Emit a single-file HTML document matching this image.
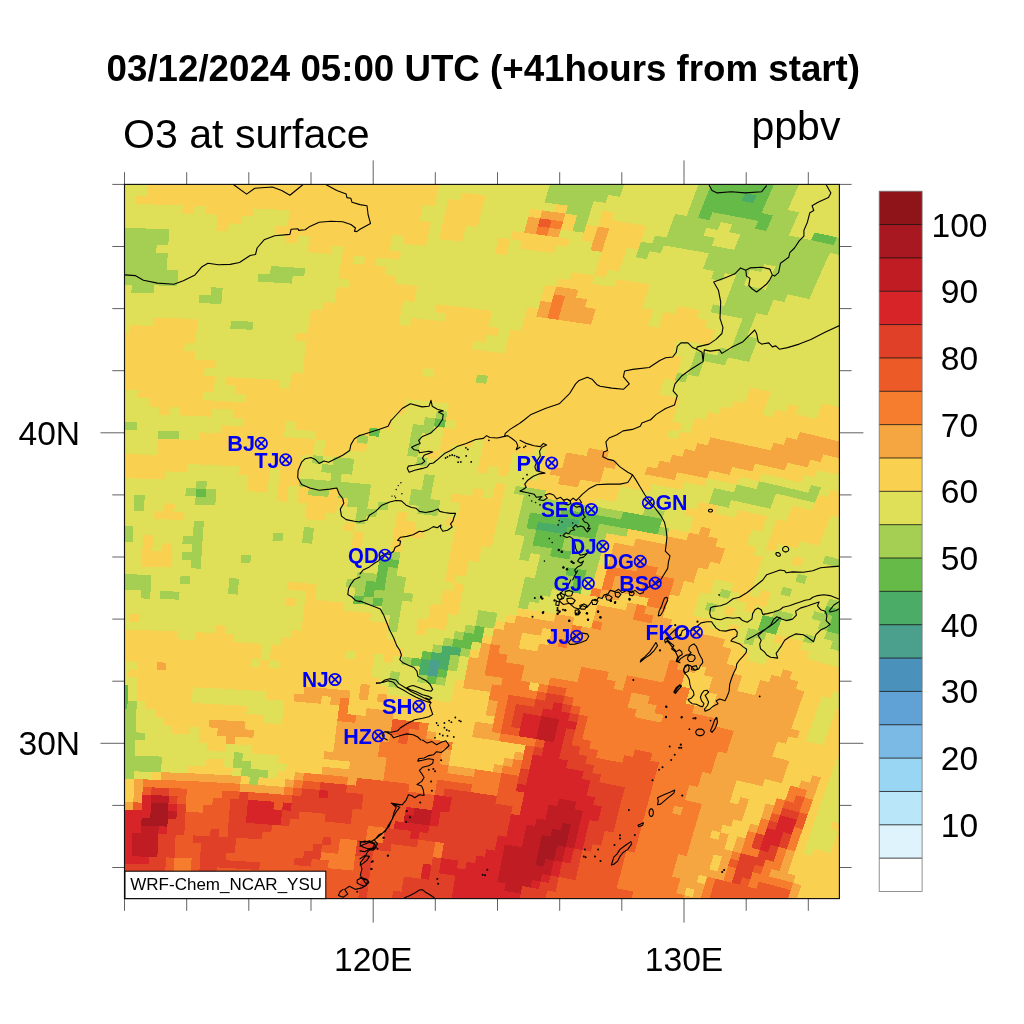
<!DOCTYPE html>
<html lang="en"><head><meta charset="utf-8"><title>O3 at surface</title>
<style>
html,body{margin:0;padding:0;background:#fff;}
svg{display:block;font-family:"Liberation Sans",Arial,Helvetica,sans-serif;}
.t{fill:#000;}
text{filter:url(#n);}
.city{fill:#0000f5;font-weight:bold;font-size:21.9px;}
</style></head><body>
<svg width="1024" height="1024" viewBox="0 0 1024 1024">
<rect width="1024" height="1024" fill="#fff"/>
<text class="t" x="483.3" y="80.5" text-anchor="middle" font-weight="bold" font-size="36.7px">03/12/2024 05:00 UTC (+41hours from start)</text>
<text class="t" x="123" y="148" font-size="41.1px">O3 at surface</text>
<text class="t" x="840.5" y="139.7" text-anchor="end" font-size="41.1px">ppbv</text>
<defs><filter id="n" x="-5%" y="-20%" width="110%" height="140%"><feOffset dx="0" dy="0"/></filter><clipPath id="fc"><rect x="124.5" y="184.4" width="714.9" height="714.2"/></clipPath></defs>
<g shape-rendering="crispEdges" clip-path="url(#fc)">
<rect x="124.5" y="184.4" width="714.9" height="714.2" fill="#FAD050"/>
<path fill="#4AA08C" d="M429.1 667.8L438.4 668.9L437 676.7L427.8 675.6ZM430.5 660L439.8 661.1L438.4 668.9L429.1 667.8Z"/>
<path fill="#4AAC66" d="M419.9 666.6L429.1 667.8L427.8 675.6L418.5 674.4ZM421.2 658.8L430.5 660L429.1 667.8L419.9 666.6ZM439.8 661.1L449.1 662.3L447.6 670.1L438.4 668.9ZM431.9 652.2L441.2 653.3L450.5 654.5L449.1 662.3L439.8 661.1L430.5 660ZM442.6 645.5L452 646.7L461.3 648L459.8 655.8L450.5 654.5L441.2 653.3ZM538.1 521.8L548 523.4L557.8 524.9L567.6 526.5L565.6 534.3L555.8 532.8L546 531.2L536.2 529.7ZM559.8 517.1L569.7 518.7L579.5 520.3L577.4 528.1L567.6 526.5L557.8 524.9ZM745.1 193.2L756.6 195.4L753.3 203.1L741.8 201Z"/>
<path fill="#66BA48" d="M118.4 700.7L127.6 700.9L127.4 708.7L118.2 708.5ZM118.6 692.8L127.8 693L127.6 700.9L118.4 700.7ZM118.8 685L128.1 685.2L127.8 693L118.6 692.8ZM427.8 675.6L437 676.7L435.6 684.5L426.4 683.3ZM438.4 668.9L447.6 670.1L446.2 677.9L437 676.7ZM411.9 657.7L421.2 658.8L419.9 666.6L410.6 665.5ZM422.6 651L431.9 652.2L430.5 660L421.2 658.8ZM453.5 638.9L462.8 640.2L472.2 641.5L470.6 649.3L461.3 648L452 646.7ZM464.3 632.4L473.7 633.7L483.1 635L481.5 642.8L472.2 641.5L462.8 640.2ZM475.3 625.9L484.7 627.2L483.1 635L473.7 633.7ZM354.3 595.6L363.9 596.5L362.8 604.4L353.2 603.5ZM373.5 597.5L383.1 598.5L381.9 606.4L372.3 605.4ZM365.1 588.6L374.7 589.6L373.5 597.5L363.9 596.5ZM366.3 580.7L376 581.7L385.6 582.7L384.4 590.6L374.7 589.6L365.1 588.6ZM377.2 573.8L386.9 574.9L385.6 582.7L376 581.7ZM378.4 565.9L388.2 567L386.9 574.9L377.2 573.8ZM379.7 558L389.4 559.1L399.2 560.1L397.9 568L388.2 567L378.4 565.9ZM573 584.4L582.5 586.1L580.5 593.8L571 592.2ZM760.2 622.6L769.4 624.8L778.6 627.1L775.9 634.7L766.7 632.4L757.6 630.2ZM575 576.6L584.5 578.3L582.5 586.1L573 584.4ZM762.9 615L772.1 617.2L781.3 619.5L778.6 627.1L769.4 624.8L760.2 622.6ZM567.4 567.2L577 568.8L586.6 570.5L584.5 578.3L575 576.6L565.4 575ZM829.8 623.5L838.9 626L847.9 628.4L845 635.9L835.9 633.5L826.9 631.1ZM832.7 616L841.8 618.4L850.9 620.9L847.9 628.4L838.9 626L829.8 623.5ZM551.9 548.4L561.7 550L571.3 551.6L569.3 559.4L559.7 557.8L550 556.2ZM826.4 606L835.6 608.4L844.8 610.9L841.8 618.4L832.7 616L823.5 613.6ZM534.3 537.5L544.1 539L553.9 540.6L563.6 542.2L561.7 550L551.9 548.4L542.2 546.9L532.5 545.4ZM536.2 529.7L546 531.2L555.8 532.8L565.6 534.3L563.6 542.2L553.9 540.6L544.1 539L534.3 537.5ZM196.1 488.5L206.3 488.9L205.7 496.9L195.6 496.5ZM528.3 520.3L538.1 521.8L536.2 529.7L526.4 528.2ZM567.6 526.5L577.4 528.1L587.2 529.8L597 531.5L594.9 539.3L585.2 537.6L575.4 536L565.6 534.3ZM530.1 512.5L540 514L549.9 515.5L559.8 517.1L557.8 524.9L548 523.4L538.1 521.8L528.3 520.3ZM579.5 520.3L589.3 522L599.1 523.7L597 531.5L587.2 529.8L577.4 528.1ZM561.8 509.2L571.7 510.8L581.6 512.5L591.5 514.2L601.3 515.9L611.1 517.6L620.9 519.4L630.7 521.2L640.5 523L650.3 524.8L660 526.7L657.6 534.5L647.9 532.6L638.2 530.8L628.5 529L618.7 527.2L608.9 525.4L599.1 523.7L589.3 522L579.5 520.3L569.7 518.7L559.8 517.1ZM623.2 511.6L633 513.4L642.8 515.2L652.6 517.1L662.4 519L660 526.7L650.3 524.8L640.5 523L630.7 521.2L620.9 519.4ZM369.7 427.8L380.2 428.8L378.9 436.8L368.5 435.8ZM435.4 418.4L445.9 419.7L444.3 427.6L433.9 426.4ZM701 210.2L712.5 212.3L709.5 220.1L698 218ZM758.2 220.9L769.6 223.2L766.3 230.9L755 228.7ZM814.7 232.5L825.9 234.9L837 237.4L833.5 245.1L822.4 242.6L811.2 240.2ZM704.1 202.4L715.6 204.5L727.1 206.6L738.6 208.7L750.1 210.9L761.5 213.1L772.9 215.4L769.6 223.2L758.2 220.9L746.9 218.7L735.4 216.5L724 214.4L712.5 212.3L701 210.2ZM707.1 194.6L718.7 196.7L730.3 198.8L741.8 201L753.3 203.1L764.8 205.4L761.5 213.1L750.1 210.9L738.6 208.7L727.1 206.6L715.6 204.5L704.1 202.4ZM710.2 186.8L721.9 188.9L733.5 191L745.1 193.2L741.8 201L730.3 198.8L718.7 196.7L707.1 194.6ZM756.6 195.4L768.2 197.6L764.8 205.4L753.3 203.1ZM713.4 179L725 181.1L736.7 183.2L748.4 185.4L760 187.6L771.5 189.9L768.2 197.6L756.6 195.4L745.1 193.2L733.5 191L721.9 188.9L710.2 186.8ZM728.3 173.3L740 175.4L751.7 177.6L763.3 179.9L774.9 182.1L771.5 189.9L760 187.6L748.4 185.4L736.7 183.2L725 181.1Z"/>
<path fill="#A4CF52" d="M116.6 771L125.5 771.2L134.4 771.4L134.1 779.1L125.3 778.9L116.4 778.8ZM249.9 776.6L258.8 777.2L258.1 785L249.2 784.4ZM116.8 763.2L125.7 763.4L134.7 763.6L143.6 763.8L152.5 764.1L161.5 764.4L161.1 772.2L152.2 771.9L143.3 771.6L134.4 771.4L125.5 771.2L116.6 771ZM241.7 768.3L250.6 768.9L259.5 769.5L268.3 770.1L267.6 777.9L258.8 777.2L249.9 776.6L241 776.1ZM117 755.4L125.9 755.6L134.9 755.8L143.9 756.1L152.8 756.3L161.8 756.6L161.5 764.4L152.5 764.1L143.6 763.8L134.7 763.6L125.7 763.4L116.8 763.2ZM233.4 760L242.3 760.6L251.2 761.1L250.6 768.9L241.7 768.3L232.8 767.8ZM117.2 747.6L126.2 747.8L135.2 748L134.9 755.8L125.9 755.6L117 755.4ZM234 752.2L243 752.8L242.3 760.6L233.4 760ZM117.4 739.8L126.4 740L135.4 740.2L135.2 748L126.2 747.8L117.2 747.6ZM117.6 732L126.6 732.2L135.7 732.4L144.8 732.7L144.5 740.5L135.4 740.2L126.4 740L117.4 739.8ZM117.8 724.2L126.9 724.4L136 724.6L135.7 732.4L126.6 732.2L117.6 732ZM118 716.4L127.1 716.5L136.2 716.8L136 724.6L126.9 724.4L117.8 724.2ZM118.2 708.5L127.4 708.7L136.5 708.9L136.2 716.8L127.1 716.5L118 716.4ZM127.6 700.9L136.8 701.1L136.5 708.9L127.4 708.7ZM389.6 679L398.8 680L397.6 687.8L388.4 686.8ZM390.8 671.2L400.1 672.2L398.8 680L389.6 679ZM418.5 674.4L427.8 675.6L426.4 683.3L417.2 682.2ZM437 676.7L446.2 677.9L444.8 685.7L435.6 684.5ZM402.6 656.6L411.9 657.7L410.6 665.5L401.3 664.4ZM449.1 662.3L458.3 663.6L456.8 671.4L447.6 670.1ZM450.5 654.5L459.8 655.8L458.3 663.6L449.1 662.3ZM433.3 644.3L442.6 645.5L441.2 653.3L431.9 652.2ZM461.3 648L470.6 649.3L469.1 657.1L459.8 655.8ZM444.1 637.7L453.5 638.9L452 646.7L442.6 645.5ZM388.9 623.1L398.4 624.2L397.1 632L387.7 631ZM454.9 631.1L464.3 632.4L462.8 640.2L453.5 638.9ZM390.2 615.3L399.7 616.3L398.4 624.2L388.9 623.1ZM465.9 624.6L475.3 625.9L473.7 633.7L464.3 632.4ZM140.9 590.5L150.6 590.8L150.2 598.7L140.6 598.4ZM160.3 591.1L169.9 591.4L179.6 591.8L179.2 599.7L169.5 599.3L159.9 599ZM381.9 606.4L391.4 607.4L401 608.5L399.7 616.3L390.2 615.3L380.6 614.3ZM476.9 618L486.3 619.4L495.7 620.7L494.1 628.5L484.7 627.2L475.3 625.9ZM111.9 581.9L121.7 582.1L131.4 582.3L141.2 582.6L150.9 582.8L150.6 590.8L140.9 590.5L131.2 590.3L121.5 590.1L111.7 589.9ZM228.7 586.1L238.4 586.6L237.7 594.6L228 594ZM363.9 596.5L373.5 597.5L372.3 605.4L362.8 604.4ZM383.1 598.5L392.7 599.5L402.3 600.6L401 608.5L391.4 607.4L381.9 606.4ZM478.5 610.2L487.9 611.6L497.4 612.9L495.7 620.7L486.3 619.4L476.9 618ZM112.1 574L121.9 574.2L131.7 574.4L141.5 574.6L151.3 574.9L150.9 582.8L141.2 582.6L131.4 582.3L121.7 582.1L111.9 581.9ZM180.6 575.9L190.3 576.3L189.8 584.2L180.1 583.8ZM229.3 578.1L239.1 578.7L238.4 586.6L228.7 586.1ZM355.4 587.7L365.1 588.6L363.9 596.5L354.3 595.6ZM374.7 589.6L384.4 590.6L394 591.7L403.6 592.7L413.2 593.8L411.8 601.7L402.3 600.6L392.7 599.5L383.1 598.5L373.5 597.5ZM346.9 578.9L356.6 579.8L366.3 580.7L365.1 588.6L355.4 587.7L345.8 586.8ZM385.6 582.7L395.3 583.8L404.9 584.9L403.6 592.7L394 591.7L384.4 590.6ZM519.8 600.1L529.3 601.6L527.5 609.4L518 607.9ZM191.3 560.3L201.2 560.8L200.6 568.7L190.8 568.3ZM357.7 571.9L367.5 572.8L377.2 573.8L376 581.7L366.3 580.7L356.6 579.8ZM386.9 574.9L396.6 575.9L406.3 577L404.9 584.9L395.3 583.8L385.6 582.7ZM521.6 592.3L531.1 593.8L540.6 595.3L538.7 603.1L529.3 601.6L519.8 600.1ZM745.9 635.7L755 637.8L752.4 645.4L743.3 643.3ZM182 552L191.8 552.4L201.7 552.8L201.2 560.8L191.3 560.3L181.5 559.9ZM241.2 554.8L251 555.4L250.3 563.4L240.5 562.8ZM388.2 567L397.9 568L396.6 575.9L386.9 574.9ZM523.3 584.5L532.9 586L542.4 587.5L552 589L550.1 596.8L540.6 595.3L531.1 593.8L521.6 592.3ZM748.4 628.1L757.6 630.2L766.7 632.4L764.1 640L755 637.8L745.9 635.7ZM192.4 544.4L202.3 544.8L201.7 552.8L191.8 552.4ZM525.1 576.7L534.7 578.2L544.3 579.7L553.9 581.2L563.4 582.8L573 584.4L571 592.2L561.5 590.6L552 589L542.4 587.5L532.9 586L523.3 584.5ZM805.9 633.9L815 636.3L812.1 643.8L803.1 641.5ZM833 641L842.1 643.5L851 645.9L848.1 653.4L839.2 651L830.2 648.6ZM113.1 534.1L123.1 534.3L133.1 534.5L132.8 542.5L122.9 542.3L112.9 542.1ZM182.9 536L192.9 536.4L202.8 536.9L202.3 544.8L192.4 544.4L182.4 544ZM390.7 551.1L400.5 552.2L399.2 560.1L389.4 559.1ZM536.6 570.4L546.2 571.9L555.8 573.4L565.4 575L575 576.6L573 584.4L563.4 582.8L553.9 581.2L544.3 579.7L534.7 578.2ZM707.3 602.3L716.6 604.3L714.1 612L704.8 610ZM826.9 631.1L835.9 633.5L845 635.9L842.1 643.5L833 641L824 638.6ZM113.3 526.1L123.4 526.3L133.4 526.5L133.1 534.5L123.1 534.3L113.1 534.1ZM193.4 528.5L203.4 528.9L202.8 536.9L192.9 536.4ZM273.2 532.8L283.2 533.5L282.3 541.5L272.4 540.8ZM303 535L313 535.8L312 543.7L302.1 543ZM538.4 562.5L548.1 564.1L557.7 565.6L567.4 567.2L565.4 575L555.8 573.4L546.2 571.9L536.6 570.4ZM586.6 570.5L596.1 572.2L594.1 579.9L584.5 578.3ZM774.8 609.6L784 611.9L793.2 614.1L790.4 621.7L781.3 619.5L772.1 617.2ZM820.7 621.2L829.8 623.5L826.9 631.1L817.8 628.7ZM193.9 520.5L204 520.9L203.4 528.9L193.4 528.5ZM304 527.1L314 527.8L313 535.8L303 535ZM520.9 551.7L530.6 553.2L528.8 561L519.1 559.6ZM540.3 554.7L550 556.2L559.7 557.8L569.3 559.4L579 561L588.6 562.7L598.2 564.4L596.1 572.2L586.6 570.5L577 568.8L567.4 567.2L557.7 565.6L548.1 564.1L538.4 562.5ZM721.6 589L731 591.1L728.4 598.8L719.1 596.7ZM814.4 611.2L823.5 613.6L832.7 616L829.8 623.5L820.7 621.2L811.5 618.8ZM522.7 543.9L532.5 545.4L542.2 546.9L551.9 548.4L550 556.2L540.3 554.7L530.6 553.2L520.9 551.7ZM571.3 551.6L581 553.2L590.7 554.9L600.3 556.6L598.2 564.4L588.6 562.7L579 561L569.3 559.4ZM134.2 502.5L144.4 502.8L144 510.8L134 510.5ZM356.1 515.4L366.1 516.4L364.9 524.3L354.9 523.4ZM524.6 536L534.3 537.5L532.5 545.4L522.7 543.9ZM563.6 542.2L573.4 543.8L583.1 545.4L592.8 547.1L602.5 548.8L600.3 556.6L590.7 554.9L581 553.2L571.3 551.6L561.7 550ZM783 586.8L792.3 589L789.5 596.7L780.3 594.4ZM829.4 598.5L838.6 600.9L847.7 603.3L844.8 610.9L835.6 608.4L826.4 606ZM134.5 494.5L144.7 494.7L144.4 502.8L134.2 502.5ZM195.6 496.5L205.7 496.9L215.9 497.4L215.2 505.4L205.1 504.9L195 504.5ZM357.3 507.5L367.3 508.5L377.4 509.5L376.1 517.4L366.1 516.4L356.1 515.4ZM516.6 526.7L526.4 528.2L536.2 529.7L534.3 537.5L524.6 536L514.7 534.6ZM565.6 534.3L575.4 536L585.2 537.6L594.9 539.3L604.6 541L602.5 548.8L592.8 547.1L583.1 545.4L573.4 543.8L563.6 542.2ZM841.5 593.3L850.7 595.8L847.7 603.3L838.6 600.9ZM185.9 488.1L196.1 488.5L195.6 496.5L185.4 496.1ZM206.3 488.9L216.5 489.4L215.9 497.4L205.7 496.9ZM348.4 498.6L358.5 499.5L368.6 500.5L367.3 508.5L357.3 507.5L347.2 506.6ZM378.6 501.5L388.7 502.5L387.4 510.5L377.4 509.5ZM418.8 505.8L428.8 507L438.8 508.2L437.3 516.1L427.3 514.9L417.4 513.8ZM518.4 518.8L528.3 520.3L526.4 528.2L516.6 526.7ZM597 531.5L606.8 533.2L604.6 541L594.9 539.3ZM798 573.8L807.3 576.1L804.5 583.8L795.2 581.4ZM196.6 480.5L206.9 480.9L206.3 488.9L196.1 488.5ZM309 487.2L319.1 488L329.3 488.9L328.2 496.8L318.1 496L307.9 495.2ZM339.4 489.7L349.6 490.6L359.7 491.6L369.8 492.6L368.6 500.5L358.5 499.5L348.4 498.6L338.3 497.7ZM410.2 496.8L420.3 497.9L430.3 499.1L440.4 500.3L438.8 508.2L428.8 507L418.8 505.8L408.8 504.7ZM520.2 511L530.1 512.5L528.3 520.3L518.4 518.8ZM599.1 523.7L608.9 525.4L618.7 527.2L628.5 529L626.2 536.7L616.5 535L606.8 533.2L597 531.5ZM299.8 478.5L310 479.2L320.2 480L330.4 480.9L340.6 481.8L350.7 482.7L360.9 483.6L371.1 484.6L369.8 492.6L359.7 491.6L349.6 490.6L339.4 489.7L329.3 488.9L319.1 488L309 487.2L298.8 486.4ZM411.6 488.8L421.7 490L431.8 491.1L430.3 499.1L420.3 497.9L410.2 496.8ZM522.1 503.1L532 504.6L542 506.1L551.9 507.7L561.8 509.2L559.8 517.1L549.9 515.5L540 514L530.1 512.5L520.2 511ZM660 526.7L669.7 528.6L667.3 536.4L657.6 534.5ZM331.5 472.9L341.7 473.8L340.6 481.8L330.4 480.9ZM423.2 482L433.3 483.2L431.8 491.1L421.7 490ZM523.9 495.2L533.9 496.7L543.9 498.2L553.9 499.8L563.8 501.4L573.8 503L583.7 504.7L593.6 506.3L603.5 508L613.3 509.8L623.2 511.6L620.9 519.4L611.1 517.6L601.3 515.9L591.5 514.2L581.6 512.5L571.7 510.8L561.8 509.2L551.9 507.7L542 506.1L532 504.6L522.1 503.1ZM825.5 555.7L834.9 558.1L844.3 560.6L841.3 568.2L831.9 565.7L822.5 563.3ZM322.3 464.1L332.6 464.9L342.9 465.8L353.1 466.7L351.9 474.7L341.7 473.8L331.5 472.9L321.2 472.1ZM424.7 474.1L434.9 475.3L433.3 483.2L423.2 482ZM515.8 485.9L525.8 487.3L535.9 488.8L545.9 490.4L543.9 498.2L533.9 496.7L523.9 495.2L513.9 493.8ZM645.2 507.4L655 509.3L664.8 511.2L662.4 519L652.6 517.1L642.8 515.2ZM313.1 455.3L323.4 456.1L322.3 464.1L312 463.3ZM333.7 456.9L344 457.8L354.3 458.8L353.1 466.7L342.9 465.8L332.6 464.9ZM417.4 457L427.7 458.2L426.2 466.2L416 465ZM158 430.8L168.5 431.1L179 431.5L178.6 439.5L168.1 439.2L157.6 438.9ZM408.6 448L418.9 449.1L417.4 457L407.1 455.9ZM711.7 495.9L721.5 498L731.3 500.1L728.6 507.8L718.8 505.7L709 503.6ZM116.2 421.8L126.7 422L137.3 422.2L137 430.3L126.5 430L115.9 429.9ZM358 434.8L368.5 435.8L367.2 443.8L356.8 442.8ZM410 440L420.4 441.1L418.9 449.1L408.6 448ZM714.3 488.1L724.1 490.2L734 492.4L743.8 494.5L753.6 496.7L763.4 498.9L773.1 501.1L770.3 508.8L760.5 506.6L750.8 504.4L741.1 502.2L731.3 500.1L721.5 498L711.7 495.9ZM411.5 432L421.9 433.2L420.4 441.1L410 440ZM736.7 484.6L746.6 486.8L756.4 489L766.2 491.2L776 493.5L773.1 501.1L763.4 498.9L753.6 496.7L743.8 494.5L734 492.4ZM413 424.1L423.4 425.2L433.9 426.4L432.3 434.3L421.9 433.2L411.5 432ZM759.2 481.3L769.1 483.5L778.9 485.8L788.7 488.1L798.4 490.4L808.2 492.7L817.9 495.1L814.9 502.8L805.2 500.4L795.5 498.1L785.7 495.7L776 493.5L766.2 491.2L756.4 489ZM425 417.2L435.4 418.4L433.9 426.4L423.4 425.2ZM811.2 485.1L821 487.5L817.9 495.1L808.2 492.7ZM437 410.5L447.5 411.7L445.9 419.7L435.4 418.4ZM477.3 374.5L488 375.8L486.2 383.8L475.5 382.4ZM231 320.6L242.1 321.2L253.3 321.8L252.4 329.8L241.3 329.3L230.3 328.7ZM677.4 372.7L688 374.7L685.3 382.5L674.8 380.6ZM690.7 366.9L701.2 369L698.4 376.8L688 374.7ZM693.4 359.1L704 361.1L701.2 369L690.7 366.9ZM199.4 294.9L210.7 295.4L222 295.9L221.3 304L210 303.5L198.8 303ZM696.1 351.3L706.8 353.3L717.4 355.4L727.9 357.5L725 365.3L714.5 363.2L704 361.1L693.4 359.1ZM131.7 284.9L143.1 285.1L154.5 285.4L154.1 293.5L142.8 293.2L131.4 292.9ZM211.4 287.3L222.7 287.8L222 295.9L210.7 295.4ZM720.2 347.6L730.8 349.8L741.4 351.9L752 354.1L749 361.9L738.5 359.7L727.9 357.5L717.4 355.4ZM120.6 276.6L132.1 276.8L143.5 277L154.9 277.3L166.4 277.6L177.8 278L177.3 286.1L165.9 285.7L154.5 285.4L143.1 285.1L131.7 284.9L120.3 284.6ZM733.8 342L744.4 344.1L755 346.3L752 354.1L741.4 351.9L730.8 349.8ZM120.9 268.5L132.4 268.7L143.9 268.9L155.4 269.2L166.9 269.5L178.3 269.9L177.8 278L166.4 277.6L154.9 277.3L143.5 277L132.1 276.8L120.6 276.6ZM258.6 273.5L270 274.1L281.4 274.8L292.8 275.5L291.8 283.6L280.4 282.9L269 282.2L257.7 281.5ZM736.7 334.2L747.4 336.4L758 338.6L755 346.3L744.4 344.1L733.8 342ZM121.2 260.4L132.7 260.6L144.3 260.9L155.8 261.1L167.3 261.5L166.9 269.5L155.4 269.2L143.9 268.9L132.4 268.7L120.9 268.5ZM270.9 266.1L282.4 266.7L293.9 267.5L305.3 268.2L304.2 276.3L292.8 275.5L281.4 274.8L270 274.1ZM739.7 326.4L750.4 328.6L747.4 336.4L736.7 334.2ZM121.4 252.3L133 252.5L144.6 252.8L156.2 253.1L167.8 253.4L167.3 261.5L155.8 261.1L144.3 260.9L132.7 260.6L121.2 260.4ZM742.7 318.6L753.5 320.8L750.4 328.6L739.7 326.4ZM121.7 244.2L133.4 244.5L145 244.7L156.7 245L156.2 253.1L144.6 252.8L133 252.5L121.4 252.3ZM713.2 304.4L724.1 306.5L734.9 308.7L745.7 310.9L756.5 313.1L753.5 320.8L742.7 318.6L731.9 316.5L721.1 314.3L710.3 312.2ZM122 236.2L133.7 236.4L145.4 236.6L157.1 236.9L168.8 237.2L168.3 245.3L156.7 245L145 244.7L133.4 244.5L121.7 244.2ZM727 298.7L737.9 300.9L748.8 303.1L759.6 305.3L770.4 307.5L767.3 315.3L756.5 313.1L745.7 310.9L734.9 308.7L724.1 306.5ZM122.3 228.1L134 228.3L145.8 228.5L157.6 228.8L169.3 229.2L168.8 237.2L157.1 236.9L145.4 236.6L133.7 236.4L122 236.2ZM730 291L741 293.1L751.9 295.3L762.8 297.5L773.6 299.8L770.4 307.5L759.6 305.3L748.8 303.1L737.9 300.9L727 298.7ZM733 283.2L744 285.3L755 287.5L765.9 289.8L776.8 292L787.7 294.3L784.4 302.1L773.6 299.8L762.8 297.5L751.9 295.3L741 293.1L730 291ZM714 271.1L725 273.2L722 281L711 278.9ZM736.1 275.4L747.1 277.5L744 285.3L733 283.2ZM769.1 282L780 284.3L791 286.6L801.8 289L812.7 291.3L809.3 299.1L798.5 296.7L787.7 294.3L776.8 292L765.9 289.8ZM638.3 249.5L649.6 251.3L646.9 259.2L635.7 257.3ZM705.8 261.2L717 263.3L728.1 265.4L739.2 267.6L750.2 269.8L747.1 277.5L736.1 275.4L725 273.2L714 271.1L702.9 269ZM772.3 274.3L783.3 276.5L794.3 278.9L805.2 281.2L816.1 283.6L812.7 291.3L801.8 289L791 286.6L780 284.3L769.1 282ZM641 241.6L652.4 243.5L663.7 245.4L660.9 253.2L649.6 251.3L638.3 249.5ZM708.8 253.4L720 255.5L731.1 257.6L742.3 259.8L753.4 262L764.5 264.2L761.3 272L750.2 269.8L739.2 267.6L728.1 265.4L717 263.3L705.8 261.2ZM775.6 266.5L786.6 268.8L797.6 271.1L808.6 273.5L819.5 275.9L816.1 283.6L805.2 281.2L794.3 278.9L783.3 276.5L772.3 274.3ZM574.8 223.2L586.3 224.8L583.9 232.7L572.4 231.1ZM655.1 235.6L666.5 237.5L677.9 239.5L689.2 241.5L700.5 243.5L711.8 245.6L723 247.7L734.2 249.8L745.4 252L756.6 254.2L767.7 256.5L778.8 258.7L789.9 261.1L800.9 263.4L812 265.8L822.9 268.2L819.5 275.9L808.6 273.5L797.6 271.1L786.6 268.8L775.6 266.5L764.5 264.2L753.4 262L742.3 259.8L731.1 257.6L720 255.5L708.8 253.4L697.5 251.3L686.3 249.3L675 247.3L663.7 245.4L652.4 243.5ZM577.2 215.2L588.8 216.9L586.3 224.8L574.8 223.2ZM669.3 229.7L680.7 231.7L692.1 233.7L703.5 235.7L714.8 237.8L711.8 245.6L700.5 243.5L689.2 241.5L677.9 239.5L666.5 237.5ZM737.3 242L748.6 244.2L759.8 246.4L771 248.7L782.1 251L793.2 253.3L804.3 255.7L815.4 258.1L826.4 260.5L822.9 268.2L812 265.8L800.9 263.4L789.9 261.1L778.8 258.7L767.7 256.5L756.6 254.2L745.4 252L734.2 249.8ZM568 205.7L579.7 207.3L591.3 209L588.8 216.9L577.2 215.2L565.6 213.6ZM672.2 221.9L683.6 223.8L695.1 225.8L706.5 227.9L703.5 235.7L692.1 233.7L680.7 231.7L669.3 229.7ZM740.5 234.3L751.8 236.5L763 238.7L774.3 240.9L785.4 243.2L796.6 245.6L807.8 247.9L818.9 250.3L829.9 252.8L826.4 260.5L815.4 258.1L804.3 255.7L793.2 253.3L782.1 251L771 248.7L759.8 246.4L748.6 244.2L737.3 242ZM546.9 194.6L558.6 196.2L570.4 197.8L582.1 199.4L593.8 201.1L591.3 209L579.7 207.3L568 205.7L556.3 204.1L544.6 202.5ZM675.1 214L686.6 216L698 218L709.5 220.1L720.9 222.2L717.8 230L706.5 227.9L695.1 225.8L683.6 223.8L672.2 221.9ZM732.3 224.3L743.7 226.5L755 228.7L766.3 230.9L777.6 233.2L788.8 235.5L800 237.8L811.2 240.2L822.4 242.6L833.5 245.1L844.6 247.6L841 255.3L829.9 252.8L818.9 250.3L807.8 247.9L796.6 245.6L785.4 243.2L774.3 240.9L763 238.7L751.8 236.5L740.5 234.3L729.2 232.1ZM549.2 186.6L561 188.2L572.8 189.9L584.6 191.5L596.4 193.2L608.1 195L605.5 202.9L593.8 201.1L582.1 199.4L570.4 197.8L558.6 196.2L546.9 194.6ZM689.5 208.2L701 210.2L698 218L686.6 216ZM712.5 212.3L724 214.4L735.4 216.5L746.9 218.7L758.2 220.9L755 228.7L743.7 226.5L732.3 224.3L720.9 222.2L709.5 220.1ZM769.6 223.2L780.9 225.4L792.2 227.8L788.8 235.5L777.6 233.2L766.3 230.9ZM837 237.4L848.2 239.9L844.6 247.6L833.5 245.1ZM551.6 178.7L563.4 180.3L575.3 182L587.1 183.6L598.9 185.3L610.7 187.1L622.5 188.9L619.8 196.7L608.1 195L596.4 193.2L584.6 191.5L572.8 189.9L561 188.2L549.2 186.6ZM692.5 200.3L704.1 202.4L701 210.2L689.5 208.2ZM772.9 215.4L784.3 217.7L795.6 220L792.2 227.8L780.9 225.4L769.6 223.2ZM565.9 172.4L577.8 174L589.7 175.7L601.5 177.4L613.4 179.2L625.2 181L622.5 188.9L610.7 187.1L598.9 185.3L587.1 183.6L575.3 182L563.4 180.3ZM695.5 192.5L707.1 194.6L704.1 202.4L692.5 200.3ZM764.8 205.4L776.3 207.6L787.7 210L799.1 212.3L795.6 220L784.3 217.7L772.9 215.4L761.5 213.1ZM698.6 184.7L710.2 186.8L707.1 194.6L695.5 192.5ZM768.2 197.6L779.7 199.9L791.1 202.2L787.7 210L776.3 207.6L764.8 205.4ZM701.6 176.9L713.4 179L710.2 186.8L698.6 184.7ZM771.5 189.9L783.1 192.2L794.6 194.5L791.1 202.2L779.7 199.9L768.2 197.6ZM774.9 182.1L786.5 184.4L798.1 186.8L794.6 194.5L783.1 192.2L771.5 189.9ZM766.7 172.1L778.4 174.4L790 176.7L801.6 179L798.1 186.8L786.5 184.4L774.9 182.1L763.3 179.9Z"/>
<path fill="#DFDF58" d="M134.4 771.4L143.3 771.6L152.2 771.9L151.9 779.6L143 779.4L134.1 779.1ZM161.5 764.4L170.4 764.7L179.3 765.1L188.2 765.5L187.8 773.2L178.9 772.8L170 772.5L161.1 772.2ZM232.8 767.8L241.7 768.3L241 776.1L232.2 775.5ZM268.3 770.1L277.2 770.8L276.5 778.5L267.6 777.9ZM161.8 756.6L170.8 756.9L179.7 757.3L188.7 757.7L197.6 758.1L206.6 758.5L206.1 766.3L197.1 765.9L188.2 765.5L179.3 765.1L170.4 764.7L161.5 764.4ZM224.5 759.5L233.4 760L232.8 767.8L223.9 767.3ZM251.2 761.1L260.2 761.7L269.1 762.4L278 763L286.9 763.7L286.1 771.5L277.2 770.8L268.3 770.1L259.5 769.5L250.6 768.9ZM135.2 748L144.2 748.3L153.2 748.5L162.2 748.8L171.2 749.2L180.1 749.5L189.1 749.9L198.1 750.3L207.1 750.7L216.1 751.2L225 751.7L234 752.2L233.4 760L224.5 759.5L215.5 759L206.6 758.5L197.6 758.1L188.7 757.7L179.7 757.3L170.8 756.9L161.8 756.6L152.8 756.3L143.9 756.1L134.9 755.8ZM243 752.8L251.9 753.4L260.9 754L269.8 754.6L278.8 755.3L278 763L269.1 762.4L260.2 761.7L251.2 761.1L242.3 760.6ZM805.8 846.3L814.1 848.5L811.5 855.9L803.3 853.6ZM135.4 740.2L144.5 740.5L153.5 740.7L162.5 741L171.6 741.4L180.6 741.7L189.6 742.1L198.6 742.5L207.6 743L207.1 750.7L198.1 750.3L189.1 749.9L180.1 749.5L171.2 749.2L162.2 748.8L153.2 748.5L144.2 748.3L135.2 748ZM225.6 743.9L234.6 744.5L243.6 745L252.6 745.6L251.9 753.4L243 752.8L234 752.2L225 751.7ZM808.4 838.9L816.6 841.2L824.8 843.5L833.1 845.8L830.4 853.2L822.3 850.8L814.1 848.5L805.8 846.3ZM144.8 732.7L153.8 732.9L162.9 733.2L172 733.6L181 733.9L190.1 734.3L199.1 734.7L198.6 742.5L189.6 742.1L180.6 741.7L171.6 741.4L162.5 741L153.5 740.7L144.5 740.5ZM810.9 831.6L819.2 833.9L827.5 836.2L835.7 838.5L833.1 845.8L824.8 843.5L816.6 841.2L808.4 838.9ZM136 724.6L145.1 724.8L154.2 725.1L163.3 725.4L172.4 725.7L172 733.6L162.9 733.2L153.8 732.9L144.8 732.7L135.7 732.4ZM190.5 726.5L199.6 726.9L199.1 734.7L190.1 734.3ZM813.5 824.2L821.8 826.5L830.1 828.8L838.3 831.2L835.7 838.5L827.5 836.2L819.2 833.9L810.9 831.6ZM136.2 716.8L145.4 717L154.5 717.3L163.6 717.6L163.3 725.4L154.2 725.1L145.1 724.8L136 724.6ZM816.1 816.8L824.4 819.2L832.7 821.5L830.1 828.8L821.8 826.5L813.5 824.2ZM136.5 708.9L145.7 709.2L154.8 709.5L154.5 717.3L145.4 717L136.2 716.8ZM264.5 715L273.6 715.7L282.7 716.3L281.9 724.1L272.9 723.5L263.8 722.8ZM818.7 809.5L827.1 811.8L835.4 814.1L843.7 816.5L852 818.9L849.3 826.2L841 823.9L832.7 821.5L824.4 819.2L816.1 816.8ZM136.8 701.1L146 701.3L145.7 709.2L136.5 708.9ZM247 706L256.1 706.6L265.3 707.2L274.4 707.9L283.5 708.5L282.7 716.3L273.6 715.7L264.5 715L255.4 714.4L246.3 713.8ZM821.3 802.1L829.7 804.4L838.1 806.8L846.4 809.2L843.7 816.5L835.4 814.1L827.1 811.8L818.7 809.5ZM127.8 693L137.1 693.2L136.8 701.1L127.6 700.9ZM192.4 695.2L201.6 695.6L210.8 696.1L220.1 696.5L229.3 697L238.5 697.6L247.6 698.2L256.8 698.8L266 699.4L275.2 700L284.4 700.7L283.5 708.5L274.4 707.9L265.3 707.2L256.1 706.6L247 706L237.8 705.4L228.6 704.9L219.5 704.4L210.3 703.9L201.1 703.4L191.9 703ZM824 794.7L832.4 797L840.8 799.4L849.1 801.8L846.4 809.2L838.1 806.8L829.7 804.4L821.3 802.1ZM128.1 685.2L137.3 685.4L137.1 693.2L127.8 693ZM192.9 687.3L202.2 687.7L211.4 688.2L220.6 688.7L229.9 689.2L239.1 689.7L248.3 690.3L257.6 690.9L266.8 691.6L266 699.4L256.8 698.8L247.6 698.2L238.5 697.6L229.3 697L220.1 696.5L210.8 696.1L201.6 695.6L192.4 695.2ZM826.7 787.3L835.1 789.7L843.5 792L851.9 794.5L849.1 801.8L840.8 799.4L832.4 797L824 794.7ZM119 677.1L128.3 677.3L137.6 677.5L137.3 685.4L128.1 685.2L118.8 685ZM829.3 779.9L837.8 782.3L846.2 784.7L843.5 792L835.1 789.7L826.7 787.3ZM119.2 669.2L128.6 669.4L128.3 677.3L119 677.1ZM388.4 686.8L397.6 687.8L406.7 688.9L415.9 690L425.1 691.1L434.2 692.3L443.3 693.5L452.5 694.7L451 702.4L441.9 701.2L432.8 700.1L423.7 698.9L414.6 697.8L405.5 696.7L396.3 695.6L387.2 694.6ZM832 772.5L840.5 774.9L849 777.3L846.2 784.7L837.8 782.3L829.3 779.9ZM119.4 661.3L128.8 661.5L138.2 661.8L137.9 669.6L128.6 669.4L119.2 669.2ZM380.4 678L389.6 679L388.4 686.8L379.2 685.8ZM398.8 680L408 681.1L417.2 682.2L426.4 683.3L435.6 684.5L444.8 685.7L453.9 686.9L452.5 694.7L443.3 693.5L434.2 692.3L425.1 691.1L415.9 690L406.7 688.9L397.6 687.8ZM834.8 765.1L843.2 767.5L851.7 769.9L849 777.3L840.5 774.9L832 772.5ZM251.1 658.9L260.5 659.5L259.8 667.4L250.4 666.8ZM269.9 660.2L279.2 660.8L278.4 668.7L269.1 668ZM372.3 669.2L381.6 670.2L390.8 671.2L389.6 679L380.4 678L371.1 677ZM400.1 672.2L409.3 673.3L418.5 674.4L417.2 682.2L408 681.1L398.8 680ZM446.2 677.9L455.4 679.1L453.9 686.9L444.8 685.7ZM837.5 757.7L846 760.1L843.2 767.5L834.8 765.1ZM261.2 651.6L270.6 652.3L269.9 660.2L260.5 659.5ZM373.5 661.3L382.8 662.3L392.1 663.4L401.3 664.4L410.6 665.5L419.9 666.6L418.5 674.4L409.3 673.3L400.1 672.2L390.8 671.2L381.6 670.2L372.3 669.2ZM447.6 670.1L456.8 671.4L466 672.6L464.5 680.4L455.4 679.1L446.2 677.9ZM262 643.8L271.4 644.4L270.6 652.3L261.2 651.6ZM346.6 650.7L355.9 651.6L354.8 659.4L345.5 658.5ZM374.6 653.5L384 654.5L382.8 662.3L373.5 661.3ZM393.3 655.5L402.6 656.6L401.3 664.4L392.1 663.4ZM458.3 663.6L467.6 664.8L466 672.6L456.8 671.4ZM808.5 733.4L817.2 735.7L825.8 738.1L823.1 745.5L814.5 743.2L805.9 740.9ZM177.4 631.4L186.9 631.8L196.4 632.2L195.9 640.1L186.4 639.7L177 639.3ZM234.4 634.1L243.8 634.7L253.3 635.3L262.8 635.9L272.2 636.5L281.7 637.2L280.8 645.1L271.4 644.4L262 643.8L252.6 643.2L243.1 642.6L233.7 642ZM403.9 648.8L413.2 649.9L422.6 651L421.2 658.8L411.9 657.7L402.6 656.6ZM459.8 655.8L469.1 657.1L467.6 664.8L458.3 663.6ZM811.2 725.9L819.9 728.3L828.6 730.6L825.8 738.1L817.2 735.7L808.5 733.4ZM120.5 621.8L130.1 622L139.7 622.2L149.2 622.5L158.8 622.8L168.3 623.1L177.8 623.5L187.4 623.8L196.9 624.3L206.4 624.7L216 625.2L215.4 633.1L205.9 632.6L196.4 632.2L186.9 631.8L177.4 631.4L167.9 631L158.4 630.7L148.9 630.4L139.4 630.2L129.8 629.9L120.3 629.7ZM225.5 625.7L235 626.2L244.5 626.8L254 627.4L263.5 628L273 628.7L282.5 629.3L292 630L291.1 637.9L281.7 637.2L272.2 636.5L262.8 635.9L253.3 635.3L243.8 634.7L234.4 634.1L224.9 633.6ZM395.8 639.9L405.2 640.9L414.6 642.1L423.9 643.2L433.3 644.3L431.9 652.2L422.6 651L413.2 649.9L403.9 648.8L394.6 647.7ZM813.9 718.5L822.6 720.8L831.3 723.2L828.6 730.6L819.9 728.3L811.2 725.9ZM120.8 613.9L130.4 614.1L130.1 622L120.5 621.8ZM140 614.3L149.5 614.6L159.1 614.9L168.7 615.2L178.3 615.5L187.9 615.9L197.4 616.3L207 616.8L216.6 617.3L226.1 617.8L235.7 618.3L245.2 618.9L254.8 619.5L264.3 620.1L273.8 620.8L283.4 621.4L292.9 622.2L302.4 622.9L301.5 630.8L292 630L282.5 629.3L273 628.7L263.5 628L254 627.4L244.5 626.8L235 626.2L225.5 625.7L216 625.2L206.4 624.7L196.9 624.3L187.4 623.8L177.8 623.5L168.3 623.1L158.8 622.8L149.2 622.5L139.7 622.2ZM387.7 631L397.1 632L406.5 633.1L415.9 634.2L425.3 635.4L434.7 636.5L444.1 637.7L442.6 645.5L433.3 644.3L423.9 643.2L414.6 642.1L405.2 640.9L395.8 639.9L386.4 638.8ZM472.2 641.5L481.5 642.8L479.9 650.6L470.6 649.3ZM816.6 711L825.4 713.3L834.1 715.7L831.3 723.2L822.6 720.8L813.9 718.5ZM121 605.9L130.6 606.1L140.3 606.4L149.9 606.6L159.5 606.9L169.1 607.3L178.7 607.6L188.3 608L198 608.4L207.6 608.9L217.2 609.3L226.8 609.9L236.3 610.4L245.9 611L255.5 611.6L265.1 612.2L274.7 612.9L284.2 613.5L293.8 614.3L303.3 615L302.4 622.9L292.9 622.2L283.4 621.4L273.8 620.8L264.3 620.1L254.8 619.5L245.2 618.9L235.7 618.3L226.1 617.8L216.6 617.3L207 616.8L197.4 616.3L187.9 615.9L178.3 615.5L168.7 615.2L159.1 614.9L149.5 614.6L140 614.3L130.4 614.1L120.8 613.9ZM398.4 624.2L407.8 625.3L417.3 626.4L415.9 634.2L406.5 633.1L397.1 632ZM426.7 627.5L436.1 628.7L445.5 629.9L454.9 631.1L453.5 638.9L444.1 637.7L434.7 636.5L425.3 635.4ZM819.4 703.5L828.2 705.9L836.9 708.3L834.1 715.7L825.4 713.3L816.6 711ZM121.2 598L130.9 598.2L140.6 598.4L150.2 598.7L159.9 599L169.5 599.3L179.2 599.7L188.8 600.1L198.5 600.5L208.1 600.9L217.8 601.4L227.4 601.9L237 602.5L246.6 603.1L256.3 603.7L265.9 604.3L275.5 605L285.1 605.6L294.7 606.4L304.2 607.1L303.3 615L293.8 614.3L284.2 613.5L274.7 612.9L265.1 612.2L255.5 611.6L245.9 611L236.3 610.4L226.8 609.9L217.2 609.3L207.6 608.9L198 608.4L188.3 608L178.7 607.6L169.1 607.3L159.5 606.9L149.9 606.6L140.3 606.4L130.6 606.1L121 605.9ZM371.1 613.3L380.6 614.3L390.2 615.3L388.9 623.1L379.4 622.1L369.9 621.1ZM399.7 616.3L409.1 617.4L418.6 618.5L417.3 626.4L407.8 625.3L398.4 624.2ZM447 622.1L456.4 623.3L465.9 624.6L464.3 632.4L454.9 631.1L445.5 629.9ZM484.7 627.2L494.1 628.5L492.4 636.3L483.1 635ZM822.2 696L830.9 698.4L839.7 700.8L848.5 703.2L845.6 710.7L836.9 708.3L828.2 705.9L819.4 703.5ZM121.5 590.1L131.2 590.3L140.9 590.5L140.6 598.4L130.9 598.2L121.2 598ZM150.6 590.8L160.3 591.1L159.9 599L150.2 598.7ZM179.6 591.8L189.3 592.1L199 592.6L208.7 593L218.4 593.5L228 594L237.7 594.6L247.4 595.1L257 595.7L266.7 596.4L276.3 597L285.9 597.7L285.1 605.6L275.5 605L265.9 604.3L256.3 603.7L246.6 603.1L237 602.5L227.4 601.9L217.8 601.4L208.1 600.9L198.5 600.5L188.8 600.1L179.2 599.7ZM295.6 598.5L305.2 599.2L304.2 607.1L294.7 606.4ZM343.6 602.6L353.2 603.5L362.8 604.4L372.3 605.4L381.9 606.4L380.6 614.3L371.1 613.3L361.6 612.3L352.1 611.4L342.5 610.4ZM401 608.5L410.5 609.6L420 610.7L429.5 611.8L428.1 619.7L418.6 618.5L409.1 617.4L399.7 616.3ZM448.5 614.2L458 615.5L467.4 616.7L476.9 618L475.3 625.9L465.9 624.6L456.4 623.3L447 622.1ZM833.8 690.9L842.5 693.3L851.3 695.7L848.5 703.2L839.7 700.8L830.9 698.4ZM150.9 582.8L160.6 583.1L170.4 583.4L180.1 583.8L189.8 584.2L199.5 584.6L209.3 585.1L219 585.6L228.7 586.1L228 594L218.4 593.5L208.7 593L199 592.6L189.3 592.1L179.6 591.8L169.9 591.4L160.3 591.1L150.6 590.8ZM238.4 586.6L248.1 587.2L257.8 587.8L267.5 588.5L277.1 589.1L286.8 589.8L296.5 590.6L306.1 591.3L305.2 599.2L295.6 598.5L285.9 597.7L276.3 597L266.7 596.4L257 595.7L247.4 595.1L237.7 594.6ZM315.8 592.1L325.4 592.9L335.1 593.8L344.7 594.7L354.3 595.6L353.2 603.5L343.6 602.6L334 601.7L324.4 600.8L314.8 600ZM402.3 600.6L411.8 601.7L421.4 602.8L430.9 604L429.5 611.8L420 610.7L410.5 609.6L401 608.5ZM459.5 607.6L469 608.9L478.5 610.2L476.9 618L467.4 616.7L458 615.5ZM497.4 612.9L506.8 614.3L505.1 622.1L495.7 620.7ZM151.3 574.9L161 575.2L170.8 575.5L180.6 575.9L180.1 583.8L170.4 583.4L160.6 583.1L150.9 582.8ZM190.3 576.3L200.1 576.7L209.8 577.1L219.6 577.6L229.3 578.1L228.7 586.1L219 585.6L209.3 585.1L199.5 584.6L189.8 584.2ZM239.1 578.7L248.8 579.3L258.5 579.9L268.3 580.5L278 581.2L287.7 581.9L286.8 589.8L277.1 589.1L267.5 588.5L257.8 587.8L248.1 587.2L238.4 586.6ZM316.8 584.2L326.5 585L336.1 585.9L345.8 586.8L355.4 587.7L354.3 595.6L344.7 594.7L335.1 593.8L325.4 592.9L315.8 592.1ZM413.2 593.8L422.8 595L432.4 596.1L441.9 597.3L440.5 605.2L430.9 604L421.4 602.8L411.8 601.7ZM461 599.8L470.5 601.1L480.1 602.4L489.6 603.7L499.1 605.1L508.6 606.5L518 607.9L516.3 615.7L506.8 614.3L497.4 612.9L487.9 611.6L478.5 610.2L469 608.9L459.5 607.6ZM749.8 653L758.9 655.2L767.9 657.4L765.3 665L756.3 662.8L747.3 660.6ZM112.3 566L122.2 566.2L132 566.4L141.8 566.6L151.6 566.9L161.4 567.2L171.2 567.5L181 567.9L190.8 568.3L200.6 568.7L210.4 569.2L220.2 569.7L230 570.2L239.8 570.7L249.5 571.3L259.3 571.9L269.1 572.6L278.8 573.3L288.6 574L298.3 574.7L308 575.5L317.8 576.3L327.5 577.1L337.2 578L346.9 578.9L345.8 586.8L336.1 585.9L326.5 585L316.8 584.2L307.1 583.4L297.4 582.6L287.7 581.9L278 581.2L268.3 580.5L258.5 579.9L248.8 579.3L239.1 578.7L229.3 578.1L219.6 577.6L209.8 577.1L200.1 576.7L190.3 576.3L180.6 575.9L170.8 575.5L161 575.2L151.3 574.9L141.5 574.6L131.7 574.4L121.9 574.2L112.1 574ZM404.9 584.9L414.6 586L424.2 587.1L433.8 588.3L443.4 589.5L441.9 597.3L432.4 596.1L422.8 595L413.2 593.8L403.6 592.7ZM462.6 592L472.1 593.2L481.7 594.6L491.2 595.9L500.8 597.3L510.3 598.7L519.8 600.1L518 607.9L508.6 606.5L499.1 605.1L489.6 603.7L480.1 602.4L470.5 601.1L461 599.8ZM529.3 601.6L538.7 603.1L548.2 604.6L557.7 606.2L555.8 614L546.3 612.4L536.9 610.9L527.5 609.4ZM743.3 643.3L752.4 645.4L761.5 647.6L770.5 649.8L779.6 652.1L776.9 659.6L767.9 657.4L758.9 655.2L749.8 653L740.7 650.9ZM112.5 558L122.4 558.2L132.2 558.4L142.1 558.7L141.8 566.6L132 566.4L122.2 566.2L112.3 566ZM171.7 559.6L181.5 559.9L191.3 560.3L190.8 568.3L181 567.9L171.2 567.5ZM201.2 560.8L211 561.2L220.8 561.7L230.7 562.2L240.5 562.8L250.3 563.4L260.1 564L269.9 564.7L279.7 565.3L289.5 566L299.2 566.8L309 567.6L318.8 568.4L328.5 569.2L338.3 570.1L348 571L357.7 571.9L356.6 579.8L346.9 578.9L337.2 578L327.5 577.1L317.8 576.3L308 575.5L298.3 574.7L288.6 574L278.8 573.3L269.1 572.6L259.3 571.9L249.5 571.3L239.8 570.7L230 570.2L220.2 569.7L210.4 569.2L200.6 568.7ZM406.3 577L415.9 578.1L425.6 579.2L435.2 580.4L444.9 581.6L454.5 582.8L453 590.7L443.4 589.5L433.8 588.3L424.2 587.1L414.6 586L404.9 584.9ZM464.1 584.1L473.7 585.4L483.3 586.7L492.9 588.1L502.5 589.5L512 590.9L521.6 592.3L519.8 600.1L510.3 598.7L500.8 597.3L491.2 595.9L481.7 594.6L472.1 593.2L462.6 592ZM540.6 595.3L550.1 596.8L559.6 598.4L557.7 606.2L548.2 604.6L538.7 603.1ZM736.7 633.5L745.9 635.7L743.3 643.3L734.2 641.2ZM755 637.8L764.1 640L773.2 642.2L782.3 644.5L779.6 652.1L770.5 649.8L761.5 647.6L752.4 645.4ZM809.4 651.4L818.3 653.7L827.3 656.1L836.3 658.5L845.2 660.9L842.3 668.4L833.4 666L824.5 663.6L815.5 661.2L806.6 658.9ZM112.7 550.1L122.6 550.2L132.5 550.5L142.4 550.7L142.1 558.7L132.2 558.4L122.4 558.2L112.5 558ZM172.1 551.6L182 552L181.5 559.9L171.7 559.6ZM201.7 552.8L211.6 553.3L221.5 553.8L231.3 554.3L241.2 554.8L240.5 562.8L230.7 562.2L220.8 561.7L211 561.2L201.2 560.8ZM251 555.4L260.9 556.1L270.7 556.7L280.5 557.4L290.4 558.1L300.2 558.8L310 559.6L319.8 560.4L329.6 561.3L339.4 562.1L349.1 563L358.9 564L368.7 564.9L378.4 565.9L377.2 573.8L367.5 572.8L357.7 571.9L348 571L338.3 570.1L328.5 569.2L318.8 568.4L309 567.6L299.2 566.8L289.5 566L279.7 565.3L269.9 564.7L260.1 564L250.3 563.4ZM397.9 568L407.6 569.1L417.3 570.2L427 571.4L436.7 572.5L446.4 573.7L444.9 581.6L435.2 580.4L425.6 579.2L415.9 578.1L406.3 577L396.6 575.9ZM456 575L465.7 576.3L475.3 577.6L485 578.9L494.6 580.2L504.2 581.6L513.8 583.1L523.3 584.5L521.6 592.3L512 590.9L502.5 589.5L492.9 588.1L483.3 586.7L473.7 585.4L464.1 584.1L454.5 582.8ZM552 589L561.5 590.6L571 592.2L569 600L559.6 598.4L550.1 596.8ZM711.6 619.7L720.8 621.7L730.1 623.8L727.5 631.4L718.4 629.4L709.2 627.3ZM739.3 625.9L748.4 628.1L745.9 635.7L736.7 633.5ZM766.7 632.4L775.9 634.7L773.2 642.2L764.1 640ZM803.1 641.5L812.1 643.8L821.2 646.2L830.2 648.6L839.2 651L848.1 653.4L845.2 660.9L836.3 658.5L827.3 656.1L818.3 653.7L809.4 651.4L800.3 649ZM112.9 542.1L122.9 542.3L132.8 542.5L142.7 542.7L142.4 550.7L132.5 550.5L122.6 550.2L112.7 550.1ZM152.7 543L162.6 543.3L162.2 551.3L152.3 551ZM172.5 543.6L182.4 544L192.4 544.4L191.8 552.4L182 552L172.1 551.6ZM202.3 544.8L212.2 545.3L222.1 545.8L232 546.3L241.9 546.9L251.8 547.5L261.7 548.1L271.5 548.8L281.4 549.4L291.3 550.2L301.1 550.9L311 551.7L320.8 552.5L330.6 553.3L340.5 554.2L350.3 555.1L360.1 556.1L369.9 557L379.7 558L378.4 565.9L368.7 564.9L358.9 564L349.1 563L339.4 562.1L329.6 561.3L319.8 560.4L310 559.6L300.2 558.8L290.4 558.1L280.5 557.4L270.7 556.7L260.9 556.1L251 555.4L241.2 554.8L231.3 554.3L221.5 553.8L211.6 553.3L201.7 552.8ZM399.2 560.1L409 561.2L418.7 562.3L428.5 563.5L438.2 564.7L447.9 565.9L446.4 573.7L436.7 572.5L427 571.4L417.3 570.2L407.6 569.1L397.9 568ZM467.3 568.4L477 569.7L486.6 571L496.3 572.4L505.9 573.8L515.5 575.2L525.1 576.7L523.3 584.5L513.8 583.1L504.2 581.6L494.6 580.2L485 578.9L475.3 577.6L465.7 576.3ZM582.5 586.1L592 587.7L590 595.5L580.5 593.8ZM695.5 608L704.8 610L714.1 612L723.4 614.1L732.6 616.2L741.8 618.3L751 620.4L760.2 622.6L757.6 630.2L748.4 628.1L739.3 625.9L730.1 623.8L720.8 621.7L711.6 619.7L702.4 617.6L693.1 615.6ZM778.6 627.1L787.7 629.3L796.8 631.6L805.9 633.9L803.1 641.5L794 639.2L785 636.9L775.9 634.7ZM815 636.3L824 638.6L833 641L830.2 648.6L821.2 646.2L812.1 643.8ZM133.1 534.5L143.1 534.7L142.7 542.7L132.8 542.5ZM153 535L163 535.3L173 535.7L182.9 536L182.4 544L172.5 543.6L162.6 543.3L152.7 543ZM202.8 536.9L212.8 537.3L222.7 537.8L232.7 538.4L242.6 538.9L252.5 539.5L262.5 540.1L272.4 540.8L282.3 541.5L292.2 542.2L302.1 543L312 543.7L321.8 544.6L331.7 545.4L341.6 546.3L351.4 547.2L361.3 548.1L371.1 549.1L380.9 550.1L390.7 551.1L389.4 559.1L379.7 558L369.9 557L360.1 556.1L350.3 555.1L340.5 554.2L330.6 553.3L320.8 552.5L311 551.7L301.1 550.9L291.3 550.2L281.4 549.4L271.5 548.8L261.7 548.1L251.8 547.5L241.9 546.9L232 546.3L222.1 545.8L212.2 545.3L202.3 544.8ZM400.5 552.2L410.3 553.3L420.1 554.4L429.9 555.6L439.7 556.8L449.4 558L447.9 565.9L438.2 564.7L428.5 563.5L418.7 562.3L409 561.2L399.2 560.1ZM468.9 560.5L478.6 561.8L488.3 563.2L498 564.6L507.6 566L517.3 567.4L526.9 568.9L536.6 570.4L534.7 578.2L525.1 576.7L515.5 575.2L505.9 573.8L496.3 572.4L486.6 571L477 569.7L467.3 568.4ZM584.5 578.3L594.1 579.9L592 587.7L582.5 586.1ZM697.9 600.3L707.3 602.3L704.8 610L695.5 608ZM716.6 604.3L725.9 606.4L723.4 614.1L714.1 612ZM735.2 608.5L744.4 610.7L753.7 612.8L762.9 615L760.2 622.6L751 620.4L741.8 618.3L732.6 616.2ZM781.3 619.5L790.4 621.7L799.6 624L808.7 626.4L817.8 628.7L826.9 631.1L824 638.6L815 636.3L805.9 633.9L796.8 631.6L787.7 629.3L778.6 627.1ZM133.4 526.5L143.4 526.7L153.4 527L163.4 527.3L173.4 527.7L183.4 528L193.4 528.5L192.9 536.4L182.9 536L173 535.7L163 535.3L153 535L143.1 534.7L133.1 534.5ZM203.4 528.9L213.4 529.4L223.4 529.9L233.4 530.4L243.3 531L253.3 531.6L263.3 532.2L273.2 532.8L272.4 540.8L262.5 540.1L252.5 539.5L242.6 538.9L232.7 538.4L222.7 537.8L212.8 537.3L202.8 536.9ZM283.2 533.5L293.1 534.3L303 535L302.1 543L292.2 542.2L282.3 541.5ZM313 535.8L322.9 536.6L332.8 537.5L342.7 538.4L352.6 539.3L351.4 547.2L341.6 546.3L331.7 545.4L321.8 544.6L312 543.7ZM362.5 540.2L372.3 541.2L382.2 542.2L392.1 543.2L390.7 551.1L380.9 550.1L371.1 549.1L361.3 548.1ZM401.9 544.3L411.7 545.4L421.5 546.5L431.4 547.7L441.2 548.9L450.9 550.1L449.4 558L439.7 556.8L429.9 555.6L420.1 554.4L410.3 553.3L400.5 552.2ZM480.2 554L490 555.3L499.7 556.7L509.4 558.1L519.1 559.6L528.8 561L538.4 562.5L536.6 570.4L526.9 568.9L517.3 567.4L507.6 566L498 564.6L488.3 563.2L478.6 561.8ZM700.4 592.6L709.7 594.6L719.1 596.7L728.4 598.8L737.7 600.9L747 603L744.4 610.7L735.2 608.5L725.9 606.4L716.6 604.3L707.3 602.3L697.9 600.3ZM756.3 605.2L765.6 607.4L774.8 609.6L772.1 617.2L762.9 615L753.7 612.8ZM793.2 614.1L802.4 616.5L811.5 618.8L820.7 621.2L817.8 628.7L808.7 626.4L799.6 624L790.4 621.7ZM113.5 518.1L123.6 518.3L133.7 518.5L143.7 518.8L153.8 519L163.8 519.3L173.9 519.7L183.9 520.1L193.9 520.5L193.4 528.5L183.4 528L173.4 527.7L163.4 527.3L153.4 527L143.4 526.7L133.4 526.5L123.4 526.3L113.3 526.1ZM204 520.9L214 521.4L224 521.9L234 522.4L244.1 523L254.1 523.6L264.1 524.2L274.1 524.9L284 525.6L294 526.3L304 527.1L303 535L293.1 534.3L283.2 533.5L273.2 532.8L263.3 532.2L253.3 531.6L243.3 531L233.4 530.4L223.4 529.9L213.4 529.4L203.4 528.9ZM314 527.8L323.9 528.7L333.9 529.5L343.8 530.4L353.7 531.3L352.6 539.3L342.7 538.4L332.8 537.5L322.9 536.6L313 535.8ZM363.7 532.3L373.6 533.3L383.5 534.3L393.4 535.3L392.1 543.2L382.2 542.2L372.3 541.2L362.5 540.2ZM403.2 536.4L413.1 537.5L423 538.6L432.8 539.8L442.7 541L452.5 542.2L450.9 550.1L441.2 548.9L431.4 547.7L421.5 546.5L411.7 545.4L401.9 544.3ZM481.9 546.1L491.7 547.5L501.4 548.9L511.2 550.3L520.9 551.7L519.1 559.6L509.4 558.1L499.7 556.7L490 555.3L480.2 554ZM530.6 553.2L540.3 554.7L538.4 562.5L528.8 561ZM712.2 586.9L721.6 589L719.1 596.7L709.7 594.6ZM731 591.1L740.3 593.2L737.7 600.9L728.4 598.8ZM768.3 599.8L777.5 602L786.8 604.3L796 606.6L805.2 608.9L814.4 611.2L811.5 618.8L802.4 616.5L793.2 614.1L784 611.9L774.8 609.6L765.6 607.4ZM113.8 510.1L123.9 510.3L134 510.5L144 510.8L154.1 511L153.8 519L143.7 518.8L133.7 518.5L123.6 518.3L113.5 518.1ZM184.4 512.1L194.5 512.5L204.5 512.9L214.6 513.4L224.7 513.9L234.7 514.4L244.8 515L254.8 515.6L264.9 516.2L274.9 516.9L284.9 517.6L295 518.3L305 519.1L315 519.9L325 520.7L335 521.6L344.9 522.5L343.8 530.4L333.9 529.5L323.9 528.7L314 527.8L304 527.1L294 526.3L284 525.6L274.1 524.9L264.1 524.2L254.1 523.6L244.1 523L234 522.4L224 521.9L214 521.4L204 520.9L193.9 520.5L183.9 520.1ZM354.9 523.4L364.9 524.3L374.8 525.3L384.8 526.3L394.7 527.4L393.4 535.3L383.5 534.3L373.6 533.3L363.7 532.3L353.7 531.3ZM424.4 530.7L434.3 531.9L444.2 533.1L454 534.3L452.5 542.2L442.7 541L432.8 539.8L423 538.6ZM493.4 539.6L503.2 541L513 542.4L522.7 543.9L520.9 551.7L511.2 550.3L501.4 548.9L491.7 547.5ZM600.3 556.6L610 558.3L607.8 566.1L598.2 564.4ZM714.8 579.2L724.2 581.3L733.6 583.4L731 591.1L721.6 589L712.2 586.9ZM752.3 587.7L761.7 589.9L759 597.6L749.7 595.4ZM771 592.1L780.3 594.4L789.5 596.7L798.8 599L808 601.3L817.2 603.6L826.4 606L823.5 613.6L814.4 611.2L805.2 608.9L796 606.6L786.8 604.3L777.5 602L768.3 599.8ZM114 502.1L124.1 502.3L134.2 502.5L134 510.5L123.9 510.3L113.8 510.1ZM144.4 502.8L154.5 503L164.6 503.3L164.2 511.3L154.1 511L144 510.8ZM174.8 503.7L184.9 504.1L195 504.5L205.1 504.9L215.2 505.4L225.3 505.9L235.4 506.4L245.5 507L255.6 507.6L265.7 508.3L275.8 508.9L285.8 509.6L295.9 510.4L306 511.1L305 519.1L295 518.3L284.9 517.6L274.9 516.9L264.9 516.2L254.8 515.6L244.8 515L234.7 514.4L224.7 513.9L214.6 513.4L204.5 512.9L194.5 512.5L184.4 512.1L174.3 511.7ZM326 512.8L336.1 513.6L346.1 514.5L356.1 515.4L354.9 523.4L344.9 522.5L335 521.6L325 520.7ZM366.1 516.4L376.1 517.4L386.1 518.4L396 519.5L394.7 527.4L384.8 526.3L374.8 525.3L364.9 524.3ZM415.9 521.7L425.9 522.8L435.8 524L445.7 525.2L455.6 526.5L454 534.3L444.2 533.1L434.3 531.9L424.4 530.7L414.5 529.6ZM495.1 531.7L504.9 533.1L514.7 534.6L524.6 536L522.7 543.9L513 542.4L503.2 541L493.4 539.6ZM755 580.1L764.4 582.3L773.7 584.5L783 586.8L780.3 594.4L771 592.1L761.7 589.9L752.3 587.7ZM792.3 589L801.6 591.4L810.9 593.7L820.1 596.1L829.4 598.5L826.4 606L817.2 603.6L808 601.3L798.8 599L789.5 596.7ZM114.2 494.1L124.4 494.3L134.5 494.5L134.2 502.5L124.1 502.3L114 502.1ZM144.7 494.7L154.9 495L165.1 495.3L175.2 495.7L185.4 496.1L195.6 496.5L195 504.5L184.9 504.1L174.8 503.7L164.6 503.3L154.5 503L144.4 502.8ZM215.9 497.4L226 497.9L236.1 498.5L246.3 499L256.4 499.6L266.5 500.3L276.6 501L286.8 501.7L296.9 502.4L306.9 503.2L306 511.1L295.9 510.4L285.8 509.6L275.8 508.9L265.7 508.3L255.6 507.6L245.5 507L235.4 506.4L225.3 505.9L215.2 505.4ZM337.2 505.7L347.2 506.6L357.3 507.5L356.1 515.4L346.1 514.5L336.1 513.6ZM377.4 509.5L387.4 510.5L397.4 511.5L396 519.5L386.1 518.4L376.1 517.4ZM407.4 512.6L417.4 513.8L427.3 514.9L437.3 516.1L447.3 517.3L445.7 525.2L435.8 524L425.9 522.8L415.9 521.7L406 520.6ZM496.8 523.9L506.7 525.3L516.6 526.7L514.7 534.6L504.9 533.1L495.1 531.7ZM757.7 572.4L767.1 574.6L776.5 576.9L785.8 579.1L795.2 581.4L804.5 583.8L813.8 586.1L823.1 588.5L832.3 590.9L841.5 593.3L838.6 600.9L829.4 598.5L820.1 596.1L810.9 593.7L801.6 591.4L792.3 589L783 586.8L773.7 584.5L764.4 582.3L755 580.1ZM114.4 486.1L124.6 486.3L134.8 486.5L145.1 486.7L155.3 487L165.5 487.3L175.7 487.7L185.9 488.1L185.4 496.1L175.2 495.7L165.1 495.3L154.9 495L144.7 494.7L134.5 494.5L124.4 494.3L114.2 494.1ZM216.5 489.4L226.7 489.9L236.9 490.5L247 491L257.2 491.7L267.4 492.3L277.5 493L276.6 501L266.5 500.3L256.4 499.6L246.3 499L236.1 498.5L226 497.9L215.9 497.4ZM287.7 493.7L297.8 494.4L296.9 502.4L286.8 501.7ZM368.6 500.5L378.6 501.5L377.4 509.5L367.3 508.5ZM388.7 502.5L398.7 503.6L408.8 504.7L418.8 505.8L417.4 513.8L407.4 512.6L397.4 511.5L387.4 510.5ZM438.8 508.2L448.8 509.4L458.8 510.7L457.2 518.6L447.3 517.3L437.3 516.1ZM498.6 516L508.5 517.4L518.4 518.8L516.6 526.7L506.7 525.3L496.8 523.9ZM760.4 564.8L769.8 567L779.2 569.2L788.6 571.5L798 573.8L795.2 581.4L785.8 579.1L776.5 576.9L767.1 574.6L757.7 572.4ZM807.3 576.1L816.7 578.5L826 580.9L835.3 583.3L844.5 585.8L841.5 593.3L832.3 590.9L823.1 588.5L813.8 586.1L804.5 583.8ZM114.6 478.1L124.9 478.2L135.1 478.5L145.4 478.7L155.7 479L165.9 479.3L176.2 479.7L186.4 480.1L196.6 480.5L196.1 488.5L185.9 488.1L175.7 487.7L165.5 487.3L155.3 487L145.1 486.7L134.8 486.5L124.6 486.3L114.4 486.1ZM206.9 480.9L217.1 481.4L227.4 481.9L237.6 482.5L247.8 483L247 491L236.9 490.5L226.7 489.9L216.5 489.4L206.3 488.9ZM268.2 484.3L278.4 485L277.5 493L267.4 492.3ZM288.6 485.7L298.8 486.4L297.8 494.4L287.7 493.7ZM369.8 492.6L379.9 493.6L390 494.6L400.1 495.7L410.2 496.8L408.8 504.7L398.7 503.6L388.7 502.5L378.6 501.5L368.6 500.5ZM440.4 500.3L450.4 501.5L460.4 502.7L458.8 510.7L448.8 509.4L438.8 508.2ZM500.3 508.1L510.3 509.5L520.2 511L518.4 518.8L508.5 517.4L498.6 516ZM763.1 557.1L772.6 559.3L782 561.6L791.5 563.9L800.9 566.2L810.2 568.5L819.6 570.9L828.9 573.3L838.3 575.7L847.6 578.2L844.5 585.8L835.3 583.3L826 580.9L816.7 578.5L807.3 576.1L798 573.8L788.6 571.5L779.2 569.2L769.8 567L760.4 564.8ZM166.3 471.3L176.6 471.7L186.9 472L197.2 472.5L207.5 472.9L217.8 473.4L228 473.9L238.3 474.5L248.6 475L247.8 483L237.6 482.5L227.4 481.9L217.1 481.4L206.9 480.9L196.6 480.5L186.4 480.1L176.2 479.7L165.9 479.3ZM269.1 476.3L279.3 477L278.4 485L268.2 484.3ZM371.1 484.6L381.2 485.6L391.4 486.7L401.5 487.7L411.6 488.8L410.2 496.8L400.1 495.7L390 494.6L379.9 493.6L369.8 492.6ZM431.8 491.1L441.9 492.3L452 493.6L450.4 501.5L440.4 500.3L430.3 499.1ZM502.1 500.2L512.1 501.6L522.1 503.1L520.2 511L510.3 509.5L500.3 508.1ZM756.3 547.2L765.9 549.4L775.4 551.7L784.8 554L794.3 556.2L791.5 563.9L782 561.6L772.6 559.3L763.1 557.1L753.6 554.9ZM803.7 558.6L813.2 560.9L822.5 563.3L831.9 565.7L841.3 568.2L850.6 570.6L847.6 578.2L838.3 575.7L828.9 573.3L819.6 570.9L810.2 568.5L800.9 566.2ZM187.4 464L197.8 464.4L208.1 464.9L218.4 465.4L228.7 465.9L239 466.5L238.3 474.5L228 473.9L217.8 473.4L207.5 472.9L197.2 472.5L186.9 472ZM269.9 468.3L280.2 469L279.3 477L269.1 476.3ZM300.7 470.5L311 471.2L321.2 472.1L331.5 472.9L330.4 480.9L320.2 480L310 479.2L299.8 478.5ZM341.7 473.8L351.9 474.7L362.1 475.7L372.4 476.6L382.5 477.7L392.7 478.7L402.9 479.8L413.1 480.9L423.2 482L421.7 490L411.6 488.8L401.5 487.7L391.4 486.7L381.2 485.6L371.1 484.6L360.9 483.6L350.7 482.7L340.6 481.8ZM433.3 483.2L443.5 484.4L453.6 485.7L463.7 486.9L473.7 488.2L472.1 496.1L462 494.8L452 493.6L441.9 492.3L431.8 491.1ZM483.8 489.6L493.9 490.9L492.1 498.8L482.1 497.5ZM503.9 492.3L513.9 493.8L523.9 495.2L522.1 503.1L512.1 501.6L502.1 500.2ZM662.4 519L672.2 520.9L681.9 522.8L691.6 524.8L689.1 532.6L679.4 530.6L669.7 528.6L660 526.7ZM749.5 537.4L759.1 539.6L768.6 541.8L765.9 549.4L756.3 547.2L746.8 545ZM778.2 544L787.7 546.3L797.2 548.6L806.6 551L816.1 553.3L825.5 555.7L822.5 563.3L813.2 560.9L803.7 558.6L794.3 556.2L784.8 554L775.4 551.7ZM301.7 462.5L312 463.3L322.3 464.1L321.2 472.1L311 471.2L300.7 470.5ZM353.1 466.7L363.4 467.7L373.6 468.7L383.9 469.7L394.1 470.7L404.3 471.8L414.5 472.9L424.7 474.1L423.2 482L413.1 480.9L402.9 479.8L392.7 478.7L382.5 477.7L372.4 476.6L362.1 475.7L351.9 474.7ZM434.9 475.3L445 476.5L455.2 477.7L465.3 479L475.4 480.3L485.5 481.7L495.6 483L493.9 490.9L483.8 489.6L473.7 488.2L463.7 486.9L453.6 485.7L443.5 484.4L433.3 483.2ZM505.7 484.4L515.8 485.9L513.9 493.8L503.9 492.3ZM595.7 498.5L605.7 500.2L615.6 502L625.5 503.8L635.3 505.6L645.2 507.4L642.8 515.2L633 513.4L623.2 511.6L613.3 509.8L603.5 508L593.6 506.3ZM664.8 511.2L674.6 513.1L684.4 515.1L694.1 517.1L691.6 524.8L681.9 522.8L672.2 520.9L662.4 519ZM752.2 529.7L761.8 531.9L771.4 534.1L768.6 541.8L759.1 539.6L749.5 537.4ZM800.1 541L809.6 543.3L819.1 545.7L828.5 548.1L837.9 550.5L847.4 553L844.3 560.6L834.9 558.1L825.5 555.7L816.1 553.3L806.6 551L797.2 548.6ZM115.5 445.9L125.9 446.1L136.4 446.4L146.8 446.6L157.2 446.9L156.8 454.9L146.4 454.6L136 454.4L125.7 454.2L115.3 454ZM302.7 454.5L313.1 455.3L312 463.3L301.7 462.5ZM323.4 456.1L333.7 456.9L332.6 464.9L322.3 464.1ZM354.3 458.8L364.6 459.7L374.9 460.7L385.2 461.7L395.5 462.8L405.7 463.9L416 465L426.2 466.2L436.4 467.3L446.6 468.6L456.8 469.8L467 471.1L477.1 472.4L487.3 473.8L497.4 475.1L507.5 476.5L517.6 478L527.7 479.5L525.8 487.3L515.8 485.9L505.7 484.4L495.6 483L485.5 481.7L475.4 480.3L465.3 479L455.2 477.7L445 476.5L434.9 475.3L424.7 474.1L414.5 472.9L404.3 471.8L394.1 470.7L383.9 469.7L373.6 468.7L363.4 467.7L353.1 466.7ZM617.8 494.2L627.7 496L637.6 497.8L647.5 499.6L657.4 501.5L667.2 503.4L677.1 505.4L686.9 507.3L684.4 515.1L674.6 513.1L664.8 511.2L655 509.3L645.2 507.4L635.3 505.6L625.5 503.8L615.6 502ZM764.6 524.2L774.3 526.4L771.4 534.1L761.8 531.9ZM822 538.1L831.5 540.5L841 542.9L850.4 545.4L847.4 553L837.9 550.5L828.5 548.1L819.1 545.7ZM115.7 437.9L126.2 438.1L136.7 438.3L147.1 438.6L157.6 438.9L157.2 446.9L146.8 446.6L136.4 446.4L125.9 446.1L115.5 445.9ZM314.1 447.3L324.5 448.1L323.4 456.1L313.1 455.3ZM345.2 449.9L355.6 450.8L365.9 451.7L376.2 452.7L386.5 453.8L396.9 454.8L407.1 455.9L417.4 457L416 465L405.7 463.9L395.5 462.8L385.2 461.7L374.9 460.7L364.6 459.7L354.3 458.8L344 457.8ZM427.7 458.2L438 459.4L448.2 460.6L458.4 461.9L468.6 463.2L478.8 464.5L477.1 472.4L467 471.1L456.8 469.8L446.6 468.6L436.4 467.3L426.2 466.2ZM489 465.8L499.2 467.2L497.4 475.1L487.3 473.8ZM509.4 468.6L519.5 470.1L529.6 471.6L539.8 473.1L537.8 481L527.7 479.5L517.6 478L507.5 476.5ZM620.1 486.3L630 488.1L640 490L649.9 491.8L659.8 493.7L669.7 495.6L679.6 497.6L689.4 499.6L699.2 501.6L696.7 509.3L686.9 507.3L677.1 505.4L667.2 503.4L657.4 501.5L647.5 499.6L637.6 497.8L627.7 496L617.8 494.2ZM718.8 505.7L728.6 507.8L738.3 509.9L735.6 517.7L725.9 515.5L716.2 513.4ZM767.4 516.5L777.1 518.8L774.3 526.4L764.6 524.2ZM825 530.5L834.6 532.9L844.1 535.3L853.5 537.8L850.4 545.4L841 542.9L831.5 540.5L822 538.1ZM115.9 429.9L126.5 430L137 430.3L147.5 430.5L158 430.8L157.6 438.9L147.1 438.6L136.7 438.3L126.2 438.1L115.7 437.9ZM179 431.5L189.6 431.9L200.1 432.3L199.5 440.4L189 439.9L178.6 439.5ZM315.2 439.3L325.6 440.1L324.5 448.1L314.1 447.3ZM367.2 443.8L377.5 444.8L387.9 445.8L398.2 446.9L408.6 448L407.1 455.9L396.9 454.8L386.5 453.8L376.2 452.7L365.9 451.7ZM418.9 449.1L429.2 450.3L427.7 458.2L417.4 457ZM439.5 451.5L449.8 452.7L460.1 453.9L470.3 455.2L480.6 456.6L478.8 464.5L468.6 463.2L458.4 461.9L448.2 460.6L438 459.4ZM511.2 460.7L521.4 462.2L531.6 463.7L541.7 465.2L539.8 473.1L529.6 471.6L519.5 470.1L509.4 468.6ZM652.3 484L662.2 485.9L672.2 487.9L682.1 489.8L691.9 491.8L701.8 493.8L711.7 495.9L709 503.6L699.2 501.6L689.4 499.6L679.6 497.6L669.7 495.6L659.8 493.7L649.9 491.8ZM731.3 500.1L741.1 502.2L750.8 504.4L760.5 506.6L770.3 508.8L780 511.1L789.6 513.4L786.7 521.1L777.1 518.8L767.4 516.5L757.8 514.3L748.1 512.1L738.3 509.9L728.6 507.8ZM828.1 522.8L837.6 525.3L847.2 527.7L844.1 535.3L834.6 532.9L825 530.5ZM137.3 422.2L147.9 422.5L158.4 422.8L169 423.1L179.5 423.5L190.1 423.9L200.6 424.3L211.2 424.8L221.7 425.3L221 433.3L210.6 432.8L200.1 432.3L189.6 431.9L179 431.5L168.5 431.1L158 430.8L147.5 430.5L137 430.3ZM284.8 429L295.3 429.7L305.8 430.5L316.2 431.3L315.2 439.3L304.7 438.5L294.3 437.7L283.9 437ZM368.5 435.8L378.9 436.8L389.3 437.8L399.7 438.9L410 440L408.6 448L398.2 446.9L387.9 445.8L377.5 444.8L367.2 443.8ZM420.4 441.1L430.8 442.3L441.1 443.5L439.5 451.5L429.2 450.3L418.9 449.1ZM451.4 444.7L461.7 446L472 447.3L482.3 448.6L480.6 456.6L470.3 455.2L460.1 453.9L449.8 452.7ZM513.1 452.8L523.3 454.3L533.5 455.8L543.7 457.3L541.7 465.2L531.6 463.7L521.4 462.2L511.2 460.7ZM684.6 482.1L694.5 484.1L704.4 486.1L714.3 488.1L711.7 495.9L701.8 493.8L691.9 491.8L682.1 489.8ZM773.1 501.1L782.8 503.4L792.5 505.7L789.6 513.4L780 511.1L770.3 508.8ZM831.1 515.2L840.7 517.7L850.3 520.1L847.2 527.7L837.6 525.3L828.1 522.8ZM116.4 413.8L127 414L137.6 414.2L148.2 414.4L158.8 414.7L169.4 415.1L180 415.4L190.6 415.8L201.2 416.3L211.8 416.7L222.4 417.2L233 417.8L243.5 418.3L242.8 426.4L232.2 425.8L221.7 425.3L211.2 424.8L200.6 424.3L190.1 423.9L179.5 423.5L169 423.1L158.4 422.8L147.9 422.5L137.3 422.2L126.7 422L116.2 421.8ZM285.7 420.9L296.3 421.7L295.3 429.7L284.8 429ZM380.2 428.8L390.6 429.8L401.1 430.9L411.5 432L410 440L399.7 438.9L389.3 437.8L378.9 436.8ZM421.9 433.2L432.3 434.3L442.7 435.6L441.1 443.5L430.8 442.3L420.4 441.1ZM473.8 439.4L484.1 440.7L482.3 448.6L472 447.3ZM535.5 447.9L545.7 449.4L543.7 457.3L533.5 455.8ZM707 478.3L716.9 480.4L726.8 482.5L736.7 484.6L734 492.4L724.1 490.2L714.3 488.1L704.4 486.1ZM776 493.5L785.7 495.7L795.5 498.1L805.2 500.4L814.9 502.8L811.9 510.4L802.2 508.1L792.5 505.7L782.8 503.4L773.1 501.1ZM116.6 405.7L127.3 405.9L137.9 406.1L148.6 406.4L159.2 406.7L158.8 414.7L148.2 414.4L137.6 414.2L127 414L116.4 413.8ZM169.9 407L180.5 407.4L180 415.4L169.4 415.1ZM212.5 408.7L223.1 409.2L233.7 409.7L233 417.8L222.4 417.2L211.8 416.7ZM392 421.9L402.5 423L413 424.1L411.5 432L401.1 430.9L390.6 429.8ZM433.9 426.4L444.3 427.6L442.7 435.6L432.3 434.3ZM739.5 476.9L749.3 479.1L759.2 481.3L756.4 489L746.6 486.8L736.7 484.6ZM116.9 397.7L127.6 397.8L138.3 398.1L149 398.3L148.6 406.4L137.9 406.1L127.3 405.9L116.6 405.7ZM393.4 413.9L404 415L414.5 416.1L425 417.2L423.4 425.2L413 424.1L402.5 423L392 421.9ZM445.9 419.7L456.4 420.9L454.7 428.9L444.3 427.6ZM762.1 473.6L771.9 475.8L781.8 478.1L791.6 480.4L801.4 482.7L811.2 485.1L808.2 492.7L798.4 490.4L788.7 488.1L778.9 485.8L769.1 483.5L759.2 481.3ZM821 487.5L830.7 489.9L827.6 497.5L817.9 495.1ZM117.1 389.6L127.8 389.8L138.6 390L138.3 398.1L127.6 397.8L116.9 397.7ZM203 392.1L213.7 392.6L224.5 393.1L235.2 393.6L245.9 394.2L245.1 402.3L234.4 401.7L223.8 401.1L213.1 400.6L202.4 400.2ZM405.4 407L416 408.1L426.5 409.3L437 410.5L435.4 418.4L425 417.2L414.5 416.1L404 415ZM804.4 475L814.3 477.4L824 479.8L833.8 482.3L843.6 484.7L853.3 487.2L850.1 494.8L840.4 492.3L830.7 489.9L821 487.5L811.2 485.1L801.4 482.7ZM214.4 384.6L225.2 385.1L235.9 385.6L235.2 393.6L224.5 393.1L213.7 392.6ZM406.9 399L417.5 400.1L428.1 401.3L438.6 402.5L449.2 403.7L447.5 411.7L437 410.5L426.5 409.3L416 408.1L405.4 407ZM817.3 469.8L827.2 472.2L837 474.6L846.7 477.1L843.6 484.7L833.8 482.3L824 479.8L814.3 477.4ZM215.1 376.5L225.9 377L225.2 385.1L214.4 384.6ZM279.8 380.1L290.6 380.8L289.6 388.8L278.9 388.1ZM669.6 429.4L679.8 431.4L677.3 439.2L667.1 437.2ZM204.9 368L215.7 368.4L226.6 369L237.4 369.5L248.3 370.1L259.1 370.7L269.9 371.4L280.8 372.1L291.6 372.8L290.6 380.8L279.8 380.1L269 379.4L258.3 378.8L247.5 378.1L236.7 377.6L225.9 377L215.1 376.5L204.2 376ZM682.4 423.6L692.6 425.6L690 433.4L679.8 431.4ZM216.4 360.4L227.3 360.9L238.2 361.5L249.1 362.1L260 362.7L270.9 363.3L281.7 364L292.6 364.8L303.4 365.5L302.4 373.5L291.6 372.8L280.8 372.1L269.9 371.4L259.1 370.7L248.3 370.1L237.4 369.5L226.6 369L215.7 368.4ZM674.7 413.8L685 415.8L695.3 417.8L692.6 425.6L682.4 423.6L672.2 421.6ZM195.2 351.4L206.1 351.9L217.1 352.3L228 352.9L239 353.4L249.9 354L260.9 354.6L271.8 355.3L282.7 356L293.6 356.7L304.5 357.5L303.4 365.5L292.6 364.8L281.7 364L270.9 363.3L260 362.7L249.1 362.1L238.2 361.5L227.3 360.9L216.4 360.4L205.5 359.9L194.6 359.5ZM423.7 368.2L434.4 369.4L432.8 377.4L422.1 376.2ZM677.3 406L687.7 408L698 410L708.3 412L705.5 419.8L695.3 417.8L685 415.8L674.7 413.8ZM184.7 342.9L195.8 343.3L206.8 343.8L217.8 344.3L228.8 344.8L239.8 345.4L250.7 346L261.7 346.6L272.7 347.2L283.7 347.9L294.6 348.7L305.6 349.5L304.5 357.5L293.6 356.7L282.7 356L271.8 355.3L260.9 354.6L249.9 354L239 353.4L228 352.9L217.1 352.3L206.1 351.9L195.2 351.4L184.2 351ZM680 398.2L690.3 400.2L700.7 402.2L711 404.3L721.3 406.3L718.5 414.1L708.3 412L698 410L687.7 408L677.3 406ZM196.3 335.3L207.4 335.7L218.5 336.2L229.5 336.7L240.6 337.3L251.6 337.9L262.6 338.5L273.6 339.2L284.6 339.9L295.6 340.6L306.6 341.4L305.6 349.5L294.6 348.7L283.7 347.9L272.7 347.2L261.7 346.6L250.7 346L239.8 345.4L228.8 344.8L217.8 344.3L206.8 343.8L195.8 343.3ZM661.7 386.4L672.2 388.4L682.6 390.4L693 392.4L703.4 394.4L713.8 396.5L724.1 398.6L734.4 400.7L731.6 408.5L721.3 406.3L711 404.3L700.7 402.2L690.3 400.2L680 398.2L669.6 396.2L659.2 394.3ZM765.2 407.3L775.5 409.6L772.5 417.3L762.3 415ZM119 325L130.2 325.2L129.9 333.3L118.8 333.1ZM196.9 327.2L208.1 327.7L219.2 328.2L230.3 328.7L241.3 329.3L252.4 329.8L263.5 330.5L274.6 331.2L285.6 331.9L296.7 332.6L295.6 340.6L284.6 339.9L273.6 339.2L262.6 338.5L251.6 337.9L240.6 337.3L229.5 336.7L218.5 336.2L207.4 335.7L196.3 335.3ZM664.3 378.6L674.8 380.6L685.3 382.5L695.7 384.6L706.1 386.6L716.5 388.7L726.9 390.8L737.3 392.9L747.6 395.1L744.7 402.9L734.4 400.7L724.1 398.6L713.8 396.5L703.4 394.4L693 392.4L682.6 390.4L672.2 388.4L661.7 386.4ZM768.2 399.6L778.5 401.8L788.7 404.1L785.6 411.9L775.5 409.6L765.2 407.3ZM798.9 406.5L809.1 408.8L819.3 411.2L816.1 418.9L806 416.5L795.8 414.2ZM119.3 317L130.5 317.2L141.7 317.4L152.9 317.7L152.5 325.8L141.3 325.5L130.2 325.2L119 325ZM197.5 319.1L208.7 319.6L219.9 320.1L231 320.6L230.3 328.7L219.2 328.2L208.1 327.7L196.9 327.2ZM253.3 321.8L264.4 322.4L275.5 323.1L286.6 323.8L297.7 324.6L308.8 325.3L307.7 333.4L296.7 332.6L285.6 331.9L274.6 331.2L263.5 330.5L252.4 329.8ZM473.8 341.3L484.7 342.7L495.5 344L506.4 345.5L504.4 353.4L493.6 352L482.8 350.6L472 349.3ZM688 374.7L698.4 376.8L708.9 378.8L719.4 380.9L729.8 383L740.2 385.2L750.5 387.4L747.6 395.1L737.3 392.9L726.9 390.8L716.5 388.7L706.1 386.6L695.7 384.6L685.3 382.5ZM771.2 391.8L781.5 394.1L791.8 396.4L802 398.8L812.3 401.1L822.5 403.5L819.3 411.2L809.1 408.8L798.9 406.5L788.7 404.1L778.5 401.8L768.2 399.6ZM119.6 308.9L130.8 309.1L142 309.3L153.3 309.6L164.5 309.9L175.7 310.3L186.9 310.7L198.2 311.1L209.4 311.5L220.6 312L231.8 312.6L243 313.1L254.1 313.7L265.3 314.4L276.5 315.1L287.6 315.8L298.8 316.5L309.9 317.3L308.8 325.3L297.7 324.6L286.6 323.8L275.5 323.1L264.4 322.4L253.3 321.8L242.1 321.2L231 320.6L219.9 320.1L208.7 319.6L197.5 319.1L186.4 318.7L175.2 318.3L164 318L152.9 317.7L141.7 317.4L130.5 317.2L119.3 317ZM486.5 334.7L497.4 336.1L508.3 337.5L506.4 345.5L495.5 344L484.7 342.7ZM680.1 364.9L690.7 366.9L688 374.7L677.4 372.7ZM701.2 369L711.7 371L722.2 373.1L732.6 375.2L743.1 377.4L753.5 379.6L763.9 381.8L774.3 384.1L784.6 386.4L794.9 388.7L805.2 391.1L815.4 393.4L825.7 395.9L835.9 398.3L846.1 400.8L842.8 408.5L832.6 406L822.5 403.5L812.3 401.1L802 398.8L791.8 396.4L781.5 394.1L771.2 391.8L760.9 389.6L750.5 387.4L740.2 385.2L729.8 383L719.4 380.9L708.9 378.8L698.4 376.8ZM119.8 300.8L131.1 301L142.4 301.3L153.7 301.5L165 301.8L176.2 302.2L187.5 302.6L198.8 303L210 303.5L221.3 304L232.5 304.5L243.8 305.1L255 305.7L266.2 306.3L277.5 307L288.7 307.7L299.9 308.5L311 309.3L309.9 317.3L298.8 316.5L287.6 315.8L276.5 315.1L265.3 314.4L254.1 313.7L243 313.1L231.8 312.6L220.6 312L209.4 311.5L198.2 311.1L186.9 310.7L175.7 310.3L164.5 309.9L153.3 309.6L142 309.3L130.8 309.1L119.6 308.9ZM400.2 316.9L411.2 318L409.7 326L398.7 324.9ZM499.4 328.1L510.3 329.6L508.3 337.5L497.4 336.1ZM682.8 357.1L693.4 359.1L690.7 366.9L680.1 364.9ZM704 361.1L714.5 363.2L725 365.3L735.5 367.5L746 369.6L756.5 371.8L766.9 374.1L777.3 376.4L787.7 378.7L798 381L808.4 383.4L818.7 385.8L828.9 388.2L839.2 390.6L849.4 393.1L846.1 400.8L835.9 398.3L825.7 395.9L815.4 393.4L805.2 391.1L794.9 388.7L784.6 386.4L774.3 384.1L763.9 381.8L753.5 379.6L743.1 377.4L732.6 375.2L722.2 373.1L711.7 371L701.2 369ZM120.1 292.7L131.4 292.9L142.8 293.2L154.1 293.5L165.4 293.8L176.8 294.1L188.1 294.5L199.4 294.9L198.8 303L187.5 302.6L176.2 302.2L165 301.8L153.7 301.5L142.4 301.3L131.1 301L119.8 300.8ZM222 295.9L233.3 296.4L244.6 297L255.9 297.6L267.2 298.3L278.4 299L289.7 299.7L300.9 300.4L312.2 301.2L323.4 302L322.2 310.1L311 309.3L299.9 308.5L288.7 307.7L277.5 307L266.2 306.3L255 305.7L243.8 305.1L232.5 304.5L221.3 304ZM401.7 308.9L412.8 310L423.9 311.1L435 312.3L446.1 313.5L444.4 321.5L433.4 320.3L422.3 319.1L411.2 318L400.2 316.9ZM490.3 318.8L501.3 320.2L512.3 321.6L523.3 323.1L521.2 331L510.3 329.6L499.4 328.1L488.4 326.7ZM674.8 347.3L685.5 349.3L696.1 351.3L693.4 359.1L682.8 357.1L672.2 355.1ZM727.9 357.5L738.5 359.7L749 361.9L759.5 364.1L769.9 366.3L780.4 368.6L790.8 370.9L801.2 373.3L811.6 375.6L821.9 378.1L832.2 380.5L842.5 383L852.7 385.5L849.4 393.1L839.2 390.6L828.9 388.2L818.7 385.8L808.4 383.4L798 381L787.7 378.7L777.3 376.4L766.9 374.1L756.5 371.8L746 369.6L735.5 367.5L725 365.3ZM120.3 284.6L131.7 284.9L131.4 292.9L120.1 292.7ZM154.5 285.4L165.9 285.7L177.3 286.1L188.7 286.4L200 286.9L211.4 287.3L210.7 295.4L199.4 294.9L188.1 294.5L176.8 294.1L165.4 293.8L154.1 293.5ZM222.7 287.8L234.1 288.4L245.4 289L256.8 289.6L268.1 290.2L279.4 290.9L290.7 291.6L302 292.4L313.3 293.2L324.6 294L335.9 294.9L334.6 302.9L323.4 302L312.2 301.2L300.9 300.4L289.7 299.7L278.4 299L267.2 298.3L255.9 297.6L244.6 297L233.3 296.4L222 295.9ZM403.2 300.9L414.4 302L425.6 303.1L436.7 304.3L435 312.3L423.9 311.1L412.8 310L401.7 308.9ZM492.2 310.8L503.3 312.2L514.3 313.7L525.4 315.1L523.3 323.1L512.3 321.6L501.3 320.2L490.3 318.8ZM677.5 339.5L688.2 341.5L698.9 343.5L709.6 345.5L720.2 347.6L717.4 355.4L706.8 353.3L696.1 351.3L685.5 349.3L674.8 347.3ZM752 354.1L762.5 356.3L773 358.6L783.5 360.9L794 363.2L804.4 365.6L814.8 367.9L825.2 370.4L835.5 372.8L845.8 375.3L842.5 383L832.2 380.5L821.9 378.1L811.6 375.6L801.2 373.3L790.8 370.9L780.4 368.6L769.9 366.3L759.5 364.1L749 361.9ZM177.8 278L189.2 278.4L200.7 278.8L212.1 279.3L223.5 279.8L234.9 280.3L246.3 280.9L257.7 281.5L269 282.2L280.4 282.9L291.8 283.6L303.1 284.3L314.5 285.1L325.8 286L337.1 286.8L335.9 294.9L324.6 294L313.3 293.2L302 292.4L290.7 291.6L279.4 290.9L268.1 290.2L256.8 289.6L245.4 289L234.1 288.4L222.7 287.8L211.4 287.3L200 286.9L188.7 286.4L177.3 286.1ZM416 294L427.2 295.1L438.4 296.3L449.6 297.6L460.8 298.8L471.9 300.1L483.1 301.5L494.2 302.9L505.3 304.3L516.4 305.7L527.4 307.2L525.4 315.1L514.3 313.7L503.3 312.2L492.2 310.8L481.2 309.5L470.1 308.1L459 306.8L447.9 305.6L436.7 304.3L425.6 303.1L414.4 302ZM712.4 337.7L723.1 339.8L733.8 342L730.8 349.8L720.2 347.6L709.6 345.5ZM755 346.3L765.6 348.6L776.1 350.9L786.6 353.2L797.1 355.5L807.6 357.8L818 360.2L828.5 362.7L838.8 365.1L849.2 367.6L845.8 375.3L835.5 372.8L825.2 370.4L814.8 367.9L804.4 365.6L794 363.2L783.5 360.9L773 358.6L762.5 356.3L752 354.1ZM178.3 269.9L189.8 270.3L201.3 270.7L212.8 271.2L224.2 271.7L235.7 272.3L247.1 272.8L258.6 273.5L257.7 281.5L246.3 280.9L234.9 280.3L223.5 279.8L212.1 279.3L200.7 278.8L189.2 278.4L177.8 278ZM292.8 275.5L304.2 276.3L315.6 277.1L327 277.9L338.4 278.8L349.7 279.7L348.4 287.8L337.1 286.8L325.8 286L314.5 285.1L303.1 284.3L291.8 283.6ZM417.6 286L428.9 287.1L440.1 288.3L451.4 289.6L462.6 290.9L473.8 292.2L485 293.5L496.1 294.9L507.3 296.3L518.4 297.8L529.5 299.3L540.6 300.8L538.5 308.7L527.4 307.2L516.4 305.7L505.3 304.3L494.2 302.9L483.1 301.5L471.9 300.1L460.8 298.8L449.6 297.6L438.4 296.3L427.2 295.1L416 294ZM650.5 318L661.3 319.9L658.7 327.7L647.9 325.8ZM715.3 329.9L726 332.1L736.7 334.2L733.8 342L723.1 339.8L712.4 337.7ZM758 338.6L768.6 340.8L779.2 343.1L789.8 345.4L800.3 347.8L810.8 350.1L821.3 352.5L831.8 355L842.2 357.5L852.6 360L849.2 367.6L838.8 365.1L828.5 362.7L818 360.2L807.6 357.8L797.1 355.5L786.6 353.2L776.1 350.9L765.6 348.6L755 346.3ZM167.3 261.5L178.9 261.8L190.4 262.2L201.9 262.7L213.5 263.1L225 263.6L236.5 264.2L248 264.8L259.5 265.4L270.9 266.1L270 274.1L258.6 273.5L247.1 272.8L235.7 272.3L224.2 271.7L212.8 271.2L201.3 270.7L189.8 270.3L178.3 269.9L166.9 269.5ZM305.3 268.2L316.8 269.1L328.2 269.9L339.6 270.8L338.4 278.8L327 277.9L315.6 277.1L304.2 276.3ZM396.6 275.7L407.9 276.8L419.2 278L430.6 279.1L441.9 280.4L453.1 281.6L464.4 282.9L475.7 284.2L486.9 285.6L498.1 286.9L509.3 288.4L520.5 289.8L531.7 291.3L542.8 292.9L540.6 300.8L529.5 299.3L518.4 297.8L507.3 296.3L496.1 294.9L485 293.5L473.8 292.2L462.6 290.9L451.4 289.6L440.1 288.3L428.9 287.1L417.6 286L406.3 284.8L395 283.7ZM653.1 310.1L664 312L661.3 319.9L650.5 318ZM707.4 320.1L718.2 322.1L729 324.3L739.7 326.4L736.7 334.2L726 332.1L715.3 329.9L704.6 327.9ZM750.4 328.6L761.1 330.8L771.7 333.1L782.4 335.4L793 337.7L803.6 340L814.1 342.4L824.6 344.8L835.1 347.3L845.6 349.8L842.2 357.5L831.8 355L821.3 352.5L810.8 350.1L800.3 347.8L789.8 345.4L779.2 343.1L768.6 340.8L758 338.6L747.4 336.4ZM167.8 253.4L179.4 253.8L191 254.2L202.6 254.6L214.2 255.1L225.7 255.6L237.3 256.1L248.8 256.7L260.4 257.3L271.9 258L283.4 258.7L295 259.4L306.5 260.2L318 261L329.4 261.9L340.9 262.7L339.6 270.8L328.2 269.9L316.8 269.1L305.3 268.2L293.9 267.5L282.4 266.7L270.9 266.1L259.5 265.4L248 264.8L236.5 264.2L225 263.6L213.5 263.1L201.9 262.7L190.4 262.2L178.9 261.8L167.3 261.5ZM386.7 266.7L398.1 267.7L409.5 268.8L420.9 270L432.2 271.1L443.6 272.4L454.9 273.6L466.3 274.9L477.6 276.2L488.8 277.6L500.1 279L511.4 280.4L522.6 281.9L533.8 283.4L545 284.9L542.8 292.9L531.7 291.3L520.5 289.8L509.3 288.4L498.1 286.9L486.9 285.6L475.7 284.2L464.4 282.9L453.1 281.6L441.9 280.4L430.6 279.1L419.2 278L407.9 276.8L396.6 275.7L385.2 274.7ZM644.8 300.4L655.8 302.3L666.7 304.2L677.6 306.2L674.9 314L664 312L653.1 310.1L642.2 308.2ZM699.4 310.2L710.3 312.2L721.1 314.3L731.9 316.5L742.7 318.6L739.7 326.4L729 324.3L718.2 322.1L707.4 320.1L696.6 318ZM753.5 320.8L764.2 323.1L774.9 325.3L785.6 327.6L796.2 330L806.8 332.3L817.4 334.7L828 337.1L838.5 339.6L849 342.1L845.6 349.8L835.1 347.3L824.6 344.8L814.1 342.4L803.6 340L793 337.7L782.4 335.4L771.7 333.1L761.1 330.8L750.4 328.6ZM156.7 245L168.3 245.3L180 245.7L191.6 246.1L203.2 246.5L214.9 247L226.5 247.5L238.1 248.1L249.7 248.6L261.3 249.3L272.9 249.9L284.5 250.6L296 251.4L307.6 252.2L319.2 253L330.7 253.8L342.2 254.7L340.9 262.7L329.4 261.9L318 261L306.5 260.2L295 259.4L283.4 258.7L271.9 258L260.4 257.3L248.8 256.7L237.3 256.1L225.7 255.6L214.2 255.1L202.6 254.6L191 254.2L179.4 253.8L167.8 253.4L156.2 253.1ZM353.7 255.6L365.2 256.6L363.8 264.6L352.4 263.7ZM376.7 257.6L388.2 258.6L399.7 259.7L411.1 260.8L422.5 262L434 263.2L445.4 264.4L456.7 265.6L468.1 266.9L479.5 268.3L490.8 269.6L502.1 271L513.4 272.5L524.7 273.9L536 275.5L547.2 277L558.4 278.6L556.2 286.5L545 284.9L533.8 283.4L522.6 281.9L511.4 280.4L500.1 279L488.8 277.6L477.6 276.2L466.3 274.9L454.9 273.6L443.6 272.4L432.2 271.1L420.9 270L409.5 268.8L398.1 267.7L386.7 266.7L375.3 265.6ZM647.4 292.5L658.4 294.4L669.4 296.4L680.4 298.3L691.4 300.3L702.3 302.4L713.2 304.4L710.3 312.2L699.4 310.2L688.5 308.2L677.6 306.2L666.7 304.2L655.8 302.3L644.8 300.4ZM756.5 313.1L767.3 315.3L778 317.6L788.8 319.9L799.4 322.2L810.1 324.6L820.7 327L831.3 329.5L841.9 331.9L852.5 334.4L849 342.1L838.5 339.6L828 337.1L817.4 334.7L806.8 332.3L796.2 330L785.6 327.6L774.9 325.3L764.2 323.1L753.5 320.8ZM168.8 237.2L180.5 237.6L192.2 238L203.9 238.4L215.6 238.9L227.3 239.4L238.9 240L250.6 240.6L262.2 241.2L273.9 241.9L285.5 242.6L297.1 243.3L308.8 244.1L307.6 252.2L296 251.4L284.5 250.6L272.9 249.9L261.3 249.3L249.7 248.6L238.1 248.1L226.5 247.5L214.9 247L203.2 246.5L191.6 246.1L180 245.7L168.3 245.3ZM331.9 245.8L343.5 246.7L342.2 254.7L330.7 253.8ZM401.2 251.7L412.7 252.8L424.2 254L435.7 255.2L447.1 256.4L458.6 257.6L470 258.9L481.4 260.3L492.8 261.7L504.1 263.1L515.5 264.5L526.8 266L538.1 267.5L549.4 269.1L560.7 270.7L571.9 272.3L569.6 280.2L558.4 278.6L547.2 277L536 275.5L524.7 273.9L513.4 272.5L502.1 271L490.8 269.6L479.5 268.3L468.1 266.9L456.7 265.6L445.4 264.4L434 263.2L422.5 262L411.1 260.8L399.7 259.7ZM594.4 275.6L605.6 277.4L616.7 279.1L614.2 287L603.1 285.3L592 283.5ZM650.1 284.7L661.1 286.6L672.2 288.5L683.2 290.5L694.2 292.5L705.2 294.5L716.1 296.6L727 298.7L724.1 306.5L713.2 304.4L702.3 302.4L691.4 300.3L680.4 298.3L669.4 296.4L658.4 294.4L647.4 292.5ZM770.4 307.5L781.2 309.8L792 312.2L802.7 314.5L813.4 316.9L824.1 319.3L834.7 321.8L845.3 324.2L841.9 331.9L831.3 329.5L820.7 327L810.1 324.6L799.4 322.2L788.8 319.9L778 317.6L767.3 315.3ZM169.3 229.2L181.1 229.5L192.8 229.9L204.6 230.4L216.3 230.9L228 231.4L239.8 231.9L251.5 232.5L263.2 233.2L274.9 233.8L286.6 234.5L285.5 242.6L273.9 241.9L262.2 241.2L250.6 240.6L238.9 240L227.3 239.4L215.6 238.9L203.9 238.4L192.2 238L180.5 237.6L168.8 237.2ZM298.2 235.3L309.9 236.1L308.8 244.1L297.1 243.3ZM391.2 242.6L402.8 243.7L414.4 244.8L425.9 246L437.4 247.2L448.9 248.4L460.4 249.7L471.9 251L483.3 252.3L494.8 253.7L506.2 255.1L517.6 256.6L529 258.1L540.3 259.6L551.7 261.1L563 262.7L574.3 264.4L585.6 266L596.8 267.7L594.4 275.6L583.2 273.9L571.9 272.3L560.7 270.7L549.4 269.1L538.1 267.5L526.8 266L515.5 264.5L504.1 263.1L492.8 261.7L481.4 260.3L470 258.9L458.6 257.6L447.1 256.4L435.7 255.2L424.2 254L412.7 252.8L401.2 251.7L389.7 250.6ZM608 269.5L619.3 271.3L630.4 273.1L641.6 274.9L652.7 276.8L663.9 278.7L674.9 280.7L686 282.7L697.1 284.7L708.1 286.7L719.1 288.8L730 291L727 298.7L716.1 296.6L705.2 294.5L694.2 292.5L683.2 290.5L672.2 288.5L661.1 286.6L650.1 284.7L639 282.8L627.9 280.9L616.7 279.1L605.6 277.4ZM773.6 299.8L784.4 302.1L795.2 304.4L806 306.8L816.8 309.2L827.5 311.6L838.2 314.1L848.8 316.6L845.3 324.2L834.7 321.8L824.1 319.3L813.4 316.9L802.7 314.5L792 312.2L781.2 309.8L770.4 307.5ZM110.7 219.8L122.6 220L134.4 220.2L146.2 220.5L158 220.8L169.8 221.1L181.6 221.5L193.4 221.9L205.2 222.3L217 222.8L216.3 230.9L204.6 230.4L192.8 229.9L181.1 229.5L169.3 229.2L157.6 228.8L145.8 228.5L134 228.3L122.3 228.1L110.5 227.9ZM228.8 223.3L240.6 223.9L252.4 224.5L264.1 225.1L275.9 225.8L274.9 233.8L263.2 233.2L251.5 232.5L239.8 231.9L228 231.4ZM392.8 234.6L404.4 235.7L402.8 243.7L391.2 242.6ZM427.6 238L439.2 239.2L450.7 240.4L462.3 241.7L473.8 243L485.3 244.3L496.8 245.7L494.8 253.7L483.3 252.3L471.9 251L460.4 249.7L448.9 248.4L437.4 247.2L425.9 246ZM508.3 247.2L519.7 248.6L531.1 250.1L542.5 251.6L553.9 253.2L565.3 254.8L576.6 256.5L588 258.1L599.3 259.8L596.8 267.7L585.6 266L574.3 264.4L563 262.7L551.7 261.1L540.3 259.6L529 258.1L517.6 256.6L506.2 255.1ZM621.8 263.4L633 265.2L644.3 267.1L655.4 268.9L666.6 270.9L677.7 272.8L688.9 274.8L699.9 276.9L711 278.9L722 281L733 283.2L730 291L719.1 288.8L708.1 286.7L697.1 284.7L686 282.7L674.9 280.7L663.9 278.7L652.7 276.8L641.6 274.9L630.4 273.1L619.3 271.3ZM787.7 294.3L798.5 296.7L809.3 299.1L820.1 301.5L830.9 303.9L841.6 306.4L852.3 308.9L848.8 316.6L838.2 314.1L827.5 311.6L816.8 309.2L806 306.8L795.2 304.4L784.4 302.1ZM111 211.7L122.8 211.9L134.7 212.1L146.6 212.4L158.5 212.7L170.3 213L182.2 213.4L194.1 213.8L205.9 214.2L217.8 214.7L217 222.8L205.2 222.3L193.4 221.9L181.6 221.5L169.8 221.1L158 220.8L146.2 220.5L134.4 220.2L122.6 220L110.7 219.8ZM241.4 215.8L253.3 216.4L265.1 217L276.9 217.7L288.7 218.4L287.6 226.5L275.9 225.8L264.1 225.1L252.4 224.5L240.6 223.9ZM429.3 230L441 231.2L439.2 239.2L427.6 238ZM464.2 233.7L475.7 235L487.3 236.4L498.8 237.8L496.8 245.7L485.3 244.3L473.8 243L462.3 241.7ZM510.3 239.2L521.8 240.7L519.7 248.6L508.3 247.2ZM556.2 245.3L567.6 246.9L579 248.5L590.4 250.2L601.8 251.9L599.3 259.8L588 258.1L576.6 256.5L565.3 254.8L553.9 253.2ZM624.4 255.5L635.7 257.3L646.9 259.2L658.2 261.1L669.4 263L680.6 265L691.7 267L702.9 269L714 271.1L711 278.9L699.9 276.9L688.9 274.8L677.7 272.8L666.6 270.9L655.4 268.9L644.3 267.1L633 265.2L621.8 263.4ZM725 273.2L736.1 275.4L733 283.2L722 281ZM747.1 277.5L758.1 279.8L769.1 282L765.9 289.8L755 287.5L744 285.3ZM812.7 291.3L823.5 293.8L834.3 296.2L845.1 298.7L841.6 306.4L830.9 303.9L820.1 301.5L809.3 299.1ZM111.2 203.7L123.1 203.8L135.1 204.1L147 204.3L158.9 204.6L170.9 204.9L182.8 205.3L182.2 213.4L170.3 213L158.5 212.7L146.6 212.4L134.7 212.1L122.8 211.9L111 211.7ZM194.7 205.7L206.6 206.2L205.9 214.2L194.1 213.8ZM254.2 208.4L266.1 209L277.9 209.7L289.8 210.4L288.7 218.4L276.9 217.7L265.1 217L253.3 216.4ZM431.1 222L442.7 223.2L441 231.2L429.3 230ZM466 225.7L477.7 227.1L489.3 228.4L500.9 229.8L512.4 231.2L510.3 239.2L498.8 237.8L487.3 236.4L475.7 235L464.2 233.7ZM570 239L581.4 240.6L592.9 242.3L590.4 250.2L579 248.5L567.6 246.9ZM627 247.6L638.3 249.5L635.7 257.3L624.4 255.5ZM649.6 251.3L660.9 253.2L672.2 255.2L683.4 257.2L694.6 259.2L705.8 261.2L702.9 269L691.7 267L680.6 265L669.4 263L658.2 261.1L646.9 259.2ZM750.2 269.8L761.3 272L772.3 274.3L769.1 282L758.1 279.8L747.1 277.5ZM816.1 283.6L827 286L837.8 288.5L848.6 291L845.1 298.7L834.3 296.2L823.5 293.8L812.7 291.3ZM111.4 195.6L123.4 195.8L135.4 196L135.1 204.1L123.1 203.8L111.2 203.7ZM421.1 212.8L432.8 214L444.5 215.2L442.7 223.2L431.1 222L419.4 220.8ZM479.6 219.1L491.3 220.5L502.9 221.9L514.6 223.3L526.2 224.8L524 232.7L512.4 231.2L500.9 229.8L489.3 228.4L477.7 227.1ZM560.9 229.4L572.4 231.1L583.9 232.7L581.4 240.6L570 239L558.5 237.4ZM663.7 245.4L675 247.3L686.3 249.3L697.5 251.3L708.8 253.4L705.8 261.2L694.6 259.2L683.4 257.2L672.2 255.2L660.9 253.2ZM764.5 264.2L775.6 266.5L772.3 274.3L761.3 272ZM819.5 275.9L830.4 278.3L841.3 280.8L852.1 283.3L848.6 291L837.8 288.5L827 286L816.1 283.6ZM111.7 187.5L123.7 187.7L135.8 187.9L147.8 188.2L147.4 196.2L135.4 196L123.4 195.8L111.4 195.6ZM422.8 204.8L434.6 206L446.4 207.2L444.5 215.2L432.8 214L421.1 212.8ZM481.6 211.1L493.3 212.5L505 213.9L516.7 215.4L528.4 216.8L526.2 224.8L514.6 223.3L502.9 221.9L491.3 220.5L479.6 219.1ZM643.7 233.7L655.1 235.6L652.4 243.5L641 241.6ZM822.9 268.2L833.9 270.6L844.8 273.1L841.3 280.8L830.4 278.3L819.5 275.9ZM111.9 179.4L124 179.6L136.1 179.8L148.2 180.1L147.8 188.2L135.8 187.9L123.7 187.7L111.7 187.5ZM436.4 198L448.2 199.2L446.4 207.2L434.6 206ZM483.6 203.2L495.4 204.5L507.1 205.9L518.9 207.4L530.6 208.9L528.4 216.8L516.7 215.4L505 213.9L493.3 212.5L481.6 211.1ZM588.8 216.9L600.4 218.6L597.9 226.5L586.3 224.8ZM646.4 225.9L657.9 227.8L669.3 229.7L666.5 237.5L655.1 235.6L643.7 233.7ZM714.8 237.8L726.1 239.9L737.3 242L734.2 249.8L723 247.7L711.8 245.6ZM826.4 260.5L837.4 262.9L848.4 265.4L844.8 273.1L833.9 270.6L822.9 268.2ZM438.2 190L450.1 191.3L461.9 192.5L460 200.5L448.2 199.2L436.4 198ZM485.7 195.2L497.5 196.6L509.3 198L521.1 199.5L532.8 201L544.6 202.5L556.3 204.1L553.9 212L542.3 210.4L530.6 208.9L518.9 207.4L507.1 205.9L495.4 204.5L483.6 203.2ZM591.3 209L602.9 210.7L600.4 218.6L588.8 216.9ZM614.5 212.5L626.1 214.3L637.7 216.1L649.2 218L660.7 219.9L672.2 221.9L669.3 229.7L657.9 227.8L646.4 225.9L635 224L623.5 222.2L611.9 220.4ZM706.5 227.9L717.8 230L729.2 232.1L740.5 234.3L737.3 242L726.1 239.9L714.8 237.8L703.5 235.7ZM829.9 252.8L841 255.3L852 257.8L848.4 265.4L837.4 262.9L826.4 260.5ZM440 182L451.9 183.3L463.9 184.6L475.8 185.9L487.7 187.2L499.6 188.6L511.4 190L523.3 191.5L535.1 193L546.9 194.6L544.6 202.5L532.8 201L521.1 199.5L509.3 198L497.5 196.6L485.7 195.2L473.8 193.8L461.9 192.5L450.1 191.3L438.2 190ZM593.8 201.1L605.5 202.9L617.2 204.6L628.8 206.4L640.4 208.3L652 210.1L663.5 212.1L675.1 214L672.2 221.9L660.7 219.9L649.2 218L637.7 216.1L626.1 214.3L614.5 212.5L602.9 210.7L591.3 209ZM720.9 222.2L732.3 224.3L729.2 232.1L717.8 230ZM441.8 174.1L453.8 175.3L465.8 176.6L477.8 177.9L489.8 179.3L501.7 180.7L513.6 182.1L525.5 183.6L537.4 185.1L549.2 186.6L546.9 194.6L535.1 193L523.3 191.5L511.4 190L499.6 188.6L487.7 187.2L475.8 185.9L463.9 184.6L451.9 183.3L440 182ZM608.1 195L619.8 196.7L631.5 198.6L643.2 200.4L654.8 202.3L666.4 204.2L678 206.2L689.5 208.2L686.6 216L675.1 214L663.5 212.1L652 210.1L640.4 208.3L628.8 206.4L617.2 204.6L605.5 202.9ZM792.2 227.8L803.5 230.1L814.7 232.5L811.2 240.2L800 237.8L788.8 235.5ZM503.8 172.7L515.8 174.2L527.7 175.6L539.7 177.2L551.6 178.7L549.2 186.6L537.4 185.1L525.5 183.6L513.6 182.1L501.7 180.7ZM622.5 188.9L634.2 190.7L645.9 192.5L657.6 194.4L669.3 196.4L680.9 198.3L692.5 200.3L689.5 208.2L678 206.2L666.4 204.2L654.8 202.3L643.2 200.4L631.5 198.6L619.8 196.7ZM795.6 220L806.9 222.4L818.2 224.8L829.4 227.2L840.6 229.7L851.8 232.2L848.2 239.9L837 237.4L825.9 234.9L814.7 232.5L803.5 230.1L792.2 227.8ZM625.2 181L637 182.8L648.7 184.7L660.5 186.6L672.2 188.5L683.9 190.5L695.5 192.5L692.5 200.3L680.9 198.3L669.3 196.4L657.6 194.4L645.9 192.5L634.2 190.7L622.5 188.9ZM799.1 212.3L810.4 214.7L821.7 217.1L833 219.5L844.3 222L840.6 229.7L829.4 227.2L818.2 224.8L806.9 222.4L795.6 220ZM627.9 173.1L639.8 175L651.6 176.8L663.4 178.7L675.1 180.7L686.9 182.7L698.6 184.7L695.5 192.5L683.9 190.5L672.2 188.5L660.5 186.6L648.7 184.7L637 182.8L625.2 181ZM791.1 202.2L802.5 204.6L813.9 207L825.3 209.4L836.6 211.8L847.9 214.3L844.3 222L833 219.5L821.7 217.1L810.4 214.7L799.1 212.3L787.7 210ZM678.1 172.9L689.9 174.9L701.6 176.9L698.6 184.7L686.9 182.7L675.1 180.7ZM794.6 194.5L806.1 196.8L817.5 199.2L828.9 201.7L840.3 204.1L851.6 206.6L847.9 214.3L836.6 211.8L825.3 209.4L813.9 207L802.5 204.6L791.1 202.2ZM798.1 186.8L809.6 189.1L821.1 191.5L832.6 194L844 196.4L840.3 204.1L828.9 201.7L817.5 199.2L806.1 196.8L794.6 194.5ZM801.6 179L813.2 181.4L824.7 183.8L836.2 186.3L847.7 188.8L844 196.4L832.6 194L821.1 191.5L809.6 189.1L798.1 186.8ZM816.8 173.7L828.4 176.1L840 178.6L851.5 181.1L847.7 188.8L836.2 186.3L824.7 183.8L813.2 181.4Z"/>
<path fill="#FAD050" d="M686.5 887.7L694.7 889.6L692.6 897L684.4 895.1ZM698.9 874.8L707.2 876.7L705 884.1L696.8 882.2ZM796.5 899.7L804.6 901.9L802.1 909.2L794.1 907ZM116 794.3L124.8 794.4L133.6 794.7L133.4 802.4L124.6 802.2L115.8 802ZM799 892.4L807.1 894.6L815.1 896.9L823.1 899.2L831.1 901.5L839.1 903.8L836.6 911L828.6 908.7L820.6 906.4L812.6 904.2L804.6 901.9L796.5 899.7ZM116.2 786.5L125 786.7L133.9 786.9L133.6 794.7L124.8 794.4L116 794.3ZM711.5 862L719.8 863.9L717.6 871.3L709.3 869.4ZM801.5 885.1L809.6 887.4L817.6 889.6L825.7 891.9L833.7 894.2L841.7 896.6L849.7 898.9L847.1 906.2L839.1 903.8L831.1 901.5L823.1 899.2L815.1 896.9L807.1 894.6L799 892.4ZM116.4 778.8L125.3 778.9L134.1 779.1L133.9 786.9L125 786.7L116.2 786.5ZM713.7 854.5L722 856.5L719.8 863.9L711.5 862ZM795.8 875.6L804 877.8L812.1 880.1L820.1 882.3L828.2 884.7L836.3 887L844.3 889.3L852.3 891.7L849.7 898.9L841.7 896.6L833.7 894.2L825.7 891.9L817.6 889.6L809.6 887.4L801.5 885.1L793.4 882.9ZM152.2 771.9L161.1 772.2L160.7 779.9L151.9 779.6ZM241 776.1L249.9 776.6L249.2 784.4L240.4 783.8ZM258.8 777.2L267.6 777.9L276.5 778.5L285.3 779.2L284.5 786.9L275.7 786.3L266.9 785.6L258.1 785ZM790.1 866L798.3 868.3L806.5 870.5L814.6 872.8L822.7 875.1L830.8 877.4L838.9 879.7L846.9 882.1L844.3 889.3L836.3 887L828.2 884.7L820.1 882.3L812.1 880.1L804 877.8L795.8 875.6L787.7 873.4ZM188.2 765.5L197.1 765.9L206.1 766.3L215 766.8L223.9 767.3L232.8 767.8L232.2 775.5L223.3 775L214.4 774.5L205.5 774.1L196.7 773.6L187.8 773.2ZM277.2 770.8L286.1 771.5L295 772.2L294.1 779.9L285.3 779.2L276.5 778.5ZM726.5 841.7L734.9 843.8L732.6 851.2L724.3 849.1ZM792.6 858.7L800.8 860.9L809 863.2L817.1 865.5L825.3 867.8L833.4 870.1L841.5 872.4L849.6 874.8L846.9 882.1L838.9 879.7L830.8 877.4L822.7 875.1L814.6 872.8L806.5 870.5L798.3 868.3L790.1 866ZM206.6 758.5L215.5 759L224.5 759.5L223.9 767.3L215 766.8L206.1 766.3ZM286.9 763.7L295.8 764.4L304.7 765.2L313.6 765.9L322.5 766.7L321.5 774.5L312.7 773.7L303.8 772.9L295 772.2L286.1 771.5ZM712.1 830.3L720.5 832.3L718.2 839.7L709.9 837.7ZM728.8 834.3L737.2 836.4L734.9 843.8L726.5 841.7ZM795.1 851.4L803.3 853.6L811.5 855.9L819.7 858.2L827.8 860.5L836 862.8L844.1 865.2L852.2 867.5L849.6 874.8L841.5 872.4L833.4 870.1L825.3 867.8L817.1 865.5L809 863.2L800.8 860.9L792.6 858.7ZM278.8 755.3L287.7 756L296.6 756.7L305.6 757.4L314.5 758.2L323.4 759L332.3 759.8L341.2 760.7L350.1 761.6L349.1 769.3L340.2 768.4L331.3 767.6L322.5 766.7L313.6 765.9L304.7 765.2L295.8 764.4L286.9 763.7L278 763ZM722.7 824.8L731.1 826.9L739.5 828.9L747.8 831L745.5 838.4L737.2 836.4L728.8 834.3L720.5 832.3ZM797.6 844L805.8 846.3L803.3 853.6L795.1 851.4ZM814.1 848.5L822.3 850.8L830.4 853.2L838.6 855.5L846.8 857.9L844.1 865.2L836 862.8L827.8 860.5L819.7 858.2L811.5 855.9ZM207.6 743L216.6 743.4L225.6 743.9L225 751.7L216.1 751.2L207.1 750.7ZM252.6 745.6L261.6 746.2L270.6 746.8L279.6 747.5L288.5 748.2L297.5 748.9L306.4 749.7L315.4 750.4L324.3 751.3L323.4 759L314.5 758.2L305.6 757.4L296.6 756.7L287.7 756L278.8 755.3L269.8 754.6L260.9 754L251.9 753.4ZM733.4 819.4L741.8 821.5L750.2 823.6L747.8 831L739.5 828.9L731.1 826.9ZM800.1 836.7L808.4 838.9L805.8 846.3L797.6 844ZM833.1 845.8L841.2 848.2L849.4 850.6L846.8 857.9L838.6 855.5L830.4 853.2ZM199.1 734.7L208.1 735.2L217.2 735.6L226.2 736.1L225.6 743.9L216.6 743.4L207.6 743L198.6 742.5ZM235.3 736.7L244.3 737.2L253.3 737.8L262.3 738.4L271.3 739.1L280.3 739.7L289.3 740.4L298.3 741.1L307.3 741.9L316.3 742.7L325.3 743.5L334.3 744.3L333.3 752.1L324.3 751.3L315.4 750.4L306.4 749.7L297.5 748.9L288.5 748.2L279.6 747.5L270.6 746.8L261.6 746.2L252.6 745.6L243.6 745L234.6 744.5ZM450.1 757.7L459 759L467.8 760.2L476.6 761.5L485.5 762.8L494.3 764.1L492.7 771.8L483.9 770.5L475.2 769.2L466.4 767.9L457.6 766.6L448.7 765.4ZM744.2 814.1L752.6 816.2L761 818.3L758.6 825.7L750.2 823.6L741.8 821.5ZM802.6 829.3L810.9 831.6L808.4 838.9L800.1 836.7ZM835.7 838.5L843.9 840.9L852.1 843.3L849.4 850.6L841.2 848.2L833.1 845.8ZM172.4 725.7L181.4 726.1L190.5 726.5L190.1 734.3L181 733.9L172 733.6ZM199.6 726.9L208.7 727.4L217.8 727.8L217.2 735.6L208.1 735.2L199.1 734.7ZM254 730L263.1 730.6L272.1 731.3L281.1 731.9L290.2 732.6L299.2 733.4L308.2 734.1L317.2 734.9L326.2 735.7L335.2 736.6L334.3 744.3L325.3 743.5L316.3 742.7L307.3 741.9L298.3 741.1L289.3 740.4L280.3 739.7L271.3 739.1L262.3 738.4L253.3 737.8ZM451.5 750L460.4 751.3L469.3 752.5L478.1 753.8L487 755.1L495.8 756.4L504.6 757.8L503.1 765.5L494.3 764.1L485.5 762.8L476.6 761.5L467.8 760.2L459 759L450.1 757.7ZM746.6 806.6L755 808.7L763.4 810.9L761 818.3L752.6 816.2L744.2 814.1ZM805.2 821.9L813.5 824.2L810.9 831.6L802.6 829.3ZM838.3 831.2L846.6 833.6L843.9 840.9L835.7 838.5ZM163.6 717.6L172.8 717.9L181.9 718.3L191 718.7L200.1 719.1L209.2 719.5L208.7 727.4L199.6 726.9L190.5 726.5L181.4 726.1L172.4 725.7L163.3 725.4ZM245.6 721.6L254.7 722.2L263.8 722.8L272.9 723.5L281.9 724.1L291 724.9L300.1 725.6L309.1 726.3L318.2 727.1L327.2 728L336.2 728.8L335.2 736.6L326.2 735.7L317.2 734.9L308.2 734.1L299.2 733.4L290.2 732.6L281.1 731.9L272.1 731.3L263.1 730.6L254 730L244.9 729.4ZM452.9 742.3L461.8 743.6L470.7 744.8L479.6 746.1L488.5 747.4L497.4 748.8L506.2 750.1L515.1 751.5L513.5 759.2L504.6 757.8L495.8 756.4L487 755.1L478.1 753.8L469.3 752.5L460.4 751.3L451.5 750ZM732 795L740.5 797.1L738.1 804.5L729.7 802.5ZM748.9 799.2L757.4 801.3L765.8 803.5L763.4 810.9L755 808.7L746.6 806.6ZM807.8 814.5L816.1 816.8L813.5 824.2L805.2 821.9ZM832.7 821.5L841 823.9L849.3 826.2L846.6 833.6L838.3 831.2L830.1 828.8ZM154.8 709.5L164 709.8L173.2 710.1L182.3 710.5L191.5 710.8L200.6 711.3L209.8 711.7L218.9 712.2L228 712.7L237.2 713.2L246.3 713.8L255.4 714.4L264.5 715L263.8 722.8L254.7 722.2L245.6 721.6L236.5 721.1L227.4 720.5L218.3 720L209.2 719.5L200.1 719.1L191 718.7L181.9 718.3L172.8 717.9L163.6 717.6L154.5 717.3ZM282.7 716.3L291.8 717.1L300.9 717.8L310 718.6L319.1 719.3L328.2 720.2L337.2 721L336.2 728.8L327.2 728L318.2 727.1L309.1 726.3L300.1 725.6L291 724.9L281.9 724.1ZM436.4 732.2L445.4 733.4L454.3 734.6L463.3 735.8L472.2 737.1L481.1 738.4L490 739.7L498.9 741.1L507.8 742.5L516.7 743.9L525.6 745.3L523.9 753L515.1 751.5L506.2 750.1L497.4 748.8L488.5 747.4L479.6 746.1L470.7 744.8L461.8 743.6L452.9 742.3L444 741.1L435.1 739.9ZM734.3 787.5L742.9 789.6L751.3 791.7L759.8 793.9L768.3 796L776.7 798.2L774.3 805.6L765.8 803.5L757.4 801.3L748.9 799.2L740.5 797.1L732 795ZM810.4 807.2L818.7 809.5L816.1 816.8L807.8 814.5ZM146 701.3L155.2 701.6L164.4 701.9L173.6 702.3L182.8 702.6L191.9 703L201.1 703.4L210.3 703.9L219.5 704.4L228.6 704.9L237.8 705.4L247 706L246.3 713.8L237.2 713.2L228 712.7L218.9 712.2L209.8 711.7L200.6 711.3L191.5 710.8L182.3 710.5L173.2 710.1L164 709.8L154.8 709.5L145.7 709.2ZM283.5 708.5L292.7 709.3L301.8 710L310.9 710.8L320 711.6L329.1 712.4L338.2 713.2L337.2 721L328.2 720.2L319.1 719.3L310 718.6L300.9 717.8L291.8 717.1L282.7 716.3ZM428.8 723.3L437.8 724.5L446.8 725.7L455.8 726.9L464.7 728.1L473.7 729.4L472.2 737.1L463.3 735.8L454.3 734.6L445.4 733.4L436.4 732.2L427.4 731.1ZM736.7 780.1L745.2 782.2L753.8 784.3L762.3 786.4L770.8 788.6L779.2 790.8L787.7 793L785.2 800.4L776.7 798.2L768.3 796L759.8 793.9L751.3 791.7L742.9 789.6L734.3 787.5ZM813 799.8L821.3 802.1L818.7 809.5L810.4 807.2ZM137.1 693.2L146.3 693.5L155.5 693.8L164.8 694.1L174 694.4L183.2 694.8L192.4 695.2L191.9 703L182.8 702.6L173.6 702.3L164.4 701.9L155.2 701.6L146 701.3L136.8 701.1ZM284.4 700.7L293.5 701.4L302.7 702.2L311.8 703L321 703.8L330.1 704.6L339.3 705.4L338.2 713.2L329.1 712.4L320 711.6L310.9 710.8L301.8 710L292.7 709.3L283.5 708.5ZM348.4 706.3L357.5 707.2L366.6 708.2L365.5 716L356.4 715L347.3 714.1ZM393.9 711.2L403 712.2L412 713.3L421.1 714.4L430.1 715.6L439.2 716.7L448.2 717.9L457.2 719.2L466.2 720.4L475.2 721.7L473.7 729.4L464.7 728.1L455.8 726.9L446.8 725.7L437.8 724.5L428.8 723.3L419.8 722.2L410.7 721.1L401.7 720L392.7 718.9ZM764.7 779L773.3 781.1L781.8 783.3L790.2 785.6L787.7 793L779.2 790.8L770.8 788.6L762.3 786.4ZM815.6 792.4L824 794.7L821.3 802.1L813 799.8ZM137.3 685.4L146.6 685.6L155.9 685.9L165.1 686.2L174.4 686.6L183.7 686.9L192.9 687.3L192.4 695.2L183.2 694.8L174 694.4L164.8 694.1L155.5 693.8L146.3 693.5L137.1 693.2ZM266.8 691.6L276 692.2L285.2 692.9L294.4 693.6L293.5 701.4L284.4 700.7L275.2 700L266 699.4ZM321.9 695.9L331.1 696.8L330.1 704.6L321 703.8ZM349.4 698.5L358.6 699.4L367.7 700.4L376.9 701.4L386 702.4L395.1 703.4L404.2 704.5L413.3 705.5L422.4 706.7L431.5 707.8L440.5 709L449.6 710.2L458.6 711.4L467.7 712.7L476.7 714L485.7 715.3L494.7 716.6L493.2 724.3L484.2 723L475.2 721.7L466.2 720.4L457.2 719.2L448.2 717.9L439.2 716.7L430.1 715.6L421.1 714.4L412 713.3L403 712.2L393.9 711.2L384.8 710.1L375.7 709.1L366.6 708.2L357.5 707.2L348.4 706.3ZM784.3 775.9L792.8 778.1L801.3 780.4L798.7 787.8L790.2 785.6L781.8 783.3ZM818.2 785L826.7 787.3L824 794.7L815.6 792.4ZM137.6 677.5L146.9 677.8L156.2 678L165.5 678.4L174.8 678.7L184.1 679.1L193.4 679.5L202.7 679.9L212 680.4L221.2 680.8L230.5 681.4L239.8 681.9L249 682.5L258.3 683.1L267.5 683.7L276.8 684.4L286 685.1L295.3 685.8L304.5 686.5L303.6 694.4L294.4 693.6L285.2 692.9L276 692.2L266.8 691.6L257.6 690.9L248.3 690.3L239.1 689.7L229.9 689.2L220.6 688.7L211.4 688.2L202.2 687.7L192.9 687.3L183.7 686.9L174.4 686.6L165.1 686.2L155.9 685.9L146.6 685.6L137.3 685.4ZM350.5 690.7L359.7 691.6L358.6 699.4L349.4 698.5ZM368.9 692.6L378 693.6L376.9 701.4L367.7 700.4ZM387.2 694.6L396.3 695.6L405.5 696.7L414.6 697.8L423.7 698.9L432.8 700.1L441.9 701.2L451 702.4L460.1 703.7L469.2 704.9L478.2 706.2L487.3 707.5L485.7 715.3L476.7 714L467.7 712.7L458.6 711.4L449.6 710.2L440.5 709L431.5 707.8L422.4 706.7L413.3 705.5L404.2 704.5L395.1 703.4L386 702.4ZM786.8 768.4L795.4 770.7L803.9 773L812.4 775.3L809.8 782.7L801.3 780.4L792.8 778.1L784.3 775.9ZM820.9 777.6L829.3 779.9L826.7 787.3L818.2 785ZM128.6 669.4L137.9 669.6L147.2 669.9L156.6 670.2L165.9 670.5L175.2 670.8L184.6 671.2L193.9 671.6L203.2 672L212.5 672.5L221.8 673L231.1 673.5L240.4 674L249.7 674.6L259 675.2L268.3 675.9L277.6 676.5L286.9 677.2L296.1 678L305.4 678.7L314.6 679.5L323.9 680.3L333.1 681.1L342.4 682L351.6 682.9L360.8 683.8L359.7 691.6L350.5 690.7L341.3 689.8L332.1 689L322.9 688.1L313.7 687.3L304.5 686.5L295.3 685.8L286 685.1L276.8 684.4L267.5 683.7L258.3 683.1L249 682.5L239.8 681.9L230.5 681.4L221.2 680.8L212 680.4L202.7 679.9L193.4 679.5L184.1 679.1L174.8 678.7L165.5 678.4L156.2 678L146.9 677.8L137.6 677.5L128.3 677.3ZM370 684.8L379.2 685.8L388.4 686.8L387.2 694.6L378 693.6L368.9 692.6ZM452.5 694.7L461.6 695.9L470.7 697.2L479.8 698.5L488.8 699.8L487.3 707.5L478.2 706.2L469.2 704.9L460.1 703.7L451 702.4ZM789.4 761L798 763.2L806.5 765.5L815 767.8L823.5 770.2L832 772.5L829.3 779.9L820.9 777.6L812.4 775.3L803.9 773L795.4 770.7L786.8 768.4ZM138.2 661.8L147.6 662L156.9 662.3L156.6 670.2L147.2 669.9L137.9 669.6ZM166.3 662.6L175.7 662.9L185 663.3L194.4 663.7L203.7 664.2L213.1 664.6L222.4 665.1L231.8 665.6L241.1 666.2L250.4 666.8L259.8 667.4L269.1 668L278.4 668.7L287.7 669.4L297 670.1L306.3 670.9L315.6 671.7L324.9 672.5L334.1 673.3L343.4 674.2L352.7 675.1L361.9 676L371.1 677L380.4 678L379.2 685.8L370 684.8L360.8 683.8L351.6 682.9L342.4 682L333.1 681.1L323.9 680.3L314.6 679.5L305.4 678.7L296.1 678L286.9 677.2L277.6 676.5L268.3 675.9L259 675.2L249.7 674.6L240.4 674L231.1 673.5L221.8 673L212.5 672.5L203.2 672L193.9 671.6L184.6 671.2L175.2 670.8L165.9 670.5ZM453.9 686.9L463.1 688.2L472.2 689.4L481.3 690.7L490.4 692.1L488.8 699.8L479.8 698.5L470.7 697.2L461.6 695.9L452.5 694.7ZM774.8 749.1L783.4 751.3L792 753.5L800.6 755.8L809.2 758.1L817.7 760.4L826.2 762.7L834.8 765.1L832 772.5L823.5 770.2L815 767.8L806.5 765.5L798 763.2L789.4 761L780.8 758.8L772.2 756.6ZM119.7 653.4L129.1 653.6L138.5 653.9L147.9 654.1L157.3 654.4L166.7 654.7L176.1 655.1L185.5 655.4L194.9 655.8L204.3 656.3L213.7 656.7L223 657.2L232.4 657.8L241.8 658.3L251.1 658.9L250.4 666.8L241.1 666.2L231.8 665.6L222.4 665.1L213.1 664.6L203.7 664.2L194.4 663.7L185 663.3L175.7 662.9L166.3 662.6L156.9 662.3L147.6 662L138.2 661.8L128.8 661.5L119.4 661.3ZM260.5 659.5L269.9 660.2L269.1 668L259.8 667.4ZM279.2 660.8L288.5 661.5L297.9 662.3L307.2 663L316.5 663.8L325.8 664.6L335.2 665.5L344.5 666.4L353.7 667.3L363 668.2L372.3 669.2L371.1 677L361.9 676L352.7 675.1L343.4 674.2L334.1 673.3L324.9 672.5L315.6 671.7L306.3 670.9L297 670.1L287.7 669.4L278.4 668.7ZM455.4 679.1L464.5 680.4L463.1 688.2L453.9 686.9ZM777.3 741.6L786 743.8L794.6 746.1L803.2 748.3L811.8 750.6L820.4 753L828.9 755.3L837.5 757.7L834.8 765.1L826.2 762.7L817.7 760.4L809.2 758.1L800.6 755.8L792 753.5L783.4 751.3L774.8 749.1ZM119.9 645.5L129.3 645.7L138.8 646L148.2 646.2L157.7 646.5L167.1 646.8L176.5 647.2L186 647.6L195.4 648L204.8 648.4L214.2 648.9L223.6 649.4L233 649.9L242.5 650.4L251.9 651L261.2 651.6L260.5 659.5L251.1 658.9L241.8 658.3L232.4 657.8L223 657.2L213.7 656.7L204.3 656.3L194.9 655.8L185.5 655.4L176.1 655.1L166.7 654.7L157.3 654.4L147.9 654.1L138.5 653.9L129.1 653.6L119.7 653.4ZM270.6 652.3L280 653L289.4 653.7L298.8 654.4L308.1 655.2L317.5 656L326.8 656.8L336.2 657.6L345.5 658.5L354.8 659.4L364.2 660.4L373.5 661.3L372.3 669.2L363 668.2L353.7 667.3L344.5 666.4L335.2 665.5L325.8 664.6L316.5 663.8L307.2 663L297.9 662.3L288.5 661.5L279.2 660.8L269.9 660.2ZM530.2 682.2L539.3 683.7L537.5 691.4L528.5 690ZM788.6 736.3L797.2 738.6L805.9 740.9L814.5 743.2L823.1 745.5L831.7 747.9L840.2 750.3L848.8 752.7L846 760.1L837.5 757.7L828.9 755.3L820.4 753L811.8 750.6L803.2 748.3L794.6 746.1L786 743.8ZM120.1 637.6L129.6 637.8L139.1 638.1L148.5 638.3L158 638.6L167.5 638.9L177 639.3L186.4 639.7L195.9 640.1L205.3 640.5L214.8 641L224.3 641.5L233.7 642L243.1 642.6L252.6 643.2L262 643.8L261.2 651.6L251.9 651L242.5 650.4L233 649.9L223.6 649.4L214.2 648.9L204.8 648.4L195.4 648L186 647.6L176.5 647.2L167.1 646.8L157.7 646.5L148.2 646.2L138.8 646L129.3 645.7L119.9 645.5ZM271.4 644.4L280.8 645.1L290.3 645.8L299.7 646.5L309.1 647.3L318.5 648.1L327.8 648.9L337.2 649.8L346.6 650.7L345.5 658.5L336.2 657.6L326.8 656.8L317.5 656L308.1 655.2L298.8 654.4L289.4 653.7L280 653L270.6 652.3ZM355.9 651.6L365.3 652.5L374.6 653.5L373.5 661.3L364.2 660.4L354.8 659.4ZM384 654.5L393.3 655.5L392.1 663.4L382.8 662.3ZM799.9 731.1L808.5 733.4L805.9 740.9L797.2 738.6ZM825.8 738.1L834.4 740.5L843 742.8L851.6 745.3L848.8 752.7L840.2 750.3L831.7 747.9L823.1 745.5ZM120.3 629.7L129.8 629.9L139.4 630.2L148.9 630.4L158.4 630.7L167.9 631L177.4 631.4L177 639.3L167.5 638.9L158 638.6L148.5 638.3L139.1 638.1L129.6 637.8L120.1 637.6ZM196.4 632.2L205.9 632.6L215.4 633.1L224.9 633.6L234.4 634.1L233.7 642L224.3 641.5L214.8 641L205.3 640.5L195.9 640.1ZM281.7 637.2L291.1 637.9L300.6 638.7L310 639.4L319.4 640.2L328.8 641.1L338.3 641.9L347.7 642.8L357.1 643.7L366.4 644.7L375.8 645.7L385.2 646.7L394.6 647.7L403.9 648.8L402.6 656.6L393.3 655.5L384 654.5L374.6 653.5L365.3 652.5L355.9 651.6L346.6 650.7L337.2 649.8L327.8 648.9L318.5 648.1L309.1 647.3L299.7 646.5L290.3 645.8L280.8 645.1ZM687.8 696L696.7 698L705.7 700L714.5 702L712.2 709.6L703.3 707.6L694.4 705.6L685.5 703.6ZM793.8 721.4L802.5 723.6L811.2 725.9L808.5 733.4L799.9 731.1L791.2 728.8ZM828.6 730.6L837.2 733L845.8 735.4L843 742.8L834.4 740.5L825.8 738.1ZM216 625.2L225.5 625.7L224.9 633.6L215.4 633.1ZM292 630L301.5 630.8L310.9 631.6L320.4 632.4L329.9 633.2L339.3 634.1L348.7 635L358.2 635.9L367.6 636.8L377 637.8L386.4 638.8L395.8 639.9L394.6 647.7L385.2 646.7L375.8 645.7L366.4 644.7L357.1 643.7L347.7 642.8L338.3 641.9L328.8 641.1L319.4 640.2L310 639.4L300.6 638.7L291.1 637.9ZM470.6 649.3L479.9 650.6L478.3 658.4L469.1 657.1ZM690.1 688.4L699.1 690.4L708 692.4L716.9 694.4L714.5 702L705.7 700L696.7 698L687.8 696ZM796.5 713.9L805.2 716.1L813.9 718.5L811.2 725.9L802.5 723.6L793.8 721.4ZM831.3 723.2L840 725.6L848.6 728L845.8 735.4L837.2 733L828.6 730.6ZM130.4 614.1L140 614.3L139.7 622.2L130.1 622ZM302.4 622.9L311.9 623.7L321.4 624.5L330.9 625.3L340.4 626.2L349.8 627.1L359.3 628L368.8 629L378.2 630L387.7 631L386.4 638.8L377 637.8L367.6 636.8L358.2 635.9L348.7 635L339.3 634.1L329.9 633.2L320.4 632.4L310.9 631.6L301.5 630.8ZM683.4 678.8L692.4 680.8L701.4 682.8L710.4 684.8L708 692.4L699.1 690.4L690.1 688.4L681.1 686.4ZM799.1 706.4L807.9 708.7L816.6 711L813.9 718.5L805.2 716.1L796.5 713.9ZM834.1 715.7L842.8 718.1L851.5 720.5L848.6 728L840 725.6L831.3 723.2ZM303.3 615L312.9 615.8L322.4 616.6L331.9 617.5L341.4 618.3L350.9 619.2L360.4 620.2L369.9 621.1L379.4 622.1L388.9 623.1L387.7 631L378.2 630L368.8 629L359.3 628L349.8 627.1L340.4 626.2L330.9 625.3L321.4 624.5L311.9 623.7L302.4 622.9ZM417.3 626.4L426.7 627.5L425.3 635.4L415.9 634.2ZM483.1 635L492.4 636.3L490.8 644.1L481.5 642.8ZM520.4 640.5L529.7 642L539 643.5L537.2 651.3L528 649.8L518.7 648.3ZM685.7 671.2L694.8 673.2L703.8 675.2L712.8 677.2L710.4 684.8L701.4 682.8L692.4 680.8L683.4 678.8ZM739.7 683.4L748.6 685.5L757.5 687.7L755 695.2L746.1 693.1L737.2 691ZM801.8 698.9L810.6 701.2L819.4 703.5L816.6 711L807.9 708.7L799.1 706.4ZM836.9 708.3L845.6 710.7L842.8 718.1L834.1 715.7ZM304.2 607.1L313.8 607.9L323.4 608.7L333 609.6L342.5 610.4L352.1 611.4L361.6 612.3L371.1 613.3L369.9 621.1L360.4 620.2L350.9 619.2L341.4 618.3L331.9 617.5L322.4 616.6L312.9 615.8L303.3 615ZM418.6 618.5L428.1 619.7L437.6 620.9L447 622.1L445.5 629.9L436.1 628.7L426.7 627.5L417.3 626.4ZM522.2 632.8L531.5 634.2L540.8 635.7L550.2 637.3L548.3 645L539 643.5L529.7 642L520.4 640.5ZM697.1 665.5L706.2 667.5L703.8 675.2L694.8 673.2ZM742.2 675.8L751.1 678L760.1 680.1L757.5 687.7L748.6 685.5L739.7 683.4ZM804.5 691.3L813.3 693.7L822.2 696L819.4 703.5L810.6 701.2L801.8 698.9ZM285.9 597.7L295.6 598.5L294.7 606.4L285.1 605.6ZM305.2 599.2L314.8 600L324.4 600.8L334 601.7L343.6 602.6L342.5 610.4L333 609.6L323.4 608.7L313.8 607.9L304.2 607.1ZM429.5 611.8L439 613L448.5 614.2L447 622.1L437.6 620.9L428.1 619.7ZM495.7 620.7L505.1 622.1L503.5 629.9L494.1 628.5ZM542.7 628L552 629.5L550.2 637.3L540.8 635.7ZM735.7 666.1L744.7 668.2L753.7 670.4L762.7 672.6L771.6 674.8L769 682.3L760.1 680.1L751.1 678L742.2 675.8L733.2 673.7ZM798.4 681.5L807.2 683.8L816.1 686.2L824.9 688.5L833.8 690.9L830.9 698.4L822.2 696L813.3 693.7L804.5 691.3L795.7 689ZM306.1 591.3L315.8 592.1L314.8 600L305.2 599.2ZM430.9 604L440.5 605.2L450 606.4L459.5 607.6L458 615.5L448.5 614.2L439 613L429.5 611.8ZM506.8 614.3L516.3 615.7L514.5 623.5L505.1 622.1ZM729.2 656.4L738.2 658.5L747.3 660.6L756.3 662.8L765.3 665L774.3 667.2L783.2 669.4L780.6 677L771.6 674.8L762.7 672.6L753.7 670.4L744.7 668.2L735.7 666.1L726.7 664ZM792.2 671.7L801.1 674L810 676.3L818.9 678.6L827.7 681L836.6 683.4L845.4 685.8L842.5 693.3L833.8 690.9L824.9 688.5L816.1 686.2L807.2 683.8L798.4 681.5L789.5 679.2ZM287.7 581.9L297.4 582.6L307.1 583.4L316.8 584.2L315.8 592.1L306.1 591.3L296.5 590.6L286.8 589.8ZM441.9 597.3L451.5 598.6L461 599.8L459.5 607.6L450 606.4L440.5 605.2ZM518 607.9L527.5 609.4L536.9 610.9L546.3 612.4L555.8 614L553.9 621.7L544.5 620.2L535.1 618.7L525.7 617.2L516.3 615.7ZM574.5 617.1L583.9 618.8L593.3 620.4L591.3 628.2L581.9 626.5L572.6 624.9ZM731.7 648.8L740.7 650.9L749.8 653L747.3 660.6L738.2 658.5L729.2 656.4ZM767.9 657.4L776.9 659.6L785.9 661.9L794.9 664.1L803.8 666.5L812.8 668.8L821.7 671.1L830.6 673.5L839.4 675.9L848.3 678.4L845.4 685.8L836.6 683.4L827.7 681L818.9 678.6L810 676.3L801.1 674L792.2 671.7L783.2 669.4L774.3 667.2L765.3 665ZM443.4 589.5L453 590.7L462.6 592L461 599.8L451.5 598.6L441.9 597.3ZM557.7 606.2L567.1 607.8L576.5 609.4L585.9 611L595.3 612.7L593.3 620.4L583.9 618.8L574.5 617.1L565.2 615.5L555.8 614ZM679.1 629L688.3 631L686 638.6L676.8 636.7ZM725 639.1L734.2 641.2L743.3 643.3L740.7 650.9L731.7 648.8L722.6 646.7ZM779.6 652.1L788.6 654.3L797.6 656.6L806.6 658.9L815.5 661.2L824.5 663.6L833.4 666L842.3 668.4L851.2 670.9L848.3 678.4L839.4 675.9L830.6 673.5L821.7 671.1L812.8 668.8L803.8 666.5L794.9 664.1L785.9 661.9L776.9 659.6ZM142.1 558.7L152 558.9L161.8 559.2L171.7 559.6L171.2 567.5L161.4 567.2L151.6 566.9L141.8 566.6ZM454.5 582.8L464.1 584.1L462.6 592L453 590.7ZM559.6 598.4L569 600L578.5 601.6L587.9 603.3L597.4 604.9L595.3 612.7L585.9 611L576.5 609.4L567.1 607.8L557.7 606.2ZM672.2 619.4L681.4 621.3L690.7 623.3L699.9 625.3L709.2 627.3L718.4 629.4L727.5 631.4L736.7 633.5L734.2 641.2L725 639.1L715.9 637L706.7 635L697.5 633L688.3 631L679.1 629L669.8 627.1ZM782.3 644.5L791.3 646.8L800.3 649L809.4 651.4L806.6 658.9L797.6 656.6L788.6 654.3L779.6 652.1ZM142.4 550.7L152.3 551L162.2 551.3L172.1 551.6L171.7 559.6L161.8 559.2L152 558.9L142.1 558.7ZM446.4 573.7L456 575L454.5 582.8L444.9 581.6ZM571 592.2L580.5 593.8L590 595.5L599.4 597.2L608.9 598.9L618.3 600.6L627.7 602.4L625.5 610.1L616.2 608.4L606.8 606.6L597.4 604.9L587.9 603.3L578.5 601.6L569 600ZM665.2 609.8L674.5 611.7L683.8 613.7L693.1 615.6L702.4 617.6L711.6 619.7L709.2 627.3L699.9 625.3L690.7 623.3L681.4 621.3L672.2 619.4L662.9 617.5ZM730.1 623.8L739.3 625.9L736.7 633.5L727.5 631.4ZM775.9 634.7L785 636.9L794 639.2L803.1 641.5L800.3 649L791.3 646.8L782.3 644.5L773.2 642.2ZM142.7 542.7L152.7 543L152.3 551L142.4 550.7ZM162.6 543.3L172.5 543.6L172.1 551.6L162.2 551.3ZM447.9 565.9L457.6 567.1L467.3 568.4L465.7 576.3L456 575L446.4 573.7ZM620.4 592.9L629.9 594.7L639.3 596.5L648.7 598.3L646.5 606L637.1 604.2L627.7 602.4L618.3 600.6ZM667.5 602.1L676.8 604L686.2 606L695.5 608L693.1 615.6L683.8 613.7L674.5 611.7L665.2 609.8ZM143.1 534.7L153 535L152.7 543L142.7 542.7ZM449.4 558L459.1 559.3L468.9 560.5L467.3 568.4L457.6 567.1L447.9 565.9ZM594.1 579.9L603.6 581.6L601.5 589.4L592 587.7ZM669.8 594.4L679.2 596.3L688.6 598.3L697.9 600.3L695.5 608L686.2 606L676.8 604L667.5 602.1ZM725.9 606.4L735.2 608.5L732.6 616.2L723.4 614.1ZM352.6 539.3L362.5 540.2L361.3 548.1L351.4 547.2ZM392.1 543.2L401.9 544.3L400.5 552.2L390.7 551.1ZM450.9 550.1L460.7 551.4L470.5 552.7L480.2 554L478.6 561.8L468.9 560.5L459.1 559.3L449.4 558ZM596.1 572.2L605.7 573.9L603.6 581.6L594.1 579.9ZM681.6 588.6L691 590.6L700.4 592.6L697.9 600.3L688.6 598.3L679.2 596.3ZM747 603L756.3 605.2L753.7 612.8L744.4 610.7ZM353.7 531.3L363.7 532.3L362.5 540.2L352.6 539.3ZM393.4 535.3L403.2 536.4L401.9 544.3L392.1 543.2ZM452.5 542.2L462.3 543.5L472.1 544.8L481.9 546.1L480.2 554L470.5 552.7L460.7 551.4L450.9 550.1ZM598.2 564.4L607.8 566.1L605.7 573.9L596.1 572.2ZM684 580.9L693.4 582.9L702.8 584.9L712.2 586.9L709.7 594.6L700.4 592.6L691 590.6L681.6 588.6ZM740.3 593.2L749.7 595.4L759 597.6L768.3 599.8L765.6 607.4L756.3 605.2L747 603L737.7 600.9ZM154.1 511L164.2 511.3L174.3 511.7L184.4 512.1L183.9 520.1L173.9 519.7L163.8 519.3L153.8 519ZM344.9 522.5L354.9 523.4L353.7 531.3L343.8 530.4ZM394.7 527.4L404.6 528.5L414.5 529.6L424.4 530.7L423 538.6L413.1 537.5L403.2 536.4L393.4 535.3ZM454 534.3L463.9 535.6L473.7 536.9L483.6 538.2L493.4 539.6L491.7 547.5L481.9 546.1L472.1 544.8L462.3 543.5L452.5 542.2ZM695.9 575.2L705.3 577.2L714.8 579.2L712.2 586.9L702.8 584.9L693.4 582.9ZM733.6 583.4L743 585.6L752.3 587.7L749.7 595.4L740.3 593.2L731 591.1ZM761.7 589.9L771 592.1L768.3 599.8L759 597.6ZM164.6 503.3L174.8 503.7L174.3 511.7L164.2 511.3ZM306 511.1L316 511.9L326 512.8L325 520.7L315 519.9L305 519.1ZM396 519.5L406 520.6L415.9 521.7L414.5 529.6L404.6 528.5L394.7 527.4ZM455.6 526.5L465.5 527.7L475.4 529L485.2 530.4L495.1 531.7L493.4 539.6L483.6 538.2L473.7 536.9L463.9 535.6L454 534.3ZM602.5 548.8L612.1 550.5L610 558.3L600.3 556.6ZM698.3 567.5L707.8 569.5L717.3 571.6L726.8 573.6L736.2 575.8L745.6 577.9L755 580.1L752.3 587.7L743 585.6L733.6 583.4L724.2 581.3L714.8 579.2L705.3 577.2L695.9 575.2ZM306.9 503.2L317 504L327.1 504.8L337.2 505.7L336.1 513.6L326 512.8L316 511.9L306 511.1ZM397.4 511.5L407.4 512.6L406 520.6L396 519.5ZM447.3 517.3L457.2 518.6L467.1 519.8L477 521.1L486.9 522.5L496.8 523.9L495.1 531.7L485.2 530.4L475.4 529L465.5 527.7L455.6 526.5L445.7 525.2ZM604.6 541L614.3 542.7L612.1 550.5L602.5 548.8ZM710.4 561.8L719.9 563.9L729.3 566L738.8 568.1L748.3 570.2L757.7 572.4L755 580.1L745.6 577.9L736.2 575.8L726.8 573.6L717.3 571.6L707.8 569.5ZM277.5 493L287.7 493.7L286.8 501.7L276.6 501ZM297.8 494.4L307.9 495.2L318.1 496L328.2 496.8L338.3 497.7L348.4 498.6L347.2 506.6L337.2 505.7L327.1 504.8L317 504L306.9 503.2L296.9 502.4ZM458.8 510.7L468.8 511.9L478.7 513.3L488.7 514.6L498.6 516L496.8 523.9L486.9 522.5L477 521.1L467.1 519.8L457.2 518.6ZM606.8 533.2L616.5 535L626.2 536.7L635.9 538.5L633.7 546.3L624 544.5L614.3 542.7L604.6 541ZM722.4 556.2L732 558.3L741.5 560.4L750.9 562.6L760.4 564.8L757.7 572.4L748.3 570.2L738.8 568.1L729.3 566L719.9 563.9ZM247.8 483L258 483.7L268.2 484.3L267.4 492.3L257.2 491.7L247 491ZM278.4 485L288.6 485.7L287.7 493.7L277.5 493ZM298.8 486.4L309 487.2L307.9 495.2L297.8 494.4ZM329.3 488.9L339.4 489.7L338.3 497.7L328.2 496.8ZM460.4 502.7L470.4 504L480.4 505.4L490.4 506.7L500.3 508.1L498.6 516L488.7 514.6L478.7 513.3L468.8 511.9L458.8 510.7ZM628.5 529L638.2 530.8L647.9 532.6L657.6 534.5L667.3 536.4L664.9 544.2L655.3 542.3L645.6 540.4L635.9 538.5L626.2 536.7ZM725 548.5L734.6 550.6L744.1 552.7L753.6 554.9L763.1 557.1L760.4 564.8L750.9 562.6L741.5 560.4L732 558.3L722.4 556.2ZM114.8 470L125.1 470.2L135.4 470.4L145.7 470.7L156 471L166.3 471.3L165.9 479.3L155.7 479L145.4 478.7L135.1 478.5L124.9 478.2L114.6 478.1ZM248.6 475L258.8 475.7L269.1 476.3L268.2 484.3L258 483.7L247.8 483ZM279.3 477L289.5 477.7L299.8 478.5L298.8 486.4L288.6 485.7L278.4 485ZM452 493.6L462 494.8L472.1 496.1L482.1 497.5L492.1 498.8L502.1 500.2L500.3 508.1L490.4 506.7L480.4 505.4L470.4 504L460.4 502.7L450.4 501.5ZM669.7 528.6L679.4 530.6L689.1 532.6L686.6 540.3L677 538.3L667.3 536.4ZM718.1 538.7L727.7 540.8L737.2 542.9L746.8 545L756.3 547.2L753.6 554.9L744.1 552.7L734.6 550.6L725 548.5L715.5 546.4ZM794.3 556.2L803.7 558.6L800.9 566.2L791.5 563.9ZM115 462L125.4 462.2L135.7 462.4L146.1 462.7L156.4 463L166.8 463.3L177.1 463.6L187.4 464L186.9 472L176.6 471.7L166.3 471.3L156 471L145.7 470.7L135.4 470.4L125.1 470.2L114.8 470ZM239 466.5L249.3 467L259.6 467.7L269.9 468.3L269.1 476.3L258.8 475.7L248.6 475L238.3 474.5ZM280.2 469L290.5 469.7L300.7 470.5L299.8 478.5L289.5 477.7L279.3 477ZM473.7 488.2L483.8 489.6L482.1 497.5L472.1 496.1ZM493.9 490.9L503.9 492.3L502.1 500.2L492.1 498.8ZM691.6 524.8L701.3 526.8L698.8 534.6L689.1 532.6ZM711 528.9L720.7 531L730.3 533.1L739.9 535.2L749.5 537.4L746.8 545L737.2 542.9L727.7 540.8L718.1 538.7L708.4 536.6ZM768.6 541.8L778.2 544L775.4 551.7L765.9 549.4ZM115.3 454L125.7 454.2L136 454.4L146.4 454.6L156.8 454.9L167.2 455.3L177.6 455.6L188 456L198.3 456.4L208.7 456.9L219.1 457.4L229.4 457.9L239.8 458.4L250.1 459L260.4 459.7L270.8 460.3L281.1 461L291.4 461.7L301.7 462.5L300.7 470.5L290.5 469.7L280.2 469L269.9 468.3L259.6 467.7L249.3 467L239 466.5L228.7 465.9L218.4 465.4L208.1 464.9L197.8 464.4L187.4 464L177.1 463.6L166.8 463.3L156.4 463L146.1 462.7L135.7 462.4L125.4 462.2L115 462ZM495.6 483L505.7 484.4L503.9 492.3L493.9 490.9ZM545.9 490.4L555.9 491.9L565.9 493.5L575.9 495.2L585.8 496.8L595.7 498.5L593.6 506.3L583.7 504.7L573.8 503L563.8 501.4L553.9 499.8L543.9 498.2ZM694.1 517.1L703.9 519.1L713.6 521.2L723.3 523.2L733 525.4L742.6 527.5L752.2 529.7L749.5 537.4L739.9 535.2L730.3 533.1L720.7 531L711 528.9L701.3 526.8L691.6 524.8ZM771.4 534.1L781 536.4L790.5 538.7L800.1 541L797.2 548.6L787.7 546.3L778.2 544L768.6 541.8ZM157.2 446.9L167.6 447.2L178.1 447.6L188.5 448L198.9 448.4L209.3 448.9L219.7 449.3L230.1 449.9L240.5 450.4L250.9 451L261.3 451.6L271.6 452.3L282 453L292.4 453.7L302.7 454.5L301.7 462.5L291.4 461.7L281.1 461L270.8 460.3L260.4 459.7L250.1 459L239.8 458.4L229.4 457.9L219.1 457.4L208.7 456.9L198.3 456.4L188 456L177.6 455.6L167.2 455.3L156.8 454.9ZM527.7 479.5L537.8 481L547.9 482.5L557.9 484.1L567.9 485.7L577.9 487.3L587.9 489L597.9 490.7L607.9 492.4L617.8 494.2L615.6 502L605.7 500.2L595.7 498.5L585.8 496.8L575.9 495.2L565.9 493.5L555.9 491.9L545.9 490.4L535.9 488.8L525.8 487.3ZM686.9 507.3L696.7 509.3L706.4 511.4L716.2 513.4L725.9 515.5L735.6 517.7L745.3 519.8L755 522L764.6 524.2L761.8 531.9L752.2 529.7L742.6 527.5L733 525.4L723.3 523.2L713.6 521.2L703.9 519.1L694.1 517.1L684.4 515.1ZM774.3 526.4L783.9 528.7L793.4 531L803 533.3L812.5 535.7L822 538.1L819.1 545.7L809.6 543.3L800.1 541L790.5 538.7L781 536.4L771.4 534.1ZM157.6 438.9L168.1 439.2L178.6 439.5L189 439.9L199.5 440.4L209.9 440.8L220.4 441.3L230.8 441.8L241.3 442.4L251.7 443L262.1 443.6L272.5 444.3L282.9 445L293.3 445.7L303.7 446.5L314.1 447.3L313.1 455.3L302.7 454.5L292.4 453.7L282 453L271.6 452.3L261.3 451.6L250.9 451L240.5 450.4L230.1 449.9L219.7 449.3L209.3 448.9L198.9 448.4L188.5 448L178.1 447.6L167.6 447.2L157.2 446.9ZM324.5 448.1L334.9 449L345.2 449.9L344 457.8L333.7 456.9L323.4 456.1ZM478.8 464.5L489 465.8L487.3 473.8L477.1 472.4ZM499.2 467.2L509.4 468.6L507.5 476.5L497.4 475.1ZM539.8 473.1L549.9 474.6L559.9 476.2L557.9 484.1L547.9 482.5L537.8 481ZM580.1 479.5L590.1 481.1L600.1 482.8L610.1 484.6L620.1 486.3L617.8 494.2L607.9 492.4L597.9 490.7L587.9 489L577.9 487.3ZM699.2 501.6L709 503.6L718.8 505.7L716.2 513.4L706.4 511.4L696.7 509.3ZM738.3 509.9L748.1 512.1L757.8 514.3L767.4 516.5L764.6 524.2L755 522L745.3 519.8L735.6 517.7ZM777.1 518.8L786.7 521.1L796.3 523.4L805.9 525.7L815.5 528.1L825 530.5L822 538.1L812.5 535.7L803 533.3L793.4 531L783.9 528.7L774.3 526.4ZM200.1 432.3L210.6 432.8L221 433.3L231.5 433.8L242 434.4L252.5 435L263 435.6L273.4 436.3L283.9 437L294.3 437.7L304.7 438.5L315.2 439.3L314.1 447.3L303.7 446.5L293.3 445.7L282.9 445L272.5 444.3L262.1 443.6L251.7 443L241.3 442.4L230.8 441.8L220.4 441.3L209.9 440.8L199.5 440.4ZM325.6 440.1L336 441L346.4 441.9L356.8 442.8L367.2 443.8L365.9 451.7L355.6 450.8L345.2 449.9L334.9 449L324.5 448.1ZM429.2 450.3L439.5 451.5L438 459.4L427.7 458.2ZM480.6 456.6L490.8 457.9L501 459.3L511.2 460.7L509.4 468.6L499.2 467.2L489 465.8L478.8 464.5ZM541.7 465.2L551.9 466.8L549.9 474.6L539.8 473.1ZM602.3 475L612.3 476.8L622.4 478.5L632.4 480.3L642.3 482.2L652.3 484L649.9 491.8L640 490L630 488.1L620.1 486.3L610.1 484.6L600.1 482.8ZM789.6 513.4L799.3 515.7L808.9 518.1L818.5 520.4L828.1 522.8L825 530.5L815.5 528.1L805.9 525.7L796.3 523.4L786.7 521.1ZM221.7 425.3L232.2 425.8L242.8 426.4L253.3 427L263.8 427.6L274.3 428.3L284.8 429L283.9 437L273.4 436.3L263 435.6L252.5 435L242 434.4L231.5 433.8L221 433.3ZM316.2 431.3L326.7 432.1L337.2 433L347.6 433.9L358 434.8L356.8 442.8L346.4 441.9L336 441L325.6 440.1L315.2 439.3ZM441.1 443.5L451.4 444.7L449.8 452.7L439.5 451.5ZM482.3 448.6L492.6 450L502.8 451.4L513.1 452.8L511.2 460.7L501 459.3L490.8 457.9L480.6 456.6ZM543.7 457.3L553.9 458.9L564.1 460.5L562 468.4L551.9 466.8L541.7 465.2ZM604.5 467.2L614.6 468.9L624.7 470.7L634.7 472.5L644.7 474.4L654.7 476.2L664.7 478.1L674.7 480.1L684.6 482.1L682.1 489.8L672.2 487.9L662.2 485.9L652.3 484L642.3 482.2L632.4 480.3L622.4 478.5L612.3 476.8L602.3 475ZM792.5 505.7L802.2 508.1L811.9 510.4L821.5 512.8L831.1 515.2L828.1 522.8L818.5 520.4L808.9 518.1L799.3 515.7L789.6 513.4ZM243.5 418.3L254.1 418.9L264.7 419.6L275.2 420.2L285.7 420.9L284.8 429L274.3 428.3L263.8 427.6L253.3 427L242.8 426.4ZM296.3 421.7L306.8 422.5L317.3 423.3L327.8 424.1L338.3 425L348.8 425.9L359.3 426.8L369.7 427.8L368.5 435.8L358 434.8L347.6 433.9L337.2 433L326.7 432.1L316.2 431.3L305.8 430.5L295.3 429.7ZM442.7 435.6L453.1 436.8L463.4 438.1L473.8 439.4L472 447.3L461.7 446L451.4 444.7L441.1 443.5ZM484.1 440.7L494.4 442.1L504.7 443.5L515 444.9L525.2 446.4L535.5 447.9L533.5 455.8L523.3 454.3L513.1 452.8L502.8 451.4L492.6 450L482.3 448.6ZM545.7 449.4L555.9 451L566.1 452.6L564.1 460.5L553.9 458.9L543.7 457.3ZM616.9 461.1L627 462.9L637.1 464.7L647.1 466.6L644.7 474.4L634.7 472.5L624.7 470.7L614.6 468.9ZM677.2 472.3L687.1 474.3L697.1 476.3L707 478.3L704.4 486.1L694.5 484.1L684.6 482.1L674.7 480.1ZM814.9 502.8L824.6 505.2L834.2 507.6L843.8 510.1L853.4 512.5L850.3 520.1L840.7 517.7L831.1 515.2L821.5 512.8L811.9 510.4ZM159.2 406.7L169.9 407L169.4 415.1L158.8 414.7ZM180.5 407.4L191.2 407.8L201.8 408.2L212.5 408.7L211.8 416.7L201.2 416.3L190.6 415.8L180 415.4ZM233.7 409.7L244.3 410.3L254.9 410.9L265.5 411.5L276.1 412.2L286.7 412.9L297.3 413.7L307.8 414.4L318.4 415.3L329 416.1L339.5 417L350 417.9L360.5 418.8L371.1 419.8L381.6 420.8L392 421.9L390.6 429.8L380.2 428.8L369.7 427.8L359.3 426.8L348.8 425.9L338.3 425L327.8 424.1L317.3 423.3L306.8 422.5L296.3 421.7L285.7 420.9L275.2 420.2L264.7 419.6L254.1 418.9L243.5 418.3L233 417.8ZM444.3 427.6L454.7 428.9L465.1 430.1L475.5 431.4L485.9 432.8L496.2 434.2L506.5 435.6L516.9 437L527.2 438.5L537.5 440L547.7 441.6L558 443.1L568.2 444.7L578.5 446.4L588.7 448L586.5 455.9L576.3 454.2L566.1 452.6L555.9 451L545.7 449.4L535.5 447.9L525.2 446.4L515 444.9L504.7 443.5L494.4 442.1L484.1 440.7L473.8 439.4L463.4 438.1L453.1 436.8L442.7 435.6ZM609 451.5L619.2 453.3L629.3 455.1L639.4 456.9L649.5 458.7L659.6 460.6L657.1 468.4L647.1 466.6L637.1 464.7L627 462.9L616.9 461.1L606.8 459.3ZM709.7 470.6L719.6 472.7L729.6 474.8L739.5 476.9L736.7 484.6L726.8 482.5L716.9 480.4L707 478.3ZM817.9 495.1L827.6 497.5L837.3 500L846.9 502.4L843.8 510.1L834.2 507.6L824.6 505.2L814.9 502.8ZM149 398.3L159.7 398.6L170.4 399L181.1 399.3L191.7 399.7L202.4 400.2L213.1 400.6L223.8 401.1L234.4 401.7L245.1 402.3L255.7 402.9L266.4 403.5L277 404.2L287.7 404.9L298.3 405.6L308.9 406.4L319.5 407.2L330.1 408.1L340.7 409L351.3 409.9L361.8 410.8L372.4 411.8L382.9 412.8L393.4 413.9L392 421.9L381.6 420.8L371.1 419.8L360.5 418.8L350 417.9L339.5 417L329 416.1L318.4 415.3L307.8 414.4L297.3 413.7L286.7 412.9L276.1 412.2L265.5 411.5L254.9 410.9L244.3 410.3L233.7 409.7L223.1 409.2L212.5 408.7L201.8 408.2L191.2 407.8L180.5 407.4L169.9 407L159.2 406.7L148.6 406.4ZM456.4 420.9L466.8 422.2L477.2 423.5L487.6 424.9L498 426.2L508.4 427.7L518.8 429.1L529.1 430.6L539.5 432.1L549.8 433.7L560.1 435.2L570.4 436.9L580.6 438.5L590.9 440.2L601.1 441.9L611.3 443.6L621.5 445.4L631.7 447.2L641.8 449.1L652 450.9L662.1 452.8L672.2 454.8L669.7 462.6L659.6 460.6L649.5 458.7L639.4 456.9L629.3 455.1L619.2 453.3L609 451.5L598.9 449.8L588.7 448L578.5 446.4L568.2 444.7L558 443.1L547.7 441.6L537.5 440L527.2 438.5L516.9 437L506.5 435.6L496.2 434.2L485.9 432.8L475.5 431.4L465.1 430.1L454.7 428.9ZM732.3 467L742.2 469.2L752.2 471.4L762.1 473.6L759.2 481.3L749.3 479.1L739.5 476.9L729.6 474.8ZM830.7 489.9L840.4 492.3L850.1 494.8L846.9 502.4L837.3 500L827.6 497.5ZM138.6 390L149.3 390.3L160.1 390.6L170.8 390.9L181.6 391.3L192.3 391.7L203 392.1L202.4 400.2L191.7 399.7L181.1 399.3L170.4 399L159.7 398.6L149 398.3L138.3 398.1ZM245.9 394.2L256.6 394.8L267.3 395.5L278 396.2L288.6 396.9L299.3 397.6L310 398.4L320.6 399.2L331.2 400.1L341.9 401L352.5 401.9L363.1 402.8L373.7 403.8L384.3 404.8L394.9 405.9L405.4 407L404 415L393.4 413.9L382.9 412.8L372.4 411.8L361.8 410.8L351.3 409.9L340.7 409L330.1 408.1L319.5 407.2L308.9 406.4L298.3 405.6L287.7 404.9L277 404.2L266.4 403.5L255.7 402.9L245.1 402.3ZM447.5 411.7L458 413L468.5 414.2L479 415.6L489.4 416.9L499.9 418.3L510.3 419.7L520.7 421.2L531.1 422.7L541.5 424.2L551.8 425.8L562.2 427.4L572.5 429L582.8 430.6L593.1 432.3L603.4 434L613.6 435.8L623.8 437.6L634 439.4L644.2 441.2L654.4 443.1L664.6 445L674.7 447L684.8 448.9L682.2 456.7L672.2 454.8L662.1 452.8L652 450.9L641.8 449.1L631.7 447.2L621.5 445.4L611.3 443.6L601.1 441.9L590.9 440.2L580.6 438.5L570.4 436.9L560.1 435.2L549.8 433.7L539.5 432.1L529.1 430.6L518.8 429.1L508.4 427.7L498 426.2L487.6 424.9L477.2 423.5L466.8 422.2L456.4 420.9L445.9 419.7ZM755 463.6L764.9 465.9L774.8 468.1L784.7 470.4L794.6 472.7L804.4 475L801.4 482.7L791.6 480.4L781.8 478.1L771.9 475.8L762.1 473.6L752.2 471.4ZM117.3 381.5L128.1 381.7L138.9 382L149.7 382.2L160.5 382.5L171.3 382.9L182.1 383.2L192.9 383.6L203.6 384.1L214.4 384.6L213.7 392.6L203 392.1L192.3 391.7L181.6 391.3L170.8 390.9L160.1 390.6L149.3 390.3L138.6 390L127.8 389.8L117.1 389.6ZM235.9 385.6L246.7 386.2L257.4 386.8L268.2 387.4L278.9 388.1L289.6 388.8L300.3 389.6L311 390.4L321.7 391.2L332.4 392.1L343.1 393L353.7 393.9L364.4 394.8L375 395.8L385.7 396.9L396.3 397.9L406.9 399L405.4 407L394.9 405.9L384.3 404.8L373.7 403.8L363.1 402.8L352.5 401.9L341.9 401L331.2 400.1L320.6 399.2L310 398.4L299.3 397.6L288.6 396.9L278 396.2L267.3 395.5L256.6 394.8L245.9 394.2L235.2 393.6ZM449.2 403.7L459.7 405L470.3 406.3L480.8 407.6L491.3 409L501.7 410.4L512.2 411.8L522.7 413.3L533.1 414.8L543.5 416.3L553.9 417.9L564.3 419.5L574.7 421.1L585 422.8L595.3 424.5L605.6 426.2L615.9 427.9L626.2 429.7L636.4 431.6L646.7 433.4L656.9 435.3L667.1 437.2L677.3 439.2L687.4 441.2L697.5 443.2L694.9 451L684.8 448.9L674.7 447L664.6 445L654.4 443.1L644.2 441.2L634 439.4L623.8 437.6L613.6 435.8L603.4 434L593.1 432.3L582.8 430.6L572.5 429L562.2 427.4L551.8 425.8L541.5 424.2L531.1 422.7L520.7 421.2L510.3 419.7L499.9 418.3L489.4 416.9L479 415.6L468.5 414.2L458 413L447.5 411.7ZM787.7 462.7L797.6 465L807.5 467.4L817.3 469.8L814.3 477.4L804.4 475L794.6 472.7L784.7 470.4ZM117.6 373.5L128.4 373.7L139.3 373.9L150.1 374.2L160.9 374.5L171.8 374.8L182.6 375.2L193.4 375.6L204.2 376L215.1 376.5L214.4 384.6L203.6 384.1L192.9 383.6L182.1 383.2L171.3 382.9L160.5 382.5L149.7 382.2L138.9 382L128.1 381.7L117.3 381.5ZM225.9 377L236.7 377.6L247.5 378.1L258.3 378.8L269 379.4L279.8 380.1L278.9 388.1L268.2 387.4L257.4 386.8L246.7 386.2L235.9 385.6L225.2 385.1ZM290.6 380.8L301.3 381.6L312.1 382.4L322.8 383.2L333.6 384.1L344.3 384.9L355 385.9L365.7 386.8L376.4 387.8L387.1 388.9L397.7 389.9L408.4 391L419 392.2L429.6 393.3L440.2 394.5L450.8 395.8L461.4 397L472 398.3L482.6 399.7L493.1 401.1L503.6 402.5L514.1 403.9L524.6 405.4L535.1 406.9L545.6 408.4L556 410L566.4 411.6L576.8 413.2L587.2 414.9L597.6 416.6L607.9 418.3L618.3 420.1L628.6 421.9L638.9 423.7L649.1 425.6L659.4 427.5L669.6 429.4L667.1 437.2L656.9 435.3L646.7 433.4L636.4 431.6L626.2 429.7L615.9 427.9L605.6 426.2L595.3 424.5L585 422.8L574.7 421.1L564.3 419.5L553.9 417.9L543.5 416.3L533.1 414.8L522.7 413.3L512.2 411.8L501.7 410.4L491.3 409L480.8 407.6L470.3 406.3L459.7 405L449.2 403.7L438.6 402.5L428.1 401.3L417.5 400.1L406.9 399L396.3 397.9L385.7 396.9L375 395.8L364.4 394.8L353.7 393.9L343.1 393L332.4 392.1L321.7 391.2L311 390.4L300.3 389.6L289.6 388.8ZM679.8 431.4L690 433.4L700.2 435.4L710.3 437.4L707.6 445.2L697.5 443.2L687.4 441.2L677.3 439.2ZM810.5 459.7L820.4 462.1L830.3 464.5L840.1 467L849.9 469.5L846.7 477.1L837 474.6L827.2 472.2L817.3 469.8L807.5 467.4ZM117.8 365.4L128.7 365.6L139.6 365.8L150.5 366.1L161.4 366.4L172.2 366.7L183.1 367.1L194 367.5L204.9 368L204.2 376L193.4 375.6L182.6 375.2L171.8 374.8L160.9 374.5L150.1 374.2L139.3 373.9L128.4 373.7L117.6 373.5ZM291.6 372.8L302.4 373.5L313.2 374.3L324 375.2L334.7 376L345.5 376.9L356.3 377.9L367 378.8L377.7 379.8L388.5 380.9L399.2 381.9L409.9 383L420.6 384.2L431.2 385.4L441.9 386.6L452.5 387.8L463.1 389.1L473.8 390.4L484.4 391.7L494.9 393.1L505.5 394.5L516.1 396L526.6 397.5L537.1 399L547.6 400.5L558.1 402.1L568.6 403.7L579 405.3L589.4 407L599.8 408.7L610.2 410.5L620.6 412.2L631 414.1L641.3 415.9L651.6 417.8L661.9 419.7L672.2 421.6L682.4 423.6L679.8 431.4L669.6 429.4L659.4 427.5L649.1 425.6L638.9 423.7L628.6 421.9L618.3 420.1L607.9 418.3L597.6 416.6L587.2 414.9L576.8 413.2L566.4 411.6L556 410L545.6 408.4L535.1 406.9L524.6 405.4L514.1 403.9L503.6 402.5L493.1 401.1L482.6 399.7L472 398.3L461.4 397L450.8 395.8L440.2 394.5L429.6 393.3L419 392.2L408.4 391L397.7 389.9L387.1 388.9L376.4 387.8L365.7 386.8L355 385.9L344.3 384.9L333.6 384.1L322.8 383.2L312.1 382.4L301.3 381.6L290.6 380.8ZM692.6 425.6L702.9 427.6L713 429.7L723.2 431.8L733.3 433.9L743.5 436.1L753.5 438.2L763.6 440.5L773.7 442.7L770.7 450.4L760.7 448.2L750.7 446L740.6 443.8L730.5 441.6L720.4 439.5L710.3 437.4L700.2 435.4L690 433.4ZM823.5 454.4L833.4 456.9L843.3 459.3L853.2 461.8L849.9 469.5L840.1 467L830.3 464.5L820.4 462.1ZM118.1 357.3L129 357.5L139.9 357.8L150.9 358L161.8 358.3L172.7 358.7L183.7 359.1L194.6 359.5L205.5 359.9L216.4 360.4L215.7 368.4L204.9 368L194 367.5L183.1 367.1L172.2 366.7L161.4 366.4L150.5 366.1L139.6 365.8L128.7 365.6L117.8 365.4ZM303.4 365.5L314.3 366.3L325.1 367.1L335.9 368L346.7 368.9L357.5 369.9L368.3 370.8L379.1 371.8L389.9 372.9L400.6 374L411.4 375.1L422.1 376.2L432.8 377.4L443.5 378.6L454.2 379.8L464.9 381.1L475.5 382.4L486.2 383.8L496.8 385.2L507.4 386.6L518 388L528.6 389.5L539.2 391L549.7 392.6L560.2 394.2L570.7 395.8L581.2 397.5L591.7 399.1L602.1 400.9L612.6 402.6L623 404.4L633.4 406.2L643.8 408.1L654.1 409.9L664.4 411.9L674.7 413.8L672.2 421.6L661.9 419.7L651.6 417.8L641.3 415.9L631 414.1L620.6 412.2L610.2 410.5L599.8 408.7L589.4 407L579 405.3L568.6 403.7L558.1 402.1L547.6 400.5L537.1 399L526.6 397.5L516.1 396L505.5 394.5L494.9 393.1L484.4 391.7L473.8 390.4L463.1 389.1L452.5 387.8L441.9 386.6L431.2 385.4L420.6 384.2L409.9 383L399.2 381.9L388.5 380.9L377.7 379.8L367 378.8L356.3 377.9L345.5 376.9L334.7 376L324 375.2L313.2 374.3L302.4 373.5ZM695.3 417.8L705.5 419.8L715.8 421.9L726 424L736.1 426.1L746.3 428.3L756.4 430.5L766.5 432.7L776.6 435L786.7 437.3L783.7 445L773.7 442.7L763.6 440.5L753.5 438.2L743.5 436.1L733.3 433.9L723.2 431.8L713 429.7L702.9 427.6L692.6 425.6ZM118.3 349.3L129.3 349.5L140.3 349.7L151.3 350L162.2 350.3L173.2 350.6L184.2 351L195.2 351.4L194.6 359.5L183.7 359.1L172.7 358.7L161.8 358.3L150.9 358L139.9 357.8L129 357.5L118.1 357.3ZM304.5 357.5L315.4 358.3L326.3 359.1L337.1 360L348 360.9L358.8 361.8L369.7 362.8L380.5 363.8L391.3 364.9L402.1 366L412.9 367.1L423.7 368.2L422.1 376.2L411.4 375.1L400.6 374L389.9 372.9L379.1 371.8L368.3 370.8L357.5 369.9L346.7 368.9L335.9 368L325.1 367.1L314.3 366.3L303.4 365.5ZM434.4 369.4L445.2 370.6L455.9 371.9L466.6 373.2L477.3 374.5L475.5 382.4L464.9 381.1L454.2 379.8L443.5 378.6L432.8 377.4ZM488 375.8L498.7 377.2L509.3 378.7L520 380.1L530.6 381.6L541.2 383.1L551.8 384.7L562.4 386.3L572.9 387.9L583.4 389.6L594 391.3L604.5 393L614.9 394.7L625.4 396.5L635.8 398.4L646.2 400.2L656.6 402.1L667 404L677.3 406L674.7 413.8L664.4 411.9L654.1 409.9L643.8 408.1L633.4 406.2L623 404.4L612.6 402.6L602.1 400.9L591.7 399.1L581.2 397.5L570.7 395.8L560.2 394.2L549.7 392.6L539.2 391L528.6 389.5L518 388L507.4 386.6L496.8 385.2L486.2 383.8ZM708.3 412L718.5 414.1L728.8 416.2L739 418.4L749.2 420.6L759.3 422.8L769.5 425L779.6 427.3L789.7 429.6L799.8 431.9L796.7 439.6L786.7 437.3L776.6 435L766.5 432.7L756.4 430.5L746.3 428.3L736.1 426.1L726 424L715.8 421.9L705.5 419.8ZM118.5 341.2L129.6 341.4L140.6 341.6L151.7 341.9L162.7 342.2L173.7 342.6L184.7 342.9L184.2 351L173.2 350.6L162.2 350.3L151.3 350L140.3 349.7L129.3 349.5L118.3 349.3ZM305.6 349.5L316.5 350.3L327.4 351.1L338.3 352L349.2 352.9L360.1 353.8L371 354.8L381.9 355.8L392.8 356.9L403.6 358L414.4 359.1L425.3 360.2L436.1 361.4L446.9 362.7L457.6 363.9L468.4 365.2L479.1 366.5L489.9 367.9L500.6 369.3L511.3 370.7L522 372.2L532.6 373.7L543.3 375.2L553.9 376.8L564.5 378.4L575.1 380L585.7 381.7L596.2 383.4L606.8 385.1L617.3 386.9L627.8 388.7L638.3 390.5L648.7 392.4L659.2 394.3L669.6 396.2L680 398.2L677.3 406L667 404L656.6 402.1L646.2 400.2L635.8 398.4L625.4 396.5L614.9 394.7L604.5 393L594 391.3L583.4 389.6L572.9 387.9L562.4 386.3L551.8 384.7L541.2 383.1L530.6 381.6L520 380.1L509.3 378.7L498.7 377.2L488 375.8L477.3 374.5L466.6 373.2L455.9 371.9L445.2 370.6L434.4 369.4L423.7 368.2L412.9 367.1L402.1 366L391.3 364.9L380.5 363.8L369.7 362.8L358.8 361.8L348 360.9L337.1 360L326.3 359.1L315.4 358.3L304.5 357.5ZM721.3 406.3L731.6 408.5L741.8 410.6L752.1 412.8L762.3 415L772.5 417.3L782.6 419.6L792.8 421.9L802.9 424.2L812.9 426.6L823 429L833 431.4L843 433.9L853 436.4L849.8 444.1L839.8 441.6L829.8 439.1L819.8 436.7L809.8 434.3L799.8 431.9L789.7 429.6L779.6 427.3L769.5 425L759.3 422.8L749.2 420.6L739 418.4L728.8 416.2L718.5 414.1ZM118.8 333.1L129.9 333.3L141 333.6L152.1 333.8L163.1 334.1L174.2 334.5L185.3 334.9L196.3 335.3L195.8 343.3L184.7 342.9L173.7 342.6L162.7 342.2L151.7 341.9L140.6 341.6L129.6 341.4L118.5 341.2ZM306.6 341.4L317.6 342.2L328.6 343.1L339.6 343.9L350.5 344.9L361.5 345.8L372.4 346.8L383.3 347.8L394.2 348.9L405.1 350L416 351.1L426.9 352.3L437.7 353.4L448.5 354.7L459.4 355.9L470.2 357.2L481 358.6L491.7 359.9L502.5 361.3L513.2 362.8L524 364.3L534.7 365.8L545.4 367.3L556 368.9L566.7 370.5L577.3 372.1L588 373.8L598.6 375.5L609.1 377.2L619.7 379L630.2 380.8L640.7 382.7L651.2 384.5L661.7 386.4L659.2 394.3L648.7 392.4L638.3 390.5L627.8 388.7L617.3 386.9L606.8 385.1L596.2 383.4L585.7 381.7L575.1 380L564.5 378.4L553.9 376.8L543.3 375.2L532.6 373.7L522 372.2L511.3 370.7L500.6 369.3L489.9 367.9L479.1 366.5L468.4 365.2L457.6 363.9L446.9 362.7L436.1 361.4L425.3 360.2L414.4 359.1L403.6 358L392.8 356.9L381.9 355.8L371 354.8L360.1 353.8L349.2 352.9L338.3 352L327.4 351.1L316.5 350.3L305.6 349.5ZM734.4 400.7L744.7 402.9L755 405.1L765.2 407.3L762.3 415L752.1 412.8L741.8 410.6L731.6 408.5ZM775.5 409.6L785.6 411.9L795.8 414.2L806 416.5L816.1 418.9L826.2 421.3L836.3 423.8L846.3 426.3L843 433.9L833 431.4L823 429L812.9 426.6L802.9 424.2L792.8 421.9L782.6 419.6L772.5 417.3ZM130.2 325.2L141.3 325.5L152.5 325.8L163.6 326.1L174.7 326.4L185.8 326.8L196.9 327.2L196.3 335.3L185.3 334.9L174.2 334.5L163.1 334.1L152.1 333.8L141 333.6L129.9 333.3ZM296.7 332.6L307.7 333.4L318.8 334.2L329.8 335L340.8 335.9L351.8 336.8L362.8 337.8L373.8 338.8L384.7 339.8L395.7 340.9L406.6 342L417.5 343.1L428.5 344.3L439.4 345.5L450.2 346.7L461.1 348L472 349.3L482.8 350.6L493.6 352L504.4 353.4L515.2 354.8L526 356.3L536.7 357.8L547.5 359.4L558.2 361L568.9 362.6L579.6 364.2L590.2 365.9L600.9 367.6L611.5 369.4L622.1 371.2L632.7 373L643.2 374.8L653.8 376.7L664.3 378.6L661.7 386.4L651.2 384.5L640.7 382.7L630.2 380.8L619.7 379L609.1 377.2L598.6 375.5L588 373.8L577.3 372.1L566.7 370.5L556 368.9L545.4 367.3L534.7 365.8L524 364.3L513.2 362.8L502.5 361.3L491.7 359.9L481 358.6L470.2 357.2L459.4 355.9L448.5 354.7L437.7 353.4L426.9 352.3L416 351.1L405.1 350L394.2 348.9L383.3 347.8L372.4 346.8L361.5 345.8L350.5 344.9L339.6 343.9L328.6 343.1L317.6 342.2L306.6 341.4L295.6 340.6ZM747.6 395.1L757.9 397.3L768.2 399.6L765.2 407.3L755 405.1L744.7 402.9ZM788.7 404.1L798.9 406.5L795.8 414.2L785.6 411.9ZM819.3 411.2L829.4 413.7L839.5 416.1L849.6 418.6L846.3 426.3L836.3 423.8L826.2 421.3L816.1 418.9ZM152.9 317.7L164 318L175.2 318.3L186.4 318.7L197.5 319.1L196.9 327.2L185.8 326.8L174.7 326.4L163.6 326.1L152.5 325.8ZM308.8 325.3L319.9 326.2L331 327L342 327.9L353.1 328.8L364.1 329.8L375.1 330.8L386.2 331.8L397.2 332.9L408.1 334L419.1 335.1L430.1 336.3L441 337.5L452 338.7L462.9 340L473.8 341.3L472 349.3L461.1 348L450.2 346.7L439.4 345.5L428.5 344.3L417.5 343.1L406.6 342L395.7 340.9L384.7 339.8L373.8 338.8L362.8 337.8L351.8 336.8L340.8 335.9L329.8 335L318.8 334.2L307.7 333.4ZM506.4 345.5L517.2 346.9L528 348.4L538.8 349.9L549.6 351.5L560.4 353.1L571.1 354.7L581.8 356.3L592.5 358L603.2 359.7L613.9 361.5L624.5 363.3L635.2 365.1L645.8 367L656.3 368.9L666.9 370.8L677.4 372.7L674.8 380.6L664.3 378.6L653.8 376.7L643.2 374.8L632.7 373L622.1 371.2L611.5 369.4L600.9 367.6L590.2 365.9L579.6 364.2L568.9 362.6L558.2 361L547.5 359.4L536.7 357.8L526 356.3L515.2 354.8L504.4 353.4ZM750.5 387.4L760.9 389.6L771.2 391.8L768.2 399.6L757.9 397.3L747.6 395.1ZM822.5 403.5L832.6 406L842.8 408.5L852.9 411L849.6 418.6L839.5 416.1L829.4 413.7L819.3 411.2ZM309.9 317.3L321.1 318.1L332.2 319L343.3 319.9L354.4 320.8L365.5 321.8L376.5 322.8L387.6 323.8L398.7 324.9L409.7 326L420.7 327.1L431.7 328.3L442.7 329.5L453.7 330.8L464.7 332L475.6 333.4L486.5 334.7L484.7 342.7L473.8 341.3L462.9 340L452 338.7L441 337.5L430.1 336.3L419.1 335.1L408.1 334L397.2 332.9L386.2 331.8L375.1 330.8L364.1 329.8L353.1 328.8L342 327.9L331 327L319.9 326.2L308.8 325.3ZM508.3 337.5L519.2 339L530.1 340.5L540.9 342L551.8 343.5L562.6 345.1L573.3 346.8L584.1 348.4L594.9 350.1L605.6 351.9L616.3 353.6L627 355.4L637.7 357.3L648.3 359.1L658.9 361L669.5 363L680.1 364.9L677.4 372.7L666.9 370.8L656.3 368.9L645.8 367L635.2 365.1L624.5 363.3L613.9 361.5L603.2 359.7L592.5 358L581.8 356.3L571.1 354.7L560.4 353.1L549.6 351.5L538.8 349.9L528 348.4L517.2 346.9L506.4 345.5ZM311 309.3L322.2 310.1L333.4 310.9L344.6 311.8L355.7 312.8L366.8 313.7L378 314.7L389.1 315.8L400.2 316.9L398.7 324.9L387.6 323.8L376.5 322.8L365.5 321.8L354.4 320.8L343.3 319.9L332.2 319L321.1 318.1L309.9 317.3ZM411.2 318L422.3 319.1L433.4 320.3L444.4 321.5L455.4 322.8L466.4 324.1L477.4 325.4L488.4 326.7L499.4 328.1L497.4 336.1L486.5 334.7L475.6 333.4L464.7 332L453.7 330.8L442.7 329.5L431.7 328.3L420.7 327.1L409.7 326ZM510.3 329.6L521.2 331L532.2 332.5L543 334.1L553.9 335.6L564.8 337.2L575.6 338.9L586.4 340.5L597.2 342.2L608 344L618.7 345.8L629.5 347.6L640.2 349.4L650.9 351.3L661.5 353.2L672.2 355.1L682.8 357.1L680.1 364.9L669.5 363L658.9 361L648.3 359.1L637.7 357.3L627 355.4L616.3 353.6L605.6 351.9L594.9 350.1L584.1 348.4L573.3 346.8L562.6 345.1L551.8 343.5L540.9 342L530.1 340.5L519.2 339L508.3 337.5ZM323.4 302L334.6 302.9L345.8 303.8L357 304.7L368.2 305.7L379.4 306.7L390.5 307.8L401.7 308.9L400.2 316.9L389.1 315.8L378 314.7L366.8 313.7L355.7 312.8L344.6 311.8L333.4 310.9L322.2 310.1ZM446.1 313.5L457.2 314.8L468.3 316.1L479.3 317.4L490.3 318.8L488.4 326.7L477.4 325.4L466.4 324.1L455.4 322.8L444.4 321.5ZM523.3 323.1L534.2 324.6L545.2 326.1L556.1 327.7L567 329.3L577.9 331L588.7 332.6L599.6 334.4L610.4 336.1L621.2 337.9L632 339.7L642.7 341.5L653.4 343.4L664.2 345.3L674.8 347.3L672.2 355.1L661.5 353.2L650.9 351.3L640.2 349.4L629.5 347.6L618.7 345.8L608 344L597.2 342.2L586.4 340.5L575.6 338.9L564.8 337.2L553.9 335.6L543 334.1L532.2 332.5L521.2 331ZM335.9 294.9L347.1 295.8L358.4 296.7L369.6 297.7L380.8 298.7L392 299.8L403.2 300.9L401.7 308.9L390.5 307.8L379.4 306.7L368.2 305.7L357 304.7L345.8 303.8L334.6 302.9ZM436.7 304.3L447.9 305.6L459 306.8L470.1 308.1L481.2 309.5L492.2 310.8L490.3 318.8L479.3 317.4L468.3 316.1L457.2 314.8L446.1 313.5L435 312.3ZM525.4 315.1L536.4 316.7L547.3 318.2L558.3 319.8L569.2 321.4L580.2 323.1L591.1 324.7L602 326.5L612.8 328.2L623.7 330L634.5 331.8L645.3 333.7L656.1 335.6L666.8 337.5L677.5 339.5L674.8 347.3L664.2 345.3L653.4 343.4L642.7 341.5L632 339.7L621.2 337.9L610.4 336.1L599.6 334.4L588.7 332.6L577.9 331L567 329.3L556.1 327.7L545.2 326.1L534.2 324.6L523.3 323.1ZM337.1 286.8L348.4 287.8L359.7 288.7L371 289.7L382.3 290.7L393.5 291.8L404.8 292.8L416 294L414.4 302L403.2 300.9L392 299.8L380.8 298.7L369.6 297.7L358.4 296.7L347.1 295.8L335.9 294.9ZM527.4 307.2L538.5 308.7L536.4 316.7L525.4 315.1ZM593.4 316.8L604.4 318.6L615.3 320.3L626.2 322.1L637 324L647.9 325.8L658.7 327.7L669.5 329.7L680.3 331.6L691 333.6L701.7 335.7L712.4 337.7L709.6 345.5L698.9 343.5L688.2 341.5L677.5 339.5L666.8 337.5L656.1 335.6L645.3 333.7L634.5 331.8L623.7 330L612.8 328.2L602 326.5L591.1 324.7ZM349.7 279.7L361.1 280.7L372.4 281.7L383.7 282.7L395 283.7L406.3 284.8L417.6 286L416 294L404.8 292.8L393.5 291.8L382.3 290.7L371 289.7L359.7 288.7L348.4 287.8ZM595.8 309L606.8 310.7L617.7 312.5L628.7 314.3L639.6 316.1L650.5 318L647.9 325.8L637 324L626.2 322.1L615.3 320.3L604.4 318.6L593.4 316.8ZM661.3 319.9L672.2 321.8L683 323.8L693.8 325.8L704.6 327.9L715.3 329.9L712.4 337.7L701.7 335.7L691 333.6L680.3 331.6L669.5 329.7L658.7 327.7ZM339.6 270.8L351 271.7L362.4 272.6L373.8 273.6L385.2 274.7L396.6 275.7L395 283.7L383.7 282.7L372.4 281.7L361.1 280.7L349.7 279.7L338.4 278.8ZM542.8 292.9L553.9 294.4L551.7 302.4L540.6 300.8ZM587.2 299.3L598.2 301.1L609.2 302.8L620.2 304.6L631.2 306.4L642.2 308.2L653.1 310.1L650.5 318L639.6 316.1L628.7 314.3L617.7 312.5L606.8 310.7L595.8 309L584.8 307.2ZM664 312L674.9 314L685.8 316L696.6 318L707.4 320.1L704.6 327.9L693.8 325.8L683 323.8L672.2 321.8L661.3 319.9ZM340.9 262.7L352.4 263.7L363.8 264.6L375.3 265.6L386.7 266.7L385.2 274.7L373.8 273.6L362.4 272.6L351 271.7L339.6 270.8ZM545 284.9L556.2 286.5L553.9 294.4L542.8 292.9ZM578.4 289.8L589.6 291.4L600.6 293.2L611.7 294.9L622.8 296.7L633.8 298.5L644.8 300.4L642.2 308.2L631.2 306.4L620.2 304.6L609.2 302.8L598.2 301.1L587.2 299.3L576.1 297.7ZM677.6 306.2L688.5 308.2L699.4 310.2L696.6 318L685.8 316L674.9 314ZM342.2 254.7L353.7 255.6L352.4 263.7L340.9 262.7ZM365.2 256.6L376.7 257.6L375.3 265.6L363.8 264.6ZM558.4 278.6L569.6 280.2L580.8 281.9L592 283.5L603.1 285.3L614.2 287L625.3 288.8L636.4 290.7L647.4 292.5L644.8 300.4L633.8 298.5L622.8 296.7L611.7 294.9L600.6 293.2L589.6 291.4L578.4 289.8L567.3 288.1L556.2 286.5ZM308.8 244.1L320.4 244.9L331.9 245.8L330.7 253.8L319.2 253L307.6 252.2ZM343.5 246.7L355.1 247.6L366.6 248.6L378.2 249.6L389.7 250.6L401.2 251.7L399.7 259.7L388.2 258.6L376.7 257.6L365.2 256.6L353.7 255.6L342.2 254.7ZM571.9 272.3L583.2 273.9L594.4 275.6L592 283.5L580.8 281.9L569.6 280.2ZM616.7 279.1L627.9 280.9L639 282.8L650.1 284.7L647.4 292.5L636.4 290.7L625.3 288.8L614.2 287ZM286.6 234.5L298.2 235.3L297.1 243.3L285.5 242.6ZM309.9 236.1L321.6 236.9L333.2 237.7L344.8 238.6L356.5 239.6L368.1 240.6L379.7 241.6L391.2 242.6L389.7 250.6L378.2 249.6L366.6 248.6L355.1 247.6L343.5 246.7L331.9 245.8L320.4 244.9L308.8 244.1ZM596.8 267.7L608 269.5L605.6 277.4L594.4 275.6ZM217 222.8L228.8 223.3L228 231.4L216.3 230.9ZM275.9 225.8L287.6 226.5L299.4 227.2L311.1 228L322.8 228.9L334.5 229.7L346.2 230.6L357.8 231.6L369.5 232.5L381.2 233.5L392.8 234.6L391.2 242.6L379.7 241.6L368.1 240.6L356.5 239.6L344.8 238.6L333.2 237.7L321.6 236.9L309.9 236.1L298.2 235.3L286.6 234.5L274.9 233.8ZM404.4 235.7L416 236.8L427.6 238L425.9 246L414.4 244.8L402.8 243.7ZM496.8 245.7L508.3 247.2L506.2 255.1L494.8 253.7ZM599.3 259.8L610.6 261.6L621.8 263.4L619.3 271.3L608 269.5L596.8 267.7ZM217.8 214.7L229.6 215.2L241.4 215.8L240.6 223.9L228.8 223.3L217 222.8ZM288.7 218.4L300.5 219.2L312.3 220L324 220.8L335.8 221.7L347.5 222.6L359.2 223.5L371 224.5L382.7 225.5L394.4 226.6L406 227.7L417.7 228.8L429.3 230L427.6 238L416 236.8L404.4 235.7L392.8 234.6L381.2 233.5L369.5 232.5L357.8 231.6L346.2 230.6L334.5 229.7L322.8 228.9L311.1 228L299.4 227.2L287.6 226.5ZM441 231.2L452.6 232.4L464.2 233.7L462.3 241.7L450.7 240.4L439.2 239.2ZM498.8 237.8L510.3 239.2L508.3 247.2L496.8 245.7ZM521.8 240.7L533.3 242.2L544.8 243.7L556.2 245.3L553.9 253.2L542.5 251.6L531.1 250.1L519.7 248.6ZM601.8 251.9L613.1 253.7L624.4 255.5L621.8 263.4L610.6 261.6L599.3 259.8ZM182.8 205.3L194.7 205.7L194.1 213.8L182.2 213.4ZM206.6 206.2L218.5 206.7L230.4 207.2L242.3 207.7L254.2 208.4L253.3 216.4L241.4 215.8L229.6 215.2L217.8 214.7L205.9 214.2ZM289.8 210.4L301.6 211.1L313.5 211.9L325.3 212.8L337.1 213.6L348.9 214.6L360.7 215.5L372.4 216.5L384.2 217.5L395.9 218.6L407.7 219.7L419.4 220.8L431.1 222L429.3 230L417.7 228.8L406 227.7L394.4 226.6L382.7 225.5L371 224.5L359.2 223.5L347.5 222.6L335.8 221.7L324 220.8L312.3 220L300.5 219.2L288.7 218.4ZM442.7 223.2L454.4 224.4L466 225.7L464.2 233.7L452.6 232.4L441 231.2ZM512.4 231.2L524 232.7L535.5 234.2L547 235.8L558.5 237.4L570 239L567.6 246.9L556.2 245.3L544.8 243.7L533.3 242.2L521.8 240.7L510.3 239.2ZM604.3 244.1L615.6 245.8L627 247.6L624.4 255.5L613.1 253.7L601.8 251.9ZM135.4 196L147.4 196.2L159.4 196.5L171.4 196.9L183.4 197.2L195.3 197.7L207.3 198.1L219.3 198.6L231.2 199.1L243.2 199.7L255.1 200.3L267 200.9L279 201.6L290.9 202.3L302.8 203.1L314.7 203.9L326.5 204.7L338.4 205.6L350.2 206.5L362.1 207.5L373.9 208.5L385.7 209.5L397.5 210.6L409.3 211.7L421.1 212.8L419.4 220.8L407.7 219.7L395.9 218.6L384.2 217.5L372.4 216.5L360.7 215.5L348.9 214.6L337.1 213.6L325.3 212.8L313.5 211.9L301.6 211.1L289.8 210.4L277.9 209.7L266.1 209L254.2 208.4L242.3 207.7L230.4 207.2L218.5 206.7L206.6 206.2L194.7 205.7L182.8 205.3L170.9 204.9L158.9 204.6L147 204.3L135.1 204.1ZM444.5 215.2L456.3 216.5L468 217.8L479.6 219.1L477.7 227.1L466 225.7L454.4 224.4L442.7 223.2ZM583.9 232.7L595.3 234.4L592.9 242.3L581.4 240.6ZM606.8 236.2L618.2 237.9L629.6 239.7L641 241.6L638.3 249.5L627 247.6L615.6 245.8L604.3 244.1ZM147.8 188.2L159.9 188.5L171.9 188.8L184 189.2L196 189.6L208 190L220 190.5L232 191.1L244 191.6L256 192.2L268 192.9L280 193.6L292 194.3L303.9 195.1L315.9 195.9L327.8 196.7L339.7 197.6L351.6 198.5L363.5 199.5L375.4 200.5L387.3 201.5L399.1 202.6L411 203.7L422.8 204.8L421.1 212.8L409.3 211.7L397.5 210.6L385.7 209.5L373.9 208.5L362.1 207.5L350.2 206.5L338.4 205.6L326.5 204.7L314.7 203.9L302.8 203.1L290.9 202.3L279 201.6L267 200.9L255.1 200.3L243.2 199.7L231.2 199.1L219.3 198.6L207.3 198.1L195.3 197.7L183.4 197.2L171.4 196.9L159.4 196.5L147.4 196.2ZM446.4 207.2L458.1 208.5L469.9 209.8L481.6 211.1L479.6 219.1L468 217.8L456.3 216.5L444.5 215.2ZM563.2 221.5L574.8 223.2L572.4 231.1L560.9 229.4ZM586.3 224.8L597.9 226.5L595.3 234.4L583.9 232.7ZM609.4 228.3L620.8 230.1L632.3 231.9L643.7 233.7L641 241.6L629.6 239.7L618.2 237.9L606.8 236.2ZM148.2 180.1L160.3 180.4L172.4 180.7L184.5 181.1L196.6 181.5L208.7 182L220.8 182.5L232.9 183L244.9 183.6L257 184.2L269 184.8L281.1 185.5L293.1 186.3L305.1 187L317.1 187.8L329.1 188.7L341.1 189.6L353 190.5L365 191.4L376.9 192.4L388.8 193.5L400.7 194.6L412.6 195.7L424.5 196.8L436.4 198L434.6 206L422.8 204.8L411 203.7L399.1 202.6L387.3 201.5L375.4 200.5L363.5 199.5L351.6 198.5L339.7 197.6L327.8 196.7L315.9 195.9L303.9 195.1L292 194.3L280 193.6L268 192.9L256 192.2L244 191.6L232 191.1L220 190.5L208 190L196 189.6L184 189.2L171.9 188.8L159.9 188.5L147.8 188.2ZM448.2 199.2L460 200.5L471.8 201.8L483.6 203.2L481.6 211.1L469.9 209.8L458.1 208.5L446.4 207.2ZM530.6 208.9L542.3 210.4L540 218.4L528.4 216.8ZM565.6 213.6L577.2 215.2L574.8 223.2L563.2 221.5ZM600.4 218.6L611.9 220.4L623.5 222.2L635 224L646.4 225.9L643.7 233.7L632.3 231.9L620.8 230.1L609.4 228.3L597.9 226.5ZM160.8 172.3L173 172.7L185.1 173L197.3 173.5L209.4 173.9L221.6 174.4L233.7 174.9L245.8 175.5L257.9 176.1L270 176.8L282.1 177.5L294.2 178.2L306.3 179L318.3 179.8L330.4 180.6L342.4 181.5L354.4 182.5L366.4 183.4L378.4 184.4L390.4 185.5L402.4 186.5L414.3 187.7L426.3 188.8L438.2 190L436.4 198L424.5 196.8L412.6 195.7L400.7 194.6L388.8 193.5L376.9 192.4L365 191.4L353 190.5L341.1 189.6L329.1 188.7L317.1 187.8L305.1 187L293.1 186.3L281.1 185.5L269 184.8L257 184.2L244.9 183.6L232.9 183L220.8 182.5L208.7 182L196.6 181.5L184.5 181.1L172.4 180.7L160.3 180.4ZM461.9 192.5L473.8 193.8L485.7 195.2L483.6 203.2L471.8 201.8L460 200.5ZM556.3 204.1L568 205.7L565.6 213.6L553.9 212ZM602.9 210.7L614.5 212.5L611.9 220.4L600.4 218.6ZM331.7 172.6L343.8 173.5L355.9 174.4L367.9 175.4L380 176.4L392 177.5L404 178.5L416 179.7L428 180.8L440 182L438.2 190L426.3 188.8L414.3 187.7L402.4 186.5L390.4 185.5L378.4 184.4L366.4 183.4L354.4 182.5L342.4 181.5L330.4 180.6ZM429.8 172.8L441.8 174.1L440 182L428 180.8Z"/>
<path fill="#F5A640" d="M684.4 895.1L692.6 897L700.7 898.9L698.6 906.2L690.5 904.3L682.3 902.4ZM678.3 885.8L686.5 887.7L684.4 895.1L676.2 893.2ZM694.7 889.6L702.8 891.5L700.7 898.9L692.6 897ZM680.4 878.4L688.6 880.3L696.8 882.2L705 884.1L702.8 891.5L694.7 889.6L686.5 887.7L678.3 885.8ZM115.8 802L124.6 802.2L133.4 802.4L133.1 810.1L124.4 809.9L115.6 809.7ZM674.2 869.1L682.5 871L690.7 872.9L698.9 874.8L696.8 882.2L688.6 880.3L680.4 878.4L672.1 876.5ZM788.5 897.5L796.5 899.7L794.1 907L786.1 904.8ZM133.6 794.7L142.4 794.9L142.2 802.6L133.4 802.4ZM676.3 861.7L684.6 863.6L692.8 865.5L701.1 867.4L709.3 869.4L717.6 871.3L725.8 873.3L723.5 880.7L715.4 878.7L707.2 876.7L698.9 874.8L690.7 872.9L682.5 871L674.2 869.1ZM790.9 890.2L799 892.4L796.5 899.7L788.5 897.5ZM133.9 786.9L142.7 787.1L142.4 794.9L133.6 794.7ZM678.4 854.2L686.7 856.1L695 858L703.3 860L711.5 862L709.3 869.4L701.1 867.4L692.8 865.5L684.6 863.6L676.3 861.7ZM719.8 863.9L728 866L725.8 873.3L717.6 871.3ZM793.4 882.9L801.5 885.1L799 892.4L790.9 890.2ZM134.1 779.1L143 779.4L142.7 787.1L133.9 786.9ZM240.4 783.8L249.2 784.4L258.1 785L266.9 785.6L275.7 786.3L284.5 786.9L283.7 794.7L274.9 794L266.2 793.3L257.4 792.7L248.6 792.1L239.8 791.6ZM688.8 848.7L697.2 850.6L705.5 852.6L713.7 854.5L711.5 862L703.3 860L695 858L686.7 856.1ZM722 856.5L730.3 858.6L728 866L719.8 863.9ZM771.4 869L779.5 871.2L787.7 873.4L795.8 875.6L793.4 882.9L785.3 880.7L777.1 878.5L769 876.4ZM161.1 772.2L170 772.5L178.9 772.8L187.8 773.2L196.7 773.6L205.5 774.1L214.4 774.5L223.3 775L232.2 775.5L241 776.1L240.4 783.8L231.6 783.3L222.7 782.8L213.9 782.3L205 781.8L196.2 781.4L187.3 781L178.5 780.6L169.6 780.3L160.7 779.9ZM285.3 779.2L294.1 779.9L293.3 787.6L284.5 786.9ZM691 841.3L699.3 843.2L707.7 845.1L716 847.1L724.3 849.1L732.6 851.2L730.3 858.6L722 856.5L713.7 854.5L705.5 852.6L697.2 850.6L688.8 848.7ZM782 863.8L790.1 866L787.7 873.4L779.5 871.2ZM295 772.2L303.8 772.9L303 780.6L294.1 779.9ZM348 777L356.9 777.9L355.8 785.6L347 784.7ZM693.1 833.8L701.5 835.7L709.9 837.7L718.2 839.7L726.5 841.7L724.3 849.1L716 847.1L707.7 845.1L699.3 843.2L691 841.3ZM734.9 843.8L743.2 845.8L740.8 853.2L732.6 851.2ZM784.4 856.5L792.6 858.7L790.1 866L782 863.8ZM322.5 766.7L331.3 767.6L340.2 768.4L349.1 769.3L357.9 770.2L366.8 771.1L375.6 772.1L384.4 773.1L383.3 780.8L374.5 779.8L365.7 778.9L356.9 777.9L348 777L339.2 776.1L330.4 775.3L321.5 774.5ZM695.3 826.3L703.7 828.3L712.1 830.3L709.9 837.7L701.5 835.7L693.1 833.8ZM720.5 832.3L728.8 834.3L726.5 841.7L718.2 839.7ZM737.2 836.4L745.5 838.4L743.2 845.8L734.9 843.8ZM786.9 849.1L795.1 851.4L792.6 858.7L784.4 856.5ZM350.1 761.6L359 762.5L367.8 763.4L376.7 764.4L385.6 765.4L384.4 773.1L375.6 772.1L366.8 771.1L357.9 770.2L349.1 769.3ZM697.5 818.9L705.9 820.8L714.4 822.8L722.7 824.8L720.5 832.3L712.1 830.3L703.7 828.3L695.3 826.3ZM324.3 751.3L333.3 752.1L342.2 752.9L351.1 753.8L360 754.8L368.9 755.7L377.8 756.7L386.7 757.7L385.6 765.4L376.7 764.4L367.8 763.4L359 762.5L350.1 761.6L341.2 760.7L332.3 759.8L323.4 759ZM448.7 765.4L457.6 766.6L466.4 767.9L475.2 769.2L473.7 776.8L464.9 775.6L456.1 774.3L447.4 773.1ZM674.3 805.7L682.8 807.5L680.6 815L672.1 813.1ZM699.7 811.4L708.2 813.4L716.6 815.4L725 817.4L733.4 819.4L731.1 826.9L722.7 824.8L714.4 822.8L705.9 820.8L697.5 818.9ZM750.2 823.6L758.6 825.7L756.2 833.1L747.8 831ZM226.2 736.1L235.3 736.7L234.6 744.5L225.6 743.9ZM334.3 744.3L343.2 745.2L352.2 746.1L361.1 747L370.1 748L379 748.9L377.8 756.7L368.9 755.7L360 754.8L351.1 753.8L342.2 752.9L333.3 752.1ZM441.3 756.5L450.1 757.7L448.7 765.4L439.9 764.2ZM494.3 764.1L503.1 765.5L501.5 773.1L492.7 771.8ZM701.9 803.9L710.4 805.9L718.9 807.9L727.3 809.9L735.8 812L744.2 814.1L741.8 821.5L733.4 819.4L725 817.4L716.6 815.4L708.2 813.4L699.7 811.4ZM217.8 727.8L226.8 728.3L235.9 728.9L244.9 729.4L254 730L253.3 737.8L244.3 737.2L235.3 736.7L226.2 736.1L217.2 735.6ZM335.2 736.6L344.2 737.4L353.2 738.3L362.2 739.3L371.2 740.2L380.1 741.2L379 748.9L370.1 748L361.1 747L352.2 746.1L343.2 745.2L334.3 744.3ZM442.6 748.8L451.5 750L450.1 757.7L441.3 756.5ZM504.6 757.8L513.5 759.2L511.8 766.9L503.1 765.5ZM687.1 792.5L695.7 794.5L704.2 796.4L712.7 798.4L721.2 800.4L729.7 802.5L738.1 804.5L746.6 806.6L744.2 814.1L735.8 812L727.3 809.9L718.9 807.9L710.4 805.9L701.9 803.9L693.4 802L684.9 800ZM763.4 810.9L771.8 813L769.3 820.5L761 818.3ZM209.2 719.5L218.3 720L227.4 720.5L236.5 721.1L245.6 721.6L244.9 729.4L235.9 728.9L226.8 728.3L217.8 727.8L208.7 727.4ZM336.2 728.8L345.3 729.7L354.3 730.6L363.3 731.5L372.3 732.5L381.3 733.4L390.3 734.5L389.1 742.2L380.1 741.2L371.2 740.2L362.2 739.3L353.2 738.3L344.2 737.4L335.2 736.6ZM515.1 751.5L523.9 753L522.3 760.6L513.5 759.2ZM689.3 785L697.9 787L706.4 789L715 790.9L723.5 793L732 795L729.7 802.5L721.2 800.4L712.7 798.4L704.2 796.4L695.7 794.5L687.1 792.5ZM740.5 797.1L748.9 799.2L746.6 806.6L738.1 804.5ZM765.8 803.5L774.3 805.6L771.8 813L763.4 810.9ZM337.2 721L346.3 721.9L355.3 722.8L364.4 723.7L373.4 724.7L382.4 725.7L391.5 726.7L390.3 734.5L381.3 733.4L372.3 732.5L363.3 731.5L354.3 730.6L345.3 729.7L336.2 728.8ZM427.4 731.1L436.4 732.2L435.1 739.9L426.1 738.8ZM700.1 779.5L708.7 781.5L717.3 783.5L725.8 785.5L734.3 787.5L732 795L723.5 793L715 790.9L706.4 789L697.9 787ZM356.4 715L365.5 716L374.6 716.9L383.6 717.9L392.7 718.9L391.5 726.7L382.4 725.7L373.4 724.7L364.4 723.7L355.3 722.8ZM473.7 729.4L482.7 730.7L491.6 732L500.5 733.4L498.9 741.1L490 739.7L481.1 738.4L472.2 737.1ZM702.4 772L711 773.9L719.6 776L728.1 778L736.7 780.1L734.3 787.5L725.8 785.5L717.3 783.5L708.7 781.5L700.1 779.5ZM366.6 708.2L375.7 709.1L384.8 710.1L393.9 711.2L392.7 718.9L383.6 717.9L374.6 716.9L365.5 716ZM475.2 721.7L484.2 723L493.2 724.3L491.6 732L482.7 730.7L473.7 729.4ZM713.3 766.4L721.9 768.5L730.5 770.5L739.1 772.6L747.7 774.7L756.2 776.8L764.7 779L762.3 786.4L753.8 784.3L745.2 782.2L736.7 780.1L728.1 778L719.6 776L711 773.9ZM807.1 790.1L815.6 792.4L813 799.8L804.6 797.5ZM294.4 693.6L303.6 694.4L312.8 695.1L321.9 695.9L321 703.8L311.8 703L302.7 702.2L293.5 701.4ZM331.1 696.8L340.3 697.6L339.3 705.4L330.1 704.6ZM715.6 758.9L724.2 760.9L732.9 763L741.5 765.1L750.1 767.2L758.7 769.3L767.2 771.5L775.8 773.7L784.3 775.9L781.8 783.3L773.3 781.1L764.7 779L756.2 776.8L747.7 774.7L739.1 772.6L730.5 770.5L721.9 768.5L713.3 766.4ZM801.3 780.4L809.8 782.7L818.2 785L815.6 792.4L807.1 790.1L798.7 787.8ZM304.5 686.5L313.7 687.3L322.9 688.1L332.1 689L341.3 689.8L350.5 690.7L349.4 698.5L340.3 697.6L331.1 696.8L321.9 695.9L312.8 695.1L303.6 694.4ZM359.7 691.6L368.9 692.6L367.7 700.4L358.6 699.4ZM378 693.6L387.2 694.6L386 702.4L376.9 701.4ZM487.3 707.5L496.3 708.9L494.7 716.6L485.7 715.3ZM717.9 751.4L726.6 753.4L735.3 755.5L743.9 757.6L752.5 759.7L761.1 761.9L769.7 764L778.3 766.2L786.8 768.4L784.3 775.9L775.8 773.7L767.2 771.5L758.7 769.3L750.1 767.2L741.5 765.1L732.9 763L724.2 760.9L715.6 758.9ZM812.4 775.3L820.9 777.6L818.2 785L809.8 782.7ZM360.8 683.8L370 684.8L368.9 692.6L359.7 691.6ZM488.8 699.8L497.9 701.2L496.3 708.9L487.3 707.5ZM729 745.9L737.7 748L746.3 750.1L755 752.2L763.6 754.4L772.2 756.6L780.8 758.8L789.4 761L786.8 768.4L778.3 766.2L769.7 764L761.1 761.9L752.5 759.7L743.9 757.6L735.3 755.5L726.6 753.4ZM156.9 662.3L166.3 662.6L165.9 670.5L156.6 670.2ZM731.4 738.4L740.1 740.5L748.8 742.6L757.5 744.7L766.1 746.9L774.8 749.1L772.2 756.6L763.6 754.4L755 752.2L746.3 750.1L737.7 748L729 745.9ZM464.5 680.4L473.7 681.7L482.9 683L492 684.3L490.4 692.1L481.3 690.7L472.2 689.4L463.1 688.2ZM636.6 709.5L645.5 711.3L654.4 713.1L663.3 715L661.1 722.6L652.2 720.8L643.4 718.9L634.5 717.1ZM733.8 730.8L742.5 732.9L751.3 735.1L760 737.2L768.6 739.4L777.3 741.6L774.8 749.1L766.1 746.9L757.5 744.7L748.8 742.6L740.1 740.5L731.4 738.4ZM466 672.6L475.2 673.9L484.4 675.2L493.6 676.6L502.8 677.9L501.1 685.7L492 684.3L482.9 683L473.7 681.7L464.5 680.4ZM629.7 700.1L638.7 701.9L647.6 703.7L656.6 705.5L654.4 713.1L645.5 711.3L636.6 709.5L627.6 707.7ZM718.6 719.2L727.4 721.2L736.2 723.3L745 725.4L753.7 727.5L762.5 729.7L771.2 731.9L779.9 734.1L788.6 736.3L786 743.8L777.3 741.6L768.6 739.4L760 737.2L751.3 735.1L742.5 732.9L733.8 730.8L725 728.8L716.3 726.7ZM467.6 664.8L476.8 666.1L486 667.5L484.4 675.2L475.2 673.9L466 672.6ZM522.8 673L531.9 674.5L541.1 676L550.2 677.5L548.4 685.2L539.3 683.7L530.2 682.2L521.1 680.8ZM631.8 692.4L640.8 694.2L649.8 696.1L647.6 703.7L638.7 701.9L629.7 700.1ZM694.4 705.6L703.3 707.6L712.2 709.6L721 711.6L729.8 713.7L738.7 715.8L747.5 717.9L756.2 720L765 722.2L773.7 724.4L782.5 726.6L791.2 728.8L799.9 731.1L797.2 738.6L788.6 736.3L779.9 734.1L771.2 731.9L762.5 729.7L753.7 727.5L745 725.4L736.2 723.3L727.4 721.2L718.6 719.2L709.8 717.1L701 715.1L692.1 713.2ZM469.1 657.1L478.3 658.4L487.6 659.7L486 667.5L476.8 666.1L467.6 664.8ZM524.5 665.3L533.7 666.8L542.9 668.2L552 669.8L561.2 671.3L570.3 672.9L579.5 674.5L577.5 682.2L568.4 680.6L559.3 679.1L550.2 677.5L541.1 676L531.9 674.5L522.8 673ZM615.8 681.2L624.9 683L622.8 690.7L613.8 688.9ZM714.5 702L723.4 704L732.3 706.1L741.1 708.2L749.9 710.3L758.8 712.5L767.5 714.7L776.3 716.9L785.1 719.1L793.8 721.4L791.2 728.8L782.5 726.6L773.7 724.4L765 722.2L756.2 720L747.5 717.9L738.7 715.8L729.8 713.7L721 711.6L712.2 709.6ZM479.9 650.6L489.2 651.9L487.6 659.7L478.3 658.4ZM507.7 654.7L517 656.1L526.2 657.5L535.5 659L544.7 660.5L553.9 662L563.1 663.6L572.2 665.2L581.4 666.8L579.5 674.5L570.3 672.9L561.2 671.3L552 669.8L542.9 668.2L533.7 666.8L524.5 665.3L515.3 663.8L506.1 662.4ZM608.8 671.8L617.9 673.6L627 675.3L624.9 683L615.8 681.2L606.8 679.5ZM716.9 694.4L725.8 696.5L734.7 698.5L743.6 700.7L752.5 702.8L761.3 705L770.1 707.1L778.9 709.4L787.7 711.6L796.5 713.9L793.8 721.4L785.1 719.1L776.3 716.9L767.5 714.7L758.8 712.5L749.9 710.3L741.1 708.2L732.3 706.1L723.4 704L714.5 702ZM481.5 642.8L490.8 644.1L489.2 651.9L479.9 650.6ZM500.1 645.5L509.4 646.9L518.7 648.3L528 649.8L537.2 651.3L546.5 652.8L555.7 654.3L564.9 655.9L574.1 657.5L583.3 659.1L592.5 660.8L601.7 662.4L610.8 664.1L619.9 665.9L629.1 667.6L638.2 669.4L647.3 671.3L656.3 673.1L665.4 675L663.1 682.6L654.1 680.8L645.1 678.9L636 677.1L627 675.3L617.9 673.6L608.8 671.8L599.7 670.1L590.5 668.5L581.4 666.8L572.2 665.2L563.1 663.6L553.9 662L544.7 660.5L535.5 659L526.2 657.5L517 656.1L507.7 654.7L498.5 653.3ZM710.4 684.8L719.3 686.8L728.3 688.9L737.2 691L746.1 693.1L755 695.2L763.8 697.4L772.7 699.6L781.5 701.8L790.3 704.1L799.1 706.4L796.5 713.9L787.7 711.6L778.9 709.4L770.1 707.1L761.3 705L752.5 702.8L743.6 700.7L734.7 698.5L725.8 696.5L716.9 694.4L708 692.4ZM492.4 636.3L501.8 637.7L511.1 639.1L520.4 640.5L518.7 648.3L509.4 646.9L500.1 645.5L490.8 644.1ZM539 643.5L548.3 645L557.6 646.6L566.8 648.1L576.1 649.7L585.3 651.4L594.5 653L603.7 654.7L612.9 656.4L622 658.2L631.2 660L640.3 661.8L649.4 663.6L658.5 665.5L667.6 667.3L665.4 675L656.3 673.1L647.3 671.3L638.2 669.4L629.1 667.6L619.9 665.9L610.8 664.1L601.7 662.4L592.5 660.8L583.3 659.1L574.1 657.5L564.9 655.9L555.7 654.3L546.5 652.8L537.2 651.3ZM712.8 677.2L721.8 679.2L730.7 681.3L739.7 683.4L737.2 691L728.3 688.9L719.3 686.8L710.4 684.8ZM757.5 687.7L766.4 689.9L775.3 692.1L784.2 694.3L793 696.6L801.8 698.9L799.1 706.4L790.3 704.1L781.5 701.8L772.7 699.6L763.8 697.4L755 695.2ZM494.1 628.5L503.5 629.9L512.8 631.3L522.2 632.8L520.4 640.5L511.1 639.1L501.8 637.7L492.4 636.3ZM550.2 637.3L559.5 638.8L557.6 646.6L548.3 645ZM568.7 640.4L578 642L587.3 643.6L596.5 645.3L605.7 647L614.9 648.7L624.1 650.5L633.3 652.3L642.5 654.1L651.6 655.9L660.8 657.8L669.9 659.7L667.6 667.3L658.5 665.5L649.4 663.6L640.3 661.8L631.2 660L622 658.2L612.9 656.4L603.7 654.7L594.5 653L585.3 651.4L576.1 649.7L566.8 648.1ZM679 661.6L688.1 663.6L697.1 665.5L694.8 673.2L685.7 671.2L676.7 669.3ZM706.2 667.5L715.2 669.6L724.2 671.6L733.2 673.7L742.2 675.8L739.7 683.4L730.7 681.3L721.8 679.2L712.8 677.2L703.8 675.2ZM760.1 680.1L769 682.3L777.9 684.5L786.8 686.8L795.7 689L804.5 691.3L801.8 698.9L793 696.6L784.2 694.3L775.3 692.1L766.4 689.9L757.5 687.7ZM505.1 622.1L514.5 623.5L523.9 625L533.3 626.5L542.7 628L540.8 635.7L531.5 634.2L522.2 632.8L512.8 631.3L503.5 629.9ZM552 629.5L561.3 631.1L570.7 632.6L580 634.3L589.3 635.9L598.5 637.6L607.8 639.3L617 641L626.3 642.8L635.5 644.6L644.7 646.4L653.8 648.2L663 650.1L672.2 652L681.3 654L690.4 655.9L699.5 657.9L708.6 659.9L717.6 661.9L726.7 664L735.7 666.1L733.2 673.7L724.2 671.6L715.2 669.6L706.2 667.5L697.1 665.5L688.1 663.6L679 661.6L669.9 659.7L660.8 657.8L651.6 655.9L642.5 654.1L633.3 652.3L624.1 650.5L614.9 648.7L605.7 647L596.5 645.3L587.3 643.6L578 642L568.7 640.4L559.5 638.8L550.2 637.3ZM771.6 674.8L780.6 677L789.5 679.2L798.4 681.5L795.7 689L786.8 686.8L777.9 684.5L769 682.3ZM516.3 615.7L525.7 617.2L535.1 618.7L544.5 620.2L553.9 621.7L563.2 623.3L572.6 624.9L570.7 632.6L561.3 631.1L552 629.5L542.7 628L533.3 626.5L523.9 625L514.5 623.5ZM581.9 626.5L591.3 628.2L600.6 629.9L609.9 631.6L619.1 633.3L628.4 635.1L637.6 636.9L646.9 638.7L656.1 640.6L665.3 642.4L674.4 644.4L683.6 646.3L692.8 648.3L701.9 650.3L711 652.3L720.1 654.3L729.2 656.4L726.7 664L717.6 661.9L708.6 659.9L699.5 657.9L690.4 655.9L681.3 654L672.2 652L663 650.1L653.8 648.2L644.7 646.4L635.5 644.6L626.3 642.8L617 641L607.8 639.3L598.5 637.6L589.3 635.9L580 634.3ZM783.2 669.4L792.2 671.7L789.5 679.2L780.6 677ZM555.8 614L565.2 615.5L574.5 617.1L572.6 624.9L563.2 623.3L553.9 621.7ZM602.6 622.1L611.9 623.8L621.2 625.6L630.5 627.4L639.8 629.2L649.1 631L658.3 632.9L667.5 634.8L676.8 636.7L686 638.6L695.1 640.6L704.3 642.6L713.4 644.6L722.6 646.7L731.7 648.8L729.2 656.4L720.1 654.3L711 652.3L701.9 650.3L692.8 648.3L683.6 646.3L674.4 644.4L665.3 642.4L656.1 640.6L646.9 638.7L637.6 636.9L628.4 635.1L619.1 633.3L609.9 631.6L600.6 629.9ZM595.3 612.7L604.7 614.4L614 616.1L623.4 617.9L632.7 619.7L642 621.5L651.3 623.3L660.6 625.2L669.8 627.1L679.1 629L676.8 636.7L667.5 634.8L658.3 632.9L649.1 631L639.8 629.2L630.5 627.4L621.2 625.6L611.9 623.8L602.6 622.1L593.3 620.4ZM688.3 631L697.5 633L706.7 635L715.9 637L725 639.1L722.6 646.7L713.4 644.6L704.3 642.6L695.1 640.6L686 638.6ZM597.4 604.9L606.8 606.6L616.2 608.4L625.5 610.1L634.9 611.9L632.7 619.7L623.4 617.9L614 616.1L604.7 614.4L595.3 612.7ZM653.6 615.6L662.9 617.5L672.2 619.4L669.8 627.1L660.6 625.2L651.3 623.3ZM627.7 602.4L637.1 604.2L634.9 611.9L625.5 610.1ZM646.5 606L655.8 607.9L665.2 609.8L662.9 617.5L653.6 615.6L644.2 613.8ZM601.5 589.4L611 591.1L620.4 592.9L618.3 600.6L608.9 598.9L599.4 597.2ZM613.1 583.4L622.6 585.1L632.1 586.9L641.5 588.7L639.3 596.5L629.9 594.7L620.4 592.9L611 591.1ZM615.2 575.6L624.8 577.4L634.3 579.2L643.8 581L641.5 588.7L632.1 586.9L622.6 585.1L613.1 583.4ZM672.2 586.7L681.6 588.6L679.2 596.3L669.8 594.4ZM674.5 578.9L684 580.9L681.6 588.6L672.2 586.7ZM610 558.3L619.6 560.1L629.2 561.9L638.8 563.7L636.5 571.4L627 569.6L617.4 567.8L607.8 566.1ZM657.9 567.4L667.4 569.3L676.9 571.2L686.4 573.2L695.9 575.2L693.4 582.9L684 580.9L674.5 578.9L665.1 577L655.6 575.1ZM612.1 550.5L621.8 552.3L631.4 554.1L641 555.9L650.6 557.8L660.2 559.6L669.8 561.6L679.3 563.5L688.8 565.5L698.3 567.5L695.9 575.2L686.4 573.2L676.9 571.2L667.4 569.3L657.9 567.4L648.3 565.5L638.8 563.7L629.2 561.9L619.6 560.1L610 558.3ZM614.3 542.7L624 544.5L633.7 546.3L643.3 548.2L652.9 550L662.6 551.9L672.2 553.8L681.7 555.8L691.3 557.8L700.8 559.8L710.4 561.8L707.8 569.5L698.3 567.5L688.8 565.5L679.3 563.5L669.8 561.6L660.2 559.6L650.6 557.8L641 555.9L631.4 554.1L621.8 552.3L612.1 550.5ZM635.9 538.5L645.6 540.4L655.3 542.3L664.9 544.2L674.6 546.1L684.2 548L693.8 550L703.3 552L712.9 554.1L722.4 556.2L719.9 563.9L710.4 561.8L700.8 559.8L691.3 557.8L681.7 555.8L672.2 553.8L662.6 551.9L652.9 550L643.3 548.2L633.7 546.3ZM667.3 536.4L677 538.3L686.6 540.3L696.3 542.3L705.9 544.3L715.5 546.4L725 548.5L722.4 556.2L712.9 554.1L703.3 552L693.8 550L684.2 548L674.6 546.1L664.9 544.2ZM689.1 532.6L698.8 534.6L708.4 536.6L718.1 538.7L715.5 546.4L705.9 544.3L696.3 542.3L686.6 540.3ZM701.3 526.8L711 528.9L708.4 536.6L698.8 534.6ZM559.9 476.2L570 477.8L580.1 479.5L577.9 487.3L567.9 485.7L557.9 484.1ZM551.9 466.8L562 468.4L572.1 470L582.2 471.6L592.3 473.3L602.3 475L600.1 482.8L590.1 481.1L580.1 479.5L570 477.8L559.9 476.2L549.9 474.6ZM564.1 460.5L574.2 462.1L584.3 463.8L594.4 465.5L604.5 467.2L602.3 475L592.3 473.3L582.2 471.6L572.1 470L562 468.4ZM566.1 452.6L576.3 454.2L586.5 455.9L596.6 457.6L606.8 459.3L616.9 461.1L614.6 468.9L604.5 467.2L594.4 465.5L584.3 463.8L574.2 462.1L564.1 460.5ZM647.1 466.6L657.1 468.4L667.2 470.4L677.2 472.3L674.7 480.1L664.7 478.1L654.7 476.2L644.7 474.4ZM588.7 448L598.9 449.8L609 451.5L606.8 459.3L596.6 457.6L586.5 455.9ZM659.6 460.6L669.7 462.6L679.7 464.5L689.7 466.5L699.7 468.5L709.7 470.6L707 478.3L697.1 476.3L687.1 474.3L677.2 472.3L667.2 470.4L657.1 468.4ZM672.2 454.8L682.2 456.7L692.3 458.7L702.3 460.8L712.3 462.8L722.3 464.9L732.3 467L729.6 474.8L719.6 472.7L709.7 470.6L699.7 468.5L689.7 466.5L679.7 464.5L669.7 462.6ZM684.8 448.9L694.9 451L705 453L715 455.1L725 457.2L735 459.3L745 461.4L755 463.6L752.2 471.4L742.2 469.2L732.3 467L722.3 464.9L712.3 462.8L702.3 460.8L692.3 458.7L682.2 456.7ZM697.5 443.2L707.6 445.2L717.7 447.3L727.8 449.4L737.8 451.5L747.8 453.7L757.8 455.9L767.8 458.1L777.8 460.4L787.7 462.7L784.7 470.4L774.8 468.1L764.9 465.9L755 463.6L745 461.4L735 459.3L725 457.2L715 455.1L705 453L694.9 451ZM710.3 437.4L720.4 439.5L730.5 441.6L740.6 443.8L750.7 446L760.7 448.2L770.7 450.4L780.7 452.7L790.7 455L800.6 457.3L810.5 459.7L807.5 467.4L797.6 465L787.7 462.7L777.8 460.4L767.8 458.1L757.8 455.9L747.8 453.7L737.8 451.5L727.8 449.4L717.7 447.3L707.6 445.2ZM773.7 442.7L783.7 445L793.7 447.3L803.7 449.7L813.6 452L823.5 454.4L820.4 462.1L810.5 459.7L800.6 457.3L790.7 455L780.7 452.7L770.7 450.4ZM786.7 437.3L796.7 439.6L806.7 442L816.7 444.4L826.7 446.8L836.6 449.2L846.5 451.7L843.3 459.3L833.4 456.9L823.5 454.4L813.6 452L803.7 449.7L793.7 447.3L783.7 445ZM799.8 431.9L809.8 434.3L819.8 436.7L829.8 439.1L839.8 441.6L849.8 444.1L846.5 451.7L836.6 449.2L826.7 446.8L816.7 444.4L806.7 442L796.7 439.6ZM538.5 308.7L549.5 310.3L547.3 318.2L536.4 316.7ZM560.5 311.9L571.5 313.5L582.5 315.2L593.4 316.8L591.1 324.7L580.2 323.1L569.2 321.4L558.3 319.8ZM540.6 300.8L551.7 302.4L549.5 310.3L538.5 308.7ZM562.8 304L573.8 305.6L584.8 307.2L595.8 309L593.4 316.8L582.5 315.2L571.5 313.5L560.5 311.9ZM565 296L576.1 297.7L587.2 299.3L584.8 307.2L573.8 305.6L562.8 304ZM556.2 286.5L567.3 288.1L578.4 289.8L576.1 297.7L565 296L553.9 294.4ZM592.9 242.3L604.3 244.1L601.8 251.9L590.4 250.2ZM526.2 224.8L537.8 226.3L535.5 234.2L524 232.7ZM549.3 227.8L560.9 229.4L558.5 237.4L547 235.8ZM595.3 234.4L606.8 236.2L604.3 244.1L592.9 242.3ZM528.4 216.8L540 218.4L537.8 226.3L526.2 224.8ZM597.9 226.5L609.4 228.3L606.8 236.2L595.3 234.4ZM542.3 210.4L553.9 212L565.6 213.6L563.2 221.5L551.6 219.9L540 218.4Z"/>
<path fill="#F67C2E" d="M174.1 865.4L182.6 865.7L191.1 866.1L190.7 873.7L182.2 873.4L173.7 873ZM174.5 857.7L183 858.1L191.6 858.4L191.1 866.1L182.6 865.7L174.1 865.4ZM328.8 860.5L337.3 861.4L345.8 862.2L354.2 863.1L353.3 870.7L344.8 869.8L336.3 869L327.9 868.2ZM321.1 852.1L329.7 852.9L338.2 853.8L346.7 854.6L355.3 855.5L354.2 863.1L345.8 862.2L337.3 861.4L328.8 860.5L320.3 859.7ZM631.4 899L639.5 900.8L647.7 902.5L645.8 909.9L637.6 908.2L629.5 906.4ZM339.2 846.1L347.7 847L356.3 847.9L355.3 855.5L346.7 854.6L338.2 853.8ZM633.3 891.6L641.5 893.4L649.7 895.1L657.9 896.9L666 898.7L674.2 900.6L682.3 902.4L680.3 909.8L672.1 908L664 906.1L655.9 904.3L647.7 902.5L639.5 900.8L631.4 899ZM340.1 838.5L348.7 839.4L357.3 840.2L356.3 847.9L347.7 847L339.2 846.1ZM434.1 849.5L442.6 850.6L441.3 858.2L432.8 857.1ZM618.7 880.7L626.9 882.5L635.2 884.2L643.4 885.9L651.6 887.7L659.9 889.5L668.1 891.3L676.2 893.2L684.4 895.1L682.3 902.4L674.2 900.6L666 898.7L657.9 896.9L649.7 895.1L641.5 893.4L633.3 891.6L625 889.9L616.8 888.2ZM700.7 898.9L708.8 900.8L706.7 908.2L698.6 906.2ZM366.9 833.5L375.5 834.5L384.1 835.5L383 843.1L374.4 842.1L365.8 841.2ZM435.4 841.9L443.9 843L442.6 850.6L434.1 849.5ZM620.6 873.3L628.9 875L637.1 876.7L645.4 878.5L653.6 880.3L661.9 882.1L670.1 883.9L678.3 885.8L676.2 893.2L668.1 891.3L659.9 889.5L651.6 887.7L643.4 885.9L635.2 884.2L626.9 882.5L618.7 880.7ZM702.8 891.5L711 893.5L708.8 900.8L700.7 898.9ZM368 825.9L376.6 826.8L385.2 827.8L384.1 835.5L375.5 834.5L366.9 833.5ZM622.5 865.8L630.8 867.6L639.1 869.3L647.4 871.1L655.6 872.9L663.9 874.7L672.1 876.5L680.4 878.4L678.3 885.8L670.1 883.9L661.9 882.1L653.6 880.3L645.4 878.5L637.1 876.7L628.9 875L620.6 873.3ZM705 884.1L713.2 886.1L711 893.5L702.8 891.5ZM186 804.2L194.8 804.6L203.5 805L203 812.7L194.3 812.3L185.6 811.9ZM624.4 858.4L632.7 860.1L641 861.8L649.4 863.6L657.7 865.4L665.9 867.3L674.2 869.1L672.1 876.5L663.9 874.7L655.6 872.9L647.4 871.1L639.1 869.3L630.8 867.6L622.5 865.8ZM707.2 876.7L715.4 878.7L713.2 886.1L705 884.1ZM186.4 796.5L195.2 796.9L204 797.3L212.8 797.8L212.3 805.5L203.5 805L194.8 804.6L186 804.2ZM626.3 850.9L634.7 852.6L643 854.4L651.4 856.2L659.7 858L668 859.8L676.3 861.7L674.2 869.1L665.9 867.3L657.7 865.4L649.4 863.6L641 861.8L632.7 860.1L624.4 858.4ZM725.8 873.3L734 875.4L731.7 882.7L723.5 880.7ZM750.3 879.5L758.5 881.6L756.1 888.9L748 886.8ZM186.9 788.7L195.7 789.1L204.5 789.6L213.3 790L222.2 790.5L221.6 798.2L212.8 797.8L204 797.3L195.2 796.9L186.4 796.5ZM636.6 845.1L645 846.9L653.4 848.7L661.7 850.5L670.1 852.4L678.4 854.2L676.3 861.7L668 859.8L659.7 858L651.4 856.2L643 854.4L634.7 852.6ZM728 866L736.2 868L734 875.4L725.8 873.3ZM752.6 872.1L760.8 874.2L769 876.4L777.1 878.5L785.3 880.7L793.4 882.9L790.9 890.2L782.8 888L774.7 885.8L766.6 883.7L758.5 881.6L750.3 879.5ZM143 779.4L151.9 779.6L160.7 779.9L169.6 780.3L178.5 780.6L187.3 781L196.2 781.4L205 781.8L213.9 782.3L222.7 782.8L231.6 783.3L240.4 783.8L239.8 791.6L231 791L222.2 790.5L213.3 790L204.5 789.6L195.7 789.1L186.9 788.7L178.1 788.4L169.2 788L160.4 787.7L151.6 787.4L142.7 787.1ZM284.5 786.9L293.3 787.6L292.5 795.4L283.7 794.7ZM638.6 837.7L647 839.4L655.4 841.2L663.8 843.1L672.1 844.9L680.5 846.8L688.8 848.7L686.7 856.1L678.4 854.2L670.1 852.4L661.7 850.5L653.4 848.7L645 846.9L636.6 845.1ZM763.2 866.9L771.4 869L769 876.4L760.8 874.2ZM294.1 779.9L303 780.6L302.1 788.4L293.3 787.6ZM640.6 830.2L649 832L657.4 833.8L665.9 835.6L674.2 837.5L682.6 839.3L691 841.3L688.8 848.7L680.5 846.8L672.1 844.9L663.8 843.1L655.4 841.2L647 839.4L638.6 837.7ZM732.6 851.2L740.8 853.2L738.5 860.6L730.3 858.6ZM765.6 859.5L773.8 861.7L782 863.8L779.5 871.2L771.4 869L763.2 866.9ZM303.8 772.9L312.7 773.7L321.5 774.5L330.4 775.3L339.2 776.1L348 777L347 784.7L338.2 783.9L329.4 783L320.6 782.2L311.8 781.4L303 780.6ZM409.6 783.9L418.4 785L427.1 786.1L435.9 787.3L434.6 794.9L425.9 793.8L417.1 792.7L408.4 791.6ZM642.6 822.7L651.1 824.5L659.5 826.3L667.9 828.1L676.4 830L684.8 831.9L693.1 833.8L691 841.3L682.6 839.3L674.2 837.5L665.9 835.6L657.4 833.8L649 832L640.6 830.2ZM743.2 845.8L751.4 847.9L759.7 850L757.3 857.4L749.1 855.3L740.8 853.2ZM776.2 854.3L784.4 856.5L782 863.8L773.8 861.7ZM384.4 773.1L393.2 774.1L402.1 775.2L410.9 776.2L419.7 777.3L428.4 778.5L437.2 779.6L435.9 787.3L427.1 786.1L418.4 785L409.6 783.9L400.9 782.9L392.1 781.8L383.3 780.8ZM472.2 784.5L481 785.8L489.7 787.1L498.4 788.4L496.9 796L488.2 794.7L479.5 793.4L470.8 792.1ZM644.6 815.2L653.1 817L661.6 818.8L670 820.6L678.5 822.5L686.9 824.4L695.3 826.3L693.1 833.8L684.8 831.9L676.4 830L667.9 828.1L659.5 826.3L651.1 824.5L642.6 822.7ZM745.5 838.4L753.8 840.5L751.4 847.9L743.2 845.8ZM778.6 847L786.9 849.1L784.4 856.5L776.2 854.3ZM385.6 765.4L394.4 766.4L403.3 767.5L412.1 768.5L420.9 769.6L429.8 770.8L438.6 771.9L447.4 773.1L456.1 774.3L464.9 775.6L473.7 776.8L482.5 778.1L491.2 779.4L499.9 780.8L498.4 788.4L489.7 787.1L481 785.8L472.2 784.5L463.5 783.2L454.7 782L446 780.8L437.2 779.6L428.4 778.5L419.7 777.3L410.9 776.2L402.1 775.2L393.2 774.1L384.4 773.1ZM646.7 807.6L655.2 809.5L663.7 811.3L672.1 813.1L680.6 815L689.1 816.9L697.5 818.9L695.3 826.3L686.9 824.4L678.5 822.5L670 820.6L661.6 818.8L653.1 817L644.6 815.2ZM747.8 831L756.2 833.1L753.8 840.5L745.5 838.4ZM789.3 841.8L797.6 844L795.1 851.4L786.9 849.1ZM386.7 757.7L395.6 758.7L404.5 759.7L413.4 760.8L422.2 761.9L431.1 763.1L439.9 764.2L448.7 765.4L447.4 773.1L438.6 771.9L429.8 770.8L420.9 769.6L412.1 768.5L403.3 767.5L394.4 766.4L385.6 765.4ZM475.2 769.2L483.9 770.5L492.7 771.8L501.5 773.1L499.9 780.8L491.2 779.4L482.5 778.1L473.7 776.8ZM648.7 800.1L657.2 801.9L665.8 803.8L674.3 805.7L672.1 813.1L663.7 811.3L655.2 809.5L646.7 807.6ZM682.8 807.5L691.3 809.5L699.7 811.4L697.5 818.9L689.1 816.9L680.6 815ZM758.6 825.7L766.9 827.9L764.5 835.3L756.2 833.1ZM791.8 834.4L800.1 836.7L797.6 844L789.3 841.8ZM379 748.9L387.9 749.9L396.8 751L405.7 752L414.6 753.1L423.5 754.2L432.4 755.4L441.3 756.5L439.9 764.2L431.1 763.1L422.2 761.9L413.4 760.8L404.5 759.7L395.6 758.7L386.7 757.7L377.8 756.7ZM503.1 765.5L511.8 766.9L520.6 768.3L519 775.9L510.2 774.5L501.5 773.1ZM650.8 792.6L659.3 794.4L667.9 796.3L676.4 798.1L684.9 800L693.4 802L701.9 803.9L699.7 811.4L691.3 809.5L682.8 807.5L674.3 805.7L665.8 803.8L657.2 801.9L648.7 800.1ZM761 818.3L769.3 820.5L766.9 827.9L758.6 825.7ZM794.3 827L802.6 829.3L800.1 836.7L791.8 834.4ZM380.1 741.2L389.1 742.2L398 743.2L407 744.3L415.9 745.4L424.8 746.5L433.7 747.7L442.6 748.8L441.3 756.5L432.4 755.4L423.5 754.2L414.6 753.1L405.7 752L396.8 751L387.9 749.9L379 748.9ZM513.5 759.2L522.3 760.6L520.6 768.3L511.8 766.9ZM652.8 785L661.4 786.9L670 788.7L678.6 790.6L687.1 792.5L684.9 800L676.4 798.1L667.9 796.3L659.3 794.4L650.8 792.6ZM390.3 734.5L399.2 735.5L398 743.2L389.1 742.2ZM408.2 736.6L417.2 737.7L426.1 738.8L435.1 739.9L444 741.1L452.9 742.3L451.5 750L442.6 748.8L433.7 747.7L424.8 746.5L415.9 745.4L407 744.3ZM654.9 777.5L663.5 779.3L672.1 781.2L680.7 783.1L689.3 785L687.1 792.5L678.6 790.6L670 788.7L661.4 786.9L652.8 785ZM774.3 805.6L782.7 807.8L780.2 815.2L771.8 813ZM409.5 728.8L418.5 729.9L427.4 731.1L426.1 738.8L417.2 737.7L408.2 736.6ZM657 769.9L665.7 771.8L674.3 773.7L682.9 775.6L691.5 777.5L700.1 779.5L697.9 787L689.3 785L680.7 783.1L672.1 781.2L663.5 779.3L654.9 777.5ZM776.7 798.2L785.2 800.4L782.7 807.8L774.3 805.6ZM802 804.9L810.4 807.2L807.8 814.5L799.4 812.3ZM338.2 713.2L347.3 714.1L356.4 715L355.3 722.8L346.3 721.9L337.2 721ZM419.8 722.2L428.8 723.3L427.4 731.1L418.5 729.9ZM500.5 733.4L509.4 734.8L518.4 736.2L527.2 737.6L536.1 739.1L534.4 746.7L525.6 745.3L516.7 743.9L507.8 742.5L498.9 741.1ZM598 750.1L606.7 751.8L615.5 753.5L624.3 755.2L622.3 762.8L613.5 761.1L604.8 759.4L596.1 757.7ZM659.1 762.4L667.8 764.3L676.5 766.1L685.1 768.1L693.8 770L702.4 772L700.1 779.5L691.5 777.5L682.9 775.6L674.3 773.7L665.7 771.8L657 769.9ZM787.7 793L796.1 795.2L793.6 802.6L785.2 800.4ZM804.6 797.5L813 799.8L810.4 807.2L802 804.9ZM339.3 705.4L348.4 706.3L347.3 714.1L338.2 713.2ZM493.2 724.3L502.1 725.7L500.5 733.4L491.6 732ZM591.1 740.8L599.9 742.5L608.7 744.1L617.5 745.9L626.3 747.6L635 749.4L633 757L624.3 755.2L615.5 753.5L606.7 751.8L598 750.1L589.2 748.4ZM652.5 753L661.3 754.8L670 756.7L678.7 758.6L687.3 760.5L696 762.5L704.7 764.4L713.3 766.4L711 773.9L702.4 772L693.8 770L685.1 768.1L676.5 766.1L667.8 764.3L659.1 762.4L650.4 760.6ZM790.2 785.6L798.7 787.8L807.1 790.1L804.6 797.5L796.1 795.2L787.7 793ZM340.3 697.6L349.4 698.5L348.4 706.3L339.3 705.4ZM494.7 716.6L503.7 718L502.1 725.7L493.2 724.3ZM584.1 731.5L593 733.2L601.8 734.8L610.7 736.5L619.5 738.2L628.3 740L637.1 741.8L645.9 743.6L654.7 745.4L663.4 747.3L672.2 749.1L680.9 751L689.6 753L698.3 754.9L706.9 756.9L715.6 758.9L713.3 766.4L704.7 764.4L696 762.5L687.3 760.5L678.7 758.6L670 756.7L661.3 754.8L652.5 753L643.8 751.2L635 749.4L626.3 747.6L617.5 745.9L608.7 744.1L599.9 742.5L591.1 740.8L582.2 739.2ZM496.3 708.9L505.3 710.3L503.7 718L494.7 716.6ZM586 723.9L594.9 725.5L603.8 727.2L612.7 728.9L621.5 730.6L630.4 732.4L639.2 734.2L648 736L656.8 737.8L665.6 739.7L674.3 741.6L683.1 743.5L691.8 745.4L700.5 747.4L709.3 749.4L717.9 751.4L715.6 758.9L706.9 756.9L698.3 754.9L689.6 753L680.9 751L672.2 749.1L663.4 747.3L654.7 745.4L645.9 743.6L637.1 741.8L628.3 740L619.5 738.2L610.7 736.5L601.8 734.8L593 733.2L584.1 731.5ZM497.9 701.2L507 702.5L505.3 710.3L496.3 708.9ZM587.9 716.2L596.8 717.9L605.8 719.6L614.7 721.3L623.5 723L632.4 724.8L641.3 726.6L650.1 728.4L658.9 730.2L667.8 732.1L676.5 734L685.3 735.9L694.1 737.9L702.8 739.8L711.6 741.8L720.3 743.9L729 745.9L726.6 753.4L717.9 751.4L709.3 749.4L700.5 747.4L691.8 745.4L683.1 743.5L674.3 741.6L665.6 739.7L656.8 737.8L648 736L639.2 734.2L630.4 732.4L621.5 730.6L612.7 728.9L603.8 727.2L594.9 725.5L586 723.9ZM490.4 692.1L499.5 693.4L508.6 694.8L507 702.5L497.9 701.2L488.8 699.8ZM580.9 706.9L589.8 708.6L598.8 710.2L607.7 711.9L616.7 713.6L625.6 715.4L634.5 717.1L643.4 718.9L652.2 720.8L661.1 722.6L669.9 724.5L678.8 726.4L687.6 728.3L696.4 730.3L705.1 732.3L713.9 734.3L722.7 736.3L731.4 738.4L729 745.9L720.3 743.9L711.6 741.8L702.8 739.8L694.1 737.9L685.3 735.9L676.5 734L667.8 732.1L658.9 730.2L650.1 728.4L641.3 726.6L632.4 724.8L623.5 723L614.7 721.3L605.8 719.6L596.8 717.9L587.9 716.2L579 714.6ZM492 684.3L501.1 685.7L510.3 687.1L519.4 688.5L528.5 690L537.5 691.4L535.8 699.1L526.7 697.7L517.7 696.2L508.6 694.8L499.5 693.4L490.4 692.1ZM573.8 697.6L582.8 699.2L591.8 700.9L600.8 702.6L609.7 704.3L618.7 706L627.6 707.7L636.6 709.5L634.5 717.1L625.6 715.4L616.7 713.6L607.7 711.9L598.8 710.2L589.8 708.6L580.9 706.9L571.9 705.3ZM663.3 715L672.2 716.9L681 718.8L689.8 720.8L698.7 722.7L707.5 724.7L716.3 726.7L725 728.8L733.8 730.8L731.4 738.4L722.7 736.3L713.9 734.3L705.1 732.3L696.4 730.3L687.6 728.3L678.8 726.4L669.9 724.5L661.1 722.6ZM502.8 677.9L511.9 679.3L521.1 680.8L530.2 682.2L528.5 690L519.4 688.5L510.3 687.1L501.1 685.7ZM539.3 683.7L548.4 685.2L546.6 692.9L537.5 691.4ZM566.6 688.3L575.6 689.9L584.7 691.6L593.7 693.2L602.7 694.9L611.8 696.6L620.7 698.3L629.7 700.1L627.6 707.7L618.7 706L609.7 704.3L600.8 702.6L591.8 700.9L582.8 699.2L573.8 697.6L564.7 696ZM656.6 705.5L665.5 707.4L674.4 709.3L683.3 711.2L692.1 713.2L701 715.1L709.8 717.1L718.6 719.2L716.3 726.7L707.5 724.7L698.7 722.7L689.8 720.8L681 718.8L672.2 716.9L663.3 715L654.4 713.1ZM486 667.5L495.2 668.8L504.4 670.2L513.6 671.6L522.8 673L521.1 680.8L511.9 679.3L502.8 677.9L493.6 676.6L484.4 675.2ZM550.2 677.5L559.3 679.1L568.4 680.6L577.5 682.2L586.6 683.9L595.7 685.5L604.7 687.2L613.8 688.9L622.8 690.7L631.8 692.4L629.7 700.1L620.7 698.3L611.8 696.6L602.7 694.9L593.7 693.2L584.7 691.6L575.6 689.9L566.6 688.3L557.5 686.8L548.4 685.2ZM649.8 696.1L658.7 697.9L667.7 699.8L676.6 701.7L685.5 703.6L694.4 705.6L692.1 713.2L683.3 711.2L674.4 709.3L665.5 707.4L656.6 705.5L647.6 703.7ZM487.6 659.7L496.8 661L506.1 662.4L515.3 663.8L524.5 665.3L522.8 673L513.6 671.6L504.4 670.2L495.2 668.8L486 667.5ZM579.5 674.5L588.6 676.2L597.7 677.8L606.8 679.5L615.8 681.2L613.8 688.9L604.7 687.2L595.7 685.5L586.6 683.9L577.5 682.2ZM624.9 683L633.9 684.8L642.9 686.6L651.9 688.4L660.9 690.3L669.9 692.2L678.9 694.1L687.8 696L685.5 703.6L676.6 701.7L667.7 699.8L658.7 697.9L649.8 696.1L640.8 694.2L631.8 692.4L622.8 690.7ZM489.2 651.9L498.5 653.3L507.7 654.7L506.1 662.4L496.8 661L487.6 659.7ZM581.4 666.8L590.5 668.5L599.7 670.1L608.8 671.8L606.8 679.5L597.7 677.8L588.6 676.2L579.5 674.5ZM627 675.3L636 677.1L645.1 678.9L654.1 680.8L663.1 682.6L672.2 684.5L681.1 686.4L690.1 688.4L687.8 696L678.9 694.1L669.9 692.2L660.9 690.3L651.9 688.4L642.9 686.6L633.9 684.8L624.9 683ZM490.8 644.1L500.1 645.5L498.5 653.3L489.2 651.9ZM665.4 675L674.4 676.9L683.4 678.8L681.1 686.4L672.2 684.5L663.1 682.6ZM667.6 667.3L676.7 669.3L685.7 671.2L683.4 678.8L674.4 676.9L665.4 675ZM559.5 638.8L568.7 640.4L566.8 648.1L557.6 646.6ZM669.9 659.7L679 661.6L676.7 669.3L667.6 667.3ZM572.6 624.9L581.9 626.5L580 634.3L570.7 632.6ZM593.3 620.4L602.6 622.1L600.6 629.9L591.3 628.2ZM634.9 611.9L644.2 613.8L653.6 615.6L651.3 623.3L642 621.5L632.7 619.7ZM637.1 604.2L646.5 606L644.2 613.8L634.9 611.9ZM592 587.7L601.5 589.4L599.4 597.2L590 595.5ZM648.7 598.3L658.1 600.2L667.5 602.1L665.2 609.8L655.8 607.9L646.5 606ZM603.6 581.6L613.1 583.4L611 591.1L601.5 589.4ZM641.5 588.7L651 590.6L660.4 592.5L669.8 594.4L667.5 602.1L658.1 600.2L648.7 598.3L639.3 596.5ZM605.7 573.9L615.2 575.6L613.1 583.4L603.6 581.6ZM643.8 581L653.3 582.9L662.7 584.7L672.2 586.7L669.8 594.4L660.4 592.5L651 590.6L641.5 588.7ZM607.8 566.1L617.4 567.8L627 569.6L636.5 571.4L646 573.3L655.6 575.1L665.1 577L674.5 578.9L672.2 586.7L662.7 584.7L653.3 582.9L643.8 581L634.3 579.2L624.8 577.4L615.2 575.6L605.7 573.9ZM638.8 563.7L648.3 565.5L657.9 567.4L655.6 575.1L646 573.3L636.5 571.4ZM549.5 310.3L560.5 311.9L558.3 319.8L547.3 318.2ZM551.7 302.4L562.8 304L560.5 311.9L549.5 310.3ZM553.9 294.4L565 296L562.8 304L551.7 302.4ZM537.8 226.3L549.3 227.8L547 235.8L535.5 234.2ZM551.6 219.9L563.2 221.5L560.9 229.4L549.3 227.8Z"/>
<path fill="#EC5A28" d="M113.5 901.8L121.9 901.9L130.3 902.1L138.7 902.3L147 902.6L155.4 902.9L155.1 910.5L146.8 910.2L138.4 909.9L130 909.7L121.7 909.5L113.3 909.4ZM113.6 894.2L122.1 894.3L130.5 894.5L138.9 894.7L147.3 895L155.8 895.3L164.2 895.6L172.6 895.9L181 896.2L189.4 896.6L197.8 897L206.2 897.4L214.6 897.9L223 898.4L231.4 898.9L239.8 899.4L248.2 900L256.5 900.5L264.9 901.1L273.3 901.8L281.6 902.4L290 903.1L289.2 910.7L280.9 910L272.6 909.4L264.2 908.7L255.9 908.1L247.5 907.5L239.2 907L230.8 906.5L222.5 906L214.1 905.5L205.7 905L197.3 904.6L189 904.2L180.6 903.8L172.2 903.5L163.8 903.2L155.4 902.9L147 902.6L138.7 902.3L130.3 902.1L121.9 901.9L113.5 901.8ZM113.8 886.5L122.3 886.7L130.7 886.9L139.2 887.1L147.6 887.4L156.1 887.6L164.5 887.9L173 888.3L181.4 888.6L189.8 889L198.3 889.4L206.7 889.8L215.1 890.3L223.5 890.8L232 891.3L240.4 891.8L248.8 892.4L257.2 892.9L265.6 893.6L274 894.2L282.4 894.8L290.8 895.5L299.2 896.2L307.5 897L315.9 897.7L324.3 898.5L332.6 899.3L341 900.2L349.3 901L357.7 901.9L356.7 909.5L348.4 908.6L340 907.7L331.7 906.9L323.4 906.1L315.1 905.3L306.7 904.6L298.4 903.8L290 903.1L281.6 902.4L273.3 901.8L264.9 901.1L256.5 900.5L248.2 900L239.8 899.4L231.4 898.9L223 898.4L214.6 897.9L206.2 897.4L197.8 897L189.4 896.6L181 896.2L172.6 895.9L164.2 895.6L155.8 895.3L147.3 895L138.9 894.7L130.5 894.5L122.1 894.3L113.6 894.2ZM114 878.9L122.5 879.1L131 879.3L139.4 879.5L147.9 879.7L156.4 880L164.9 880.3L173.3 880.6L181.8 881L190.3 881.4L198.7 881.8L207.2 882.2L215.6 882.7L224.1 883.2L232.5 883.7L241 884.2L249.4 884.8L257.9 885.3L266.3 886L274.7 886.6L283.1 887.3L291.5 887.9L300 888.7L308.4 889.4L316.8 890.2L325.2 891L333.5 891.8L341.9 892.6L350.3 893.5L358.7 894.4L357.7 901.9L349.3 901L341 900.2L332.6 899.3L324.3 898.5L315.9 897.7L307.5 897L299.2 896.2L290.8 895.5L282.4 894.8L274 894.2L265.6 893.6L257.2 892.9L248.8 892.4L240.4 891.8L232 891.3L223.5 890.8L215.1 890.3L206.7 889.8L198.3 889.4L189.8 889L181.4 888.6L173 888.3L164.5 887.9L156.1 887.6L147.6 887.4L139.2 887.1L130.7 886.9L122.3 886.7L113.8 886.5ZM367 895.3L375.4 896.2L383.7 897.2L392.1 898.2L391 905.7L382.7 904.7L374.3 903.8L366 902.8ZM114.2 871.2L122.7 871.4L131.2 871.6L139.7 871.8L148.2 872.1L156.7 872.4L165.2 872.7L173.7 873L182.2 873.4L190.7 873.7L199.2 874.1L207.7 874.6L216.2 875L224.6 875.5L233.1 876L241.6 876.6L250.1 877.1L258.5 877.7L267 878.3L275.4 879L283.9 879.6L292.3 880.3L300.8 881.1L309.2 881.8L317.6 882.6L326.1 883.4L334.5 884.2L342.9 885L351.3 885.9L359.7 886.8L358.7 894.4L350.3 893.5L341.9 892.6L333.5 891.8L325.2 891L316.8 890.2L308.4 889.4L300 888.7L291.5 887.9L283.1 887.3L274.7 886.6L266.3 886L257.9 885.3L249.4 884.8L241 884.2L232.5 883.7L224.1 883.2L215.6 882.7L207.2 882.2L198.7 881.8L190.3 881.4L181.8 881L173.3 880.6L164.9 880.3L156.4 880L147.9 879.7L139.4 879.5L131 879.3L122.5 879.1L114 878.9ZM368.1 887.7L376.4 888.7L384.8 889.6L393.2 890.6L392.1 898.2L383.7 897.2L375.4 896.2L367 895.3ZM165.6 865L174.1 865.4L173.7 873L165.2 872.7ZM191.1 866.1L199.7 866.5L199.2 874.1L190.7 873.7ZM216.7 867.4L225.2 867.9L233.7 868.4L242.2 868.9L250.7 869.5L259.2 870.1L267.7 870.7L276.2 871.4L284.6 872L293.1 872.7L301.6 873.5L310 874.2L318.5 875L326.9 875.8L335.4 876.6L343.8 877.4L352.3 878.3L360.7 879.2L359.7 886.8L351.3 885.9L342.9 885L334.5 884.2L326.1 883.4L317.6 882.6L309.2 881.8L300.8 881.1L292.3 880.3L283.9 879.6L275.4 879L267 878.3L258.5 877.7L250.1 877.1L241.6 876.6L233.1 876L224.6 875.5L216.2 875ZM369.1 880.1L377.5 881.1L385.9 882.1L394.3 883.1L402.7 884.1L401.6 891.7L393.2 890.6L384.8 889.6L376.4 888.7L368.1 887.7ZM165.9 857.4L174.5 857.7L174.1 865.4L165.6 865ZM191.6 858.4L200.1 858.9L199.7 866.5L191.1 866.1ZM259.9 862.5L268.4 863.1L276.9 863.7L285.4 864.4L293.9 865.1L302.4 865.8L310.9 866.6L319.4 867.4L327.9 868.2L336.3 869L344.8 869.8L353.3 870.7L361.7 871.6L360.7 879.2L352.3 878.3L343.8 877.4L335.4 876.6L326.9 875.8L318.5 875L310 874.2L301.6 873.5L293.1 872.7L284.6 872L276.2 871.4L267.7 870.7L259.2 870.1ZM370.2 872.6L378.6 873.5L387 874.5L395.4 875.5L403.9 876.5L402.7 884.1L394.3 883.1L385.9 882.1L377.5 881.1L369.1 880.1ZM545.6 897.9L553.8 899.4L562.1 900.9L570.3 902.5L568.6 909.9L560.4 908.4L552.2 906.9L544 905.4ZM174.9 850L183.4 850.4L192 850.8L200.6 851.2L200.1 858.9L191.6 858.4L183 858.1L174.5 857.7ZM226.3 852.6L234.9 853.1L243.4 853.7L252 854.2L260.5 854.8L269.1 855.4L277.6 856.1L286.2 856.8L294.7 857.5L293.9 865.1L285.4 864.4L276.9 863.7L268.4 863.1L259.9 862.5L251.3 861.9L242.8 861.3L234.3 860.8L225.8 860.2ZM311.7 859L320.3 859.7L328.8 860.5L327.9 868.2L319.4 867.4L310.9 866.6ZM354.2 863.1L362.7 864L361.7 871.6L353.3 870.7ZM371.2 865L379.7 865.9L388.1 866.9L396.6 867.9L405 869L413.5 870L421.9 871.1L420.7 878.7L412.3 877.6L403.9 876.5L395.4 875.5L387 874.5L378.6 873.5L370.2 872.6ZM547.2 890.5L555.5 892L563.8 893.5L572 895L580.3 896.6L588.5 898.1L596.7 899.8L604.9 901.4L613.1 903.1L611.3 910.5L603.1 908.8L594.9 907.2L586.7 905.6L578.5 904L570.3 902.5L562.1 900.9L553.8 899.4L545.6 897.9ZM175.3 842.4L183.9 842.7L192.5 843.1L201.1 843.5L200.6 851.2L192 850.8L183.4 850.4L174.9 850ZM235.5 845.5L244.1 846L252.6 846.6L261.2 847.2L269.8 847.8L278.4 848.5L286.9 849.1L295.5 849.8L304.1 850.6L303.2 858.2L294.7 857.5L286.2 856.8L277.6 856.1L269.1 855.4L260.5 854.8L252 854.2L243.4 853.7L234.9 853.1ZM355.3 855.5L363.8 856.4L362.7 864L354.2 863.1ZM372.3 857.4L380.8 858.3L389.2 859.3L397.7 860.3L406.2 861.4L414.7 862.4L423.1 863.5L421.9 871.1L413.5 870L405 869L396.6 867.9L388.1 866.9L379.7 865.9L371.2 865ZM557.2 884.5L565.5 886L573.7 887.5L582 889.1L590.3 890.7L598.5 892.3L606.7 894L615 895.6L623.2 897.3L631.4 899L629.5 906.4L621.3 904.7L613.1 903.1L604.9 901.4L596.7 899.8L588.5 898.1L580.3 896.6L572 895L563.8 893.5L555.5 892ZM175.6 834.7L184.3 835L192.9 835.4L192.5 843.1L183.9 842.7L175.3 842.4ZM236.1 837.8L244.7 838.3L253.3 838.9L261.9 839.5L270.5 840.1L279.1 840.8L287.7 841.5L296.3 842.2L304.9 842.9L313.5 843.7L312.6 851.3L304.1 850.6L295.5 849.8L286.9 849.1L278.4 848.5L269.8 847.8L261.2 847.2L252.6 846.6L244.1 846L235.5 845.5ZM322 844.5L330.6 845.3L339.2 846.1L338.2 853.8L329.7 852.9L321.1 852.1ZM373.3 849.7L381.9 850.7L390.4 851.7L398.9 852.7L407.4 853.8L415.9 854.9L424.4 856L432.8 857.1L431.6 864.7L423.1 863.5L414.7 862.4L406.2 861.4L397.7 860.3L389.2 859.3L380.8 858.3L372.3 857.4ZM558.8 877L567.2 878.5L575.5 880.1L583.8 881.6L592 883.2L600.3 884.9L608.6 886.5L616.8 888.2L625 889.9L633.3 891.6L631.4 899L623.2 897.3L615 895.6L606.7 894L598.5 892.3L590.3 890.7L582 889.1L573.7 887.5L565.5 886L557.2 884.5ZM184.7 827.3L193.4 827.7L202.1 828.2L210.7 828.6L210.2 836.3L201.6 835.8L192.9 835.4L184.3 835ZM219.4 829.1L228 829.6L227.5 837.3L218.8 836.8ZM262.6 831.8L271.2 832.5L279.9 833.1L288.5 833.8L297.1 834.5L305.7 835.3L314.3 836L322.9 836.8L322 844.5L313.5 843.7L304.9 842.9L296.3 842.2L287.7 841.5L279.1 840.8L270.5 840.1L261.9 839.5ZM331.5 837.6L340.1 838.5L339.2 846.1L330.6 845.3ZM391.5 844.1L400 845.1L408.6 846.2L417.1 847.3L425.6 848.4L434.1 849.5L432.8 857.1L424.4 856L415.9 854.9L407.4 853.8L398.9 852.7L390.4 851.7ZM577.2 872.6L585.5 874.2L593.8 875.8L602.1 877.4L610.4 879.1L618.7 880.7L616.8 888.2L608.6 886.5L600.3 884.9L592 883.2L583.8 881.6L575.5 880.1ZM708.8 900.8L716.9 902.8L714.8 910.1L706.7 908.2ZM185.1 819.6L193.8 820L202.5 820.5L211.2 820.9L219.9 821.4L228.6 821.9L228 829.6L219.4 829.1L210.7 828.6L202.1 828.2L193.4 827.7L184.7 827.3ZM272 824.8L280.6 825.5L289.3 826.1L297.9 826.9L306.6 827.6L315.2 828.4L323.8 829.2L332.5 830L341.1 830.8L349.7 831.7L358.3 832.6L366.9 833.5L365.8 841.2L357.3 840.2L348.7 839.4L340.1 838.5L331.5 837.6L322.9 836.8L314.3 836L305.7 835.3L297.1 834.5L288.5 833.8L279.9 833.1L271.2 832.5ZM418.3 839.6L426.9 840.8L435.4 841.9L434.1 849.5L425.6 848.4L417.1 847.3ZM579 865.1L587.3 866.7L595.6 868.3L604 869.9L612.3 871.6L620.6 873.3L618.7 880.7L610.4 879.1L602.1 877.4L593.8 875.8L585.5 874.2L577.2 872.6ZM711 893.5L719.1 895.4L727.2 897.4L735.4 899.5L743.4 901.5L751.5 903.6L749.2 910.9L741.2 908.8L733.1 906.8L725 904.8L716.9 902.8L708.8 900.8ZM185.6 811.9L194.3 812.3L203 812.7L211.8 813.2L220.5 813.7L229.2 814.2L228.6 821.9L219.9 821.4L211.2 820.9L202.5 820.5L193.8 820L185.1 819.6ZM290.1 818.5L298.8 819.2L307.4 819.9L316.1 820.7L324.8 821.5L333.4 822.3L342.1 823.2L350.7 824L359.3 825L368 825.9L366.9 833.5L358.3 832.6L349.7 831.7L341.1 830.8L332.5 830L323.8 829.2L315.2 828.4L306.6 827.6L297.9 826.9L289.3 826.1ZM580.7 857.6L589.1 859.2L597.5 860.8L605.8 862.5L614.1 864.1L622.5 865.8L620.6 873.3L612.3 871.6L604 869.9L595.6 868.3L587.3 866.7L579 865.1ZM713.2 886.1L721.3 888.1L729.5 890.1L737.6 892.1L745.7 894.2L753.8 896.2L761.9 898.3L770 900.5L778 902.6L775.7 909.9L767.6 907.8L759.6 905.7L751.5 903.6L743.4 901.5L735.4 899.5L727.2 897.4L719.1 895.4L711 893.5ZM133.4 802.4L142.2 802.6L141.9 810.4L133.1 810.1ZM203.5 805L212.3 805.5L221 806L229.8 806.5L229.2 814.2L220.5 813.7L211.8 813.2L203 812.7ZM299.6 811.5L308.3 812.2L317 813L325.7 813.8L324.8 821.5L316.1 820.7L307.4 819.9L298.8 819.2ZM351.7 816.4L360.4 817.3L369 818.2L377.7 819.2L386.3 820.2L394.9 821.2L393.8 828.8L385.2 827.8L376.6 826.8L368 825.9L359.3 825L350.7 824ZM582.5 850.1L590.9 851.7L599.3 853.3L607.7 855L616 856.7L624.4 858.4L622.5 865.8L614.1 864.1L605.8 862.5L597.5 860.8L589.1 859.2L580.7 857.6ZM715.4 878.7L723.5 880.7L731.7 882.7L739.9 884.8L748 886.8L756.1 888.9L764.3 891L772.4 893.2L780.4 895.3L788.5 897.5L786.1 904.8L778 902.6L770 900.5L761.9 898.3L753.8 896.2L745.7 894.2L737.6 892.1L729.5 890.1L721.3 888.1L713.2 886.1ZM177.6 796.1L186.4 796.5L186 804.2L177.2 803.8ZM212.8 797.8L221.6 798.2L230.4 798.7L229.8 806.5L221 806L212.3 805.5ZM274.2 801.7L282.9 802.4L282.2 810.1L273.4 809.4ZM352.7 808.7L361.4 809.6L370.1 810.6L378.8 811.5L387.5 812.5L396.1 813.5L404.8 814.6L403.6 822.2L394.9 821.2L386.3 820.2L377.7 819.2L369 818.2L360.4 817.3L351.7 816.4ZM592.7 844.2L601.1 845.8L609.5 847.5L617.9 849.2L626.3 850.9L624.4 858.4L616 856.7L607.7 855L599.3 853.3L590.9 851.7ZM742.2 877.4L750.3 879.5L748 886.8L739.9 884.8ZM758.5 881.6L766.6 883.7L774.7 885.8L782.8 888L790.9 890.2L788.5 897.5L780.4 895.3L772.4 893.2L764.3 891L756.1 888.9ZM142.7 787.1L151.6 787.4L151.2 795.1L142.4 794.9ZM169.2 788L178.1 788.4L186.9 788.7L186.4 796.5L177.6 796.1L168.8 795.8ZM222.2 790.5L231 791L239.8 791.6L239.1 799.3L230.4 798.7L221.6 798.2ZM248.6 792.1L257.4 792.7L266.2 793.3L274.9 794L283.7 794.7L292.5 795.4L291.7 803.1L282.9 802.4L274.2 801.7L265.4 801.1L256.7 800.4L247.9 799.8ZM362.5 801.9L371.2 802.9L379.9 803.9L388.6 804.9L397.3 805.9L406 806.9L404.8 814.6L396.1 813.5L387.5 812.5L378.8 811.5L370.1 810.6L361.4 809.6ZM603 838.3L611.4 840L619.8 841.7L628.2 843.4L636.6 845.1L634.7 852.6L626.3 850.9L617.9 849.2L609.5 847.5L601.1 845.8ZM293.3 787.6L302.1 788.4L301.3 796.1L292.5 795.4ZM363.5 794.3L372.3 795.2L381 796.2L389.7 797.2L398.5 798.2L407.2 799.3L415.9 800.4L424.6 801.5L433.3 802.6L432 810.2L423.3 809.1L414.6 808L406 806.9L397.3 805.9L388.6 804.9L379.9 803.9L371.2 802.9L362.5 801.9ZM604.9 830.8L613.3 832.5L621.8 834.2L630.2 835.9L638.6 837.7L636.6 845.1L628.2 843.4L619.8 841.7L611.4 840L603 838.3ZM730.3 858.6L738.5 860.6L736.2 868L728 866ZM755 864.8L763.2 866.9L760.8 874.2L752.6 872.1ZM303 780.6L311.8 781.4L320.6 782.2L319.7 789.9L310.9 789.1L302.1 788.4ZM347 784.7L355.8 785.6L364.6 786.6L373.4 787.5L382.1 788.5L390.9 789.5L399.7 790.5L408.4 791.6L417.1 792.7L425.9 793.8L434.6 794.9L433.3 802.6L424.6 801.5L415.9 800.4L407.2 799.3L398.5 798.2L389.7 797.2L381 796.2L372.3 795.2L363.5 794.3L354.8 793.3L346 792.4ZM512.6 806.4L521.2 807.8L519.6 815.4L511 814ZM615.2 825L623.7 826.7L632.2 828.4L640.6 830.2L638.6 837.7L630.2 835.9L621.8 834.2L613.3 832.5ZM356.9 777.9L365.7 778.9L374.5 779.8L383.3 780.8L392.1 781.8L400.9 782.9L409.6 783.9L408.4 791.6L399.7 790.5L390.9 789.5L382.1 788.5L373.4 787.5L364.6 786.6L355.8 785.6ZM435.9 787.3L444.6 788.5L443.3 796.1L434.6 794.9ZM496.9 796L505.5 797.4L514.2 798.8L522.8 800.2L521.2 807.8L512.6 806.4L504 805L495.3 803.7ZM617.1 817.4L625.6 819.2L634.1 820.9L642.6 822.7L640.6 830.2L632.2 828.4L623.7 826.7L615.2 825ZM437.2 779.6L446 780.8L454.7 782L463.5 783.2L472.2 784.5L470.8 792.1L462.1 790.9L453.4 789.6L444.6 788.5L435.9 787.3ZM498.4 788.4L507.1 789.8L515.8 791.2L524.4 792.6L522.8 800.2L514.2 798.8L505.5 797.4L496.9 796ZM619.1 809.9L627.6 811.6L636.1 813.4L644.6 815.2L642.6 822.7L634.1 820.9L625.6 819.2L617.1 817.4ZM499.9 780.8L508.7 782.1L517.4 783.5L515.8 791.2L507.1 789.8L498.4 788.4ZM621 802.4L629.6 804.1L638.1 805.9L646.7 807.6L644.6 815.2L636.1 813.4L627.6 811.6L619.1 809.9ZM501.5 773.1L510.2 774.5L519 775.9L517.4 783.5L508.7 782.1L499.9 780.8ZM623 794.8L631.6 796.6L640.1 798.3L648.7 800.1L646.7 807.6L638.1 805.9L629.6 804.1L621 802.4ZM625 787.3L633.6 789L642.2 790.8L650.8 792.6L648.7 800.1L640.1 798.3L631.6 796.6L623 794.8ZM522.3 760.6L531.1 762.1L529.4 769.7L520.6 768.3ZM601 774.6L609.6 776.2L618.3 778L627 779.7L635.6 781.4L644.2 783.2L652.8 785L650.8 792.6L642.2 790.8L633.6 789L625 787.3L616.3 785.5L607.7 783.8L599.1 782.2ZM771.8 813L780.2 815.2L777.7 822.6L769.3 820.5ZM796.9 819.7L805.2 821.9L802.6 829.3L794.3 827ZM399.2 735.5L408.2 736.6L407 744.3L398 743.2ZM523.9 753L532.7 754.4L531.1 762.1L522.3 760.6ZM594.2 765.3L602.9 767L611.6 768.7L620.3 770.4L629 772.1L637.6 773.9L646.3 775.7L654.9 777.5L652.8 785L644.2 783.2L635.6 781.4L627 779.7L618.3 778L609.6 776.2L601 774.6L592.3 772.9ZM799.4 812.3L807.8 814.5L805.2 821.9L796.9 819.7ZM391.5 726.7L400.5 727.7L409.5 728.8L408.2 736.6L399.2 735.5L390.3 734.5ZM525.6 745.3L534.4 746.7L532.7 754.4L523.9 753ZM587.3 756.1L596.1 757.7L604.8 759.4L613.5 761.1L622.3 762.8L631 764.5L639.7 766.3L648.4 768.1L657 769.9L654.9 777.5L646.3 775.7L637.6 773.9L629 772.1L620.3 770.4L611.6 768.7L602.9 767L594.2 765.3L585.4 763.7ZM785.2 800.4L793.6 802.6L802 804.9L799.4 812.3L791 810L782.7 807.8ZM392.7 718.9L401.7 720L410.7 721.1L419.8 722.2L418.5 729.9L409.5 728.8L400.5 727.7L391.5 726.7ZM536.1 739.1L545 740.6L543.3 748.2L534.4 746.7ZM580.4 746.8L589.2 748.4L598 750.1L596.1 757.7L587.3 756.1L578.5 754.4ZM624.3 755.2L633 757L641.7 758.7L650.4 760.6L659.1 762.4L657 769.9L648.4 768.1L639.7 766.3L631 764.5L622.3 762.8ZM796.1 795.2L804.6 797.5L802 804.9L793.6 802.6ZM502.1 725.7L511.1 727.1L520 728.5L518.4 736.2L509.4 734.8L500.5 733.4ZM573.4 737.6L582.2 739.2L591.1 740.8L589.2 748.4L580.4 746.8L571.5 745.2ZM635 749.4L643.8 751.2L652.5 753L650.4 760.6L641.7 758.7L633 757ZM503.7 718L512.7 719.4L511.1 727.1L502.1 725.7ZM575.2 729.9L584.1 731.5L582.2 739.2L573.4 737.6ZM505.3 710.3L514.4 711.7L512.7 719.4L503.7 718ZM577.1 722.3L586 723.9L584.1 731.5L575.2 729.9ZM507 702.5L516 704L514.4 711.7L505.3 710.3ZM579 714.6L587.9 716.2L586 723.9L577.1 722.3ZM508.6 694.8L517.7 696.2L526.7 697.7L535.8 699.1L534.1 706.9L525 705.4L516 704L507 702.5ZM571.9 705.3L580.9 706.9L579 714.6L570 713ZM537.5 691.4L546.6 692.9L544.8 700.6L535.8 699.1ZM564.7 696L573.8 697.6L571.9 705.3L562.9 703.7ZM548.4 685.2L557.5 686.8L566.6 688.3L564.7 696L555.7 694.5L546.6 692.9ZM540 218.4L551.6 219.9L549.3 227.8L537.8 226.3Z"/>
<path fill="#E04028" d="M357.7 901.9L366 902.8L365 910.4L356.7 909.5ZM358.7 894.4L367 895.3L366 902.8L357.7 901.9ZM392.1 898.2L400.4 899.2L408.7 900.3L417.1 901.3L425.4 902.4L424.2 909.9L415.9 908.9L407.6 907.8L399.3 906.7L391 905.7ZM359.7 886.8L368.1 887.7L367 895.3L358.7 894.4ZM393.2 890.6L401.6 891.7L409.9 892.7L418.3 893.8L426.6 894.9L434.9 896L443.2 897.2L451.6 898.3L450.2 905.8L442 904.7L433.7 903.5L425.4 902.4L417.1 901.3L408.7 900.3L400.4 899.2L392.1 898.2ZM114.4 863.6L122.9 863.8L131.4 864L140 864.2L148.5 864.4L157 864.7L165.6 865L165.2 872.7L156.7 872.4L148.2 872.1L139.7 871.8L131.2 871.6L122.7 871.4L114.2 871.2ZM199.7 866.5L208.2 866.9L216.7 867.4L216.2 875L207.7 874.6L199.2 874.1ZM360.7 879.2L369.1 880.1L368.1 887.7L359.7 886.8ZM402.7 884.1L411.1 885.2L419.5 886.2L427.8 887.3L436.2 888.5L444.5 889.6L452.9 890.8L451.6 898.3L443.2 897.2L434.9 896L426.6 894.9L418.3 893.8L409.9 892.7L401.6 891.7ZM519.2 901.1L527.5 902.5L525.9 910L517.7 908.6ZM148.8 856.8L157.4 857.1L165.9 857.4L165.6 865L157 864.7L148.5 864.4ZM200.1 858.9L208.7 859.3L217.2 859.8L225.8 860.2L234.3 860.8L242.8 861.3L251.3 861.9L259.9 862.5L259.2 870.1L250.7 869.5L242.2 868.9L233.7 868.4L225.2 867.9L216.7 867.4L208.2 866.9L199.7 866.5ZM361.7 871.6L370.2 872.6L369.1 880.1L360.7 879.2ZM403.9 876.5L412.3 877.6L420.7 878.7L429.1 879.8L437.4 880.9L445.8 882.1L454.2 883.3L452.9 890.8L444.5 889.6L436.2 888.5L427.8 887.3L419.5 886.2L411.1 885.2L402.7 884.1ZM520.8 893.6L529.1 895.1L537.3 896.5L545.6 897.9L544 905.4L535.7 904L527.5 902.5L519.2 901.1ZM157.7 849.4L166.3 849.7L174.9 850L174.5 857.7L165.9 857.4L157.4 857.1ZM200.6 851.2L209.2 851.6L217.7 852.1L226.3 852.6L225.8 860.2L217.2 859.8L208.7 859.3L200.1 858.9ZM294.7 857.5L303.2 858.2L311.7 859L310.9 866.6L302.4 865.8L293.9 865.1ZM362.7 864L371.2 865L370.2 872.6L361.7 871.6ZM430.3 872.2L438.7 873.4L447.1 874.5L455.5 875.7L454.2 883.3L445.8 882.1L437.4 880.9L429.1 879.8ZM522.3 886.1L530.6 887.6L538.9 889L547.2 890.5L545.6 897.9L537.3 896.5L529.1 895.1L520.8 893.6ZM158 841.7L166.6 842L175.3 842.4L174.9 850L166.3 849.7L157.7 849.4ZM201.1 843.5L209.7 844L218.3 844.4L226.9 844.9L235.5 845.5L234.9 853.1L226.3 852.6L217.7 852.1L209.2 851.6L200.6 851.2ZM304.1 850.6L312.6 851.3L321.1 852.1L320.3 859.7L311.7 859L303.2 858.2ZM363.8 856.4L372.3 857.4L371.2 865L362.7 864ZM431.6 864.7L440 865.8L438.7 873.4L430.3 872.2ZM540.6 881.5L548.9 883L557.2 884.5L555.5 892L547.2 890.5L538.9 889ZM158.3 834L167 834.3L175.6 834.7L175.3 842.4L166.6 842L158 841.7ZM192.9 835.4L201.6 835.8L210.2 836.3L218.8 836.8L227.5 837.3L236.1 837.8L235.5 845.5L226.9 844.9L218.3 844.4L209.7 844L201.1 843.5L192.5 843.1ZM313.5 843.7L322 844.5L321.1 852.1L312.6 851.3ZM356.3 847.9L364.8 848.8L373.3 849.7L372.3 857.4L363.8 856.4L355.3 855.5ZM432.8 857.1L441.3 858.2L440 865.8L431.6 864.7ZM458.2 860.6L466.7 861.8L465.3 869.4L456.9 868.2ZM550.5 875.5L558.8 877L557.2 884.5L548.9 883ZM167.4 826.6L176 827L184.7 827.3L184.3 835L175.6 834.7L167 834.3ZM210.7 828.6L219.4 829.1L218.8 836.8L210.2 836.3ZM228 829.6L236.7 830.1L245.3 830.7L254 831.2L262.6 831.8L261.9 839.5L253.3 838.9L244.7 838.3L236.1 837.8L227.5 837.3ZM322.9 836.8L331.5 837.6L330.6 845.3L322 844.5ZM357.3 840.2L365.8 841.2L374.4 842.1L383 843.1L391.5 844.1L390.4 851.7L381.9 850.7L373.3 849.7L364.8 848.8L356.3 847.9ZM442.6 850.6L451.1 851.8L459.6 853L468 854.3L476.5 855.5L475.1 863.1L466.7 861.8L458.2 860.6L449.8 859.4L441.3 858.2ZM560.5 869.5L568.9 871L577.2 872.6L575.5 880.1L567.2 878.5L558.8 877ZM167.7 818.9L176.4 819.3L185.1 819.6L184.7 827.3L176 827L167.4 826.6ZM228.6 821.9L237.3 822.4L246 823L254.6 823.5L263.3 824.2L272 824.8L271.2 832.5L262.6 831.8L254 831.2L245.3 830.7L236.7 830.1L228 829.6ZM384.1 835.5L392.6 836.5L401.2 837.5L409.8 838.6L418.3 839.6L417.1 847.3L408.6 846.2L400 845.1L391.5 844.1L383 843.1ZM443.9 843L452.4 844.2L460.9 845.4L469.4 846.7L477.9 848L486.4 849.2L484.9 856.8L476.5 855.5L468 854.3L459.6 853L451.1 851.8L442.6 850.6ZM562.2 862L570.6 863.5L579 865.1L577.2 872.6L568.9 871L560.5 869.5ZM176.8 811.6L185.6 811.9L185.1 819.6L176.4 819.3ZM229.2 814.2L237.9 814.7L246.6 815.3L246 823L237.3 822.4L228.6 821.9ZM281.4 817.8L290.1 818.5L289.3 826.1L280.6 825.5ZM385.2 827.8L393.8 828.8L402.4 829.9L411 830.9L409.8 838.6L401.2 837.5L392.6 836.5L384.1 835.5ZM419.6 832L428.1 833.1L436.7 834.3L445.2 835.4L453.8 836.6L462.3 837.9L470.8 839.1L479.4 840.4L487.9 841.7L496.4 843L494.9 850.6L486.4 849.2L477.9 848L469.4 846.7L460.9 845.4L452.4 844.2L443.9 843L435.4 841.9L426.9 840.8L418.3 839.6ZM572.3 856L580.7 857.6L579 865.1L570.6 863.5ZM177.2 803.8L186 804.2L185.6 811.9L176.8 811.6ZM229.8 806.5L238.5 807L247.3 807.6L246.6 815.3L237.9 814.7L229.2 814.2ZM282.2 810.1L290.9 810.8L299.6 811.5L298.8 819.2L290.1 818.5L281.4 817.8ZM325.7 813.8L334.4 814.6L343 815.5L351.7 816.4L350.7 824L342.1 823.2L333.4 822.3L324.8 821.5ZM429.4 825.5L438 826.7L446.6 827.8L455.1 829L463.7 830.3L472.3 831.5L480.8 832.8L489.3 834.1L497.9 835.4L496.4 843L487.9 841.7L479.4 840.4L470.8 839.1L462.3 837.9L453.8 836.6L445.2 835.4L436.7 834.3L428.1 833.1ZM574.1 848.5L582.5 850.1L580.7 857.6L572.3 856ZM168.8 795.8L177.6 796.1L177.2 803.8L168.5 803.5ZM230.4 798.7L239.1 799.3L247.9 799.8L247.3 807.6L238.5 807L229.8 806.5ZM291.7 803.1L300.4 803.8L309.2 804.5L317.9 805.3L326.6 806.1L335.3 807L344 807.8L352.7 808.7L351.7 816.4L343 815.5L334.4 814.6L325.7 813.8L317 813L308.3 812.2L299.6 811.5L290.9 810.8ZM439.3 819L447.9 820.2L456.5 821.4L465.1 822.6L473.7 823.9L482.3 825.2L490.8 826.5L499.4 827.8L507.9 829.2L506.4 836.8L497.9 835.4L489.3 834.1L480.8 832.8L472.3 831.5L463.7 830.3L455.1 829L446.6 827.8L438 826.7ZM584.3 842.6L592.7 844.2L590.9 851.7L582.5 850.1ZM734 875.4L742.2 877.4L739.9 884.8L731.7 882.7ZM151.6 787.4L160.4 787.7L169.2 788L168.8 795.8L160 795.4L151.2 795.1ZM239.8 791.6L248.6 792.1L247.9 799.8L239.1 799.3ZM292.5 795.4L301.3 796.1L310 796.8L318.8 797.6L327.5 798.4L336.3 799.3L345 800.1L353.7 801L362.5 801.9L361.4 809.6L352.7 808.7L344 807.8L335.3 807L326.6 806.1L317.9 805.3L309.2 804.5L300.4 803.8L291.7 803.1ZM440.6 811.4L449.3 812.6L457.9 813.8L466.5 815L475.1 816.3L483.7 817.6L492.3 818.9L500.9 820.2L509.5 821.6L507.9 829.2L499.4 827.8L490.8 826.5L482.3 825.2L473.7 823.9L465.1 822.6L456.5 821.4L447.9 820.2L439.3 819ZM586.1 835L594.5 836.7L603 838.3L601.1 845.8L592.7 844.2L584.3 842.6ZM736.2 868L744.5 870L752.6 872.1L750.3 879.5L742.2 877.4L734 875.4ZM302.1 788.4L310.9 789.1L319.7 789.9L318.8 797.6L310 796.8L301.3 796.1ZM328.5 790.7L337.2 791.6L346 792.4L354.8 793.3L363.5 794.3L362.5 801.9L353.7 801L345 800.1L336.3 799.3L327.5 798.4ZM450.6 804.9L459.3 806.2L467.9 807.4L476.6 808.7L485.2 810L493.8 811.3L502.4 812.6L511 814L509.5 821.6L500.9 820.2L492.3 818.9L483.7 817.6L475.1 816.3L466.5 815L457.9 813.8L449.3 812.6ZM587.9 827.5L596.4 829.1L604.9 830.8L603 838.3L594.5 836.7L586.1 835ZM738.5 860.6L746.8 862.7L755 864.8L752.6 872.1L744.5 870L736.2 868ZM320.6 782.2L329.4 783L338.2 783.9L347 784.7L346 792.4L337.2 791.6L328.5 790.7L319.7 789.9ZM452 797.3L460.7 798.5L469.4 799.8L478 801L486.7 802.3L495.3 803.7L504 805L512.6 806.4L511 814L502.4 812.6L493.8 811.3L485.2 810L476.6 808.7L467.9 807.4L459.3 806.2L450.6 804.9ZM589.7 820L598.2 821.6L606.7 823.3L615.2 825L613.3 832.5L604.9 830.8L596.4 829.1L587.9 827.5ZM740.8 853.2L749.1 855.3L757.3 857.4L765.6 859.5L763.2 866.9L755 864.8L746.8 862.7L738.5 860.6ZM444.6 788.5L453.4 789.6L462.1 790.9L470.8 792.1L479.5 793.4L488.2 794.7L496.9 796L495.3 803.7L486.7 802.3L478 801L469.4 799.8L460.7 798.5L452 797.3L443.3 796.1ZM600.1 814.1L608.6 815.7L617.1 817.4L615.2 825L606.7 823.3L598.2 821.6ZM759.7 850L768 852.2L776.2 854.3L773.8 861.7L765.6 859.5L757.3 857.4ZM602 806.5L610.5 808.2L619.1 809.9L617.1 817.4L608.6 815.7L600.1 814.1ZM753.8 840.5L762.1 842.6L759.7 850L751.4 847.9ZM770.4 844.8L778.6 847L776.2 854.3L768 852.2ZM595.3 797.3L603.9 799L612.5 800.6L621 802.4L619.1 809.9L610.5 808.2L602 806.5L593.4 804.9ZM756.2 833.1L764.5 835.3L762.1 842.6L753.8 840.5ZM781.1 839.6L789.3 841.8L786.9 849.1L778.6 847ZM519 775.9L527.7 777.3L526.1 785L517.4 783.5ZM588.5 788.1L597.2 789.7L605.8 791.4L614.4 793.1L623 794.8L621 802.4L612.5 800.6L603.9 799L595.3 797.3L586.7 795.7ZM783.5 832.2L791.8 834.4L789.3 841.8L781.1 839.6ZM520.6 768.3L529.4 769.7L527.7 777.3L519 775.9ZM590.4 780.5L599.1 782.2L607.7 783.8L616.3 785.5L625 787.3L623 794.8L614.4 793.1L605.8 791.4L597.2 789.7L588.5 788.1ZM769.3 820.5L777.7 822.6L775.2 830L766.9 827.9ZM583.6 771.3L592.3 772.9L601 774.6L599.1 782.2L590.4 780.5L581.7 778.9ZM567.9 760.5L576.7 762.1L585.4 763.7L594.2 765.3L592.3 772.9L583.6 771.3L574.8 769.7L566.1 768.1ZM782.7 807.8L791 810L799.4 812.3L796.9 819.7L788.5 817.4L780.2 815.2ZM534.4 746.7L543.3 748.2L541.5 755.9L532.7 754.4ZM560.9 751.3L569.7 752.8L578.5 754.4L587.3 756.1L585.4 763.7L576.7 762.1L567.9 760.5L559.1 758.9ZM562.7 743.6L571.5 745.2L580.4 746.8L578.5 754.4L569.7 752.8L560.9 751.3ZM564.5 736L573.4 737.6L571.5 745.2L562.7 743.6ZM512.7 719.4L521.7 720.8L520 728.5L511.1 727.1ZM566.3 728.3L575.2 729.9L573.4 737.6L564.5 736ZM514.4 711.7L523.4 713.1L521.7 720.8L512.7 719.4ZM516 704L525 705.4L534.1 706.9L543.1 708.3L541.3 716L532.3 714.6L523.4 713.1L514.4 711.7ZM570 713L579 714.6L577.1 722.3L568.2 720.7ZM535.8 699.1L544.8 700.6L553.9 702.2L552.1 709.9L543.1 708.3L534.1 706.9ZM562.9 703.7L571.9 705.3L570 713L561.1 711.4ZM546.6 692.9L555.7 694.5L564.7 696L562.9 703.7L553.9 702.2L544.8 700.6Z"/>
<path fill="#D62428" d="M451.6 898.3L459.9 899.5L468.2 900.8L476.4 902L484.7 903.3L483.3 910.8L475 909.5L466.8 908.3L458.5 907L450.2 905.8ZM452.9 890.8L461.2 892L469.5 893.2L477.8 894.5L486.1 895.8L494.4 897.1L502.7 898.4L511 899.8L519.2 901.1L517.7 908.6L509.5 907.2L501.2 905.9L493 904.6L484.7 903.3L476.4 902L468.2 900.8L459.9 899.5L451.6 898.3ZM114.5 855.9L123.1 856.1L131.7 856.3L140.2 856.5L148.8 856.8L148.5 864.4L140 864.2L131.4 864L122.9 863.8L114.4 863.6ZM454.2 883.3L462.5 884.5L470.9 885.7L479.2 887L487.6 888.3L495.9 889.6L504.2 890.9L512.5 892.3L520.8 893.6L519.2 901.1L511 899.8L502.7 898.4L494.4 897.1L486.1 895.8L477.8 894.5L469.5 893.2L461.2 892L452.9 890.8ZM114.7 848.3L123.3 848.4L131.9 848.6L131.7 856.3L123.1 856.1L114.5 855.9ZM421.9 871.1L430.3 872.2L429.1 879.8L420.7 878.7ZM455.5 875.7L463.9 876.9L472.3 878.2L480.6 879.4L489 880.7L497.4 882.1L505.7 883.4L504.2 890.9L495.9 889.6L487.6 888.3L479.2 887L470.9 885.7L462.5 884.5L454.2 883.3ZM114.9 840.6L123.5 840.7L132.1 840.9L131.9 848.6L123.3 848.4L114.7 848.3ZM423.1 863.5L431.6 864.7L430.3 872.2L421.9 871.1ZM440 865.8L448.4 867L456.9 868.2L465.3 869.4L473.7 870.6L482.1 871.9L490.5 873.2L498.8 874.5L497.4 882.1L489 880.7L480.6 879.4L472.3 878.2L463.9 876.9L455.5 875.7L447.1 874.5L438.7 873.4ZM532.2 880.1L540.6 881.5L538.9 889L530.6 887.6ZM115.1 832.9L123.7 833.1L132.4 833.3L132.1 840.9L123.5 840.7L114.9 840.6ZM441.3 858.2L449.8 859.4L458.2 860.6L456.9 868.2L448.4 867L440 865.8ZM466.7 861.8L475.1 863.1L483.5 864.4L491.9 865.7L500.3 867L498.8 874.5L490.5 873.2L482.1 871.9L473.7 870.6L465.3 869.4ZM542.2 874L550.5 875.5L548.9 883L540.6 881.5ZM115.3 825.2L123.9 825.4L132.6 825.6L141.3 825.8L141 833.5L132.4 833.3L123.7 833.1L115.1 832.9ZM158.7 826.3L167.4 826.6L167 834.3L158.3 834ZM476.5 855.5L484.9 856.8L493.4 858.1L501.8 859.4L500.3 867L491.9 865.7L483.5 864.4L475.1 863.1ZM552.2 868L560.5 869.5L558.8 877L550.5 875.5ZM115.4 817.5L124.2 817.6L132.9 817.8L141.6 818.1L141.3 825.8L132.6 825.6L123.9 825.4L115.3 825.2ZM486.4 849.2L494.9 850.6L503.3 851.9L501.8 859.4L493.4 858.1L484.9 856.8ZM553.8 860.5L562.2 862L560.5 869.5L552.2 868ZM115.6 809.7L124.4 809.9L133.1 810.1L141.9 810.4L150.6 810.6L150.3 818.3L141.6 818.1L132.9 817.8L124.2 817.6L115.4 817.5ZM246.6 815.3L255.3 815.9L264 816.5L272.7 817.1L281.4 817.8L280.6 825.5L272 824.8L263.3 824.2L254.6 823.5L246 823ZM411 830.9L419.6 832L418.3 839.6L409.8 838.6ZM496.4 843L504.8 844.3L503.3 851.9L494.9 850.6ZM563.9 854.5L572.3 856L570.6 863.5L562.2 862ZM142.2 802.6L150.9 802.9L150.6 810.6L141.9 810.4ZM168.5 803.5L177.2 803.8L176.8 811.6L168.1 811.2ZM247.3 807.6L256 808.1L264.7 808.8L273.4 809.4L282.2 810.1L281.4 817.8L272.7 817.1L264 816.5L255.3 815.9L246.6 815.3ZM394.9 821.2L403.6 822.2L412.2 823.3L420.8 824.4L429.4 825.5L428.1 833.1L419.6 832L411 830.9L402.4 829.9L393.8 828.8ZM497.9 835.4L506.4 836.8L514.9 838.1L523.4 839.5L521.8 847.1L513.3 845.7L504.8 844.3L496.4 843ZM565.7 846.9L574.1 848.5L572.3 856L563.9 854.5ZM142.4 794.9L151.2 795.1L150.9 802.9L142.2 802.6ZM247.9 799.8L256.7 800.4L265.4 801.1L274.2 801.7L273.4 809.4L264.7 808.8L256 808.1L247.3 807.6ZM282.9 802.4L291.7 803.1L290.9 810.8L282.2 810.1ZM430.7 817.9L439.3 819L438 826.7L429.4 825.5ZM507.9 829.2L516.4 830.6L525 832L523.4 839.5L514.9 838.1L506.4 836.8ZM575.9 841L584.3 842.6L582.5 850.1L574.1 848.5ZM406 806.9L414.6 808L413.4 815.7L404.8 814.6ZM432 810.2L440.6 811.4L439.3 819L430.7 817.9ZM509.5 821.6L518 823L526.6 824.4L525 832L516.4 830.6L507.9 829.2ZM577.6 833.5L586.1 835L584.3 842.6L575.9 841ZM319.7 789.9L328.5 790.7L327.5 798.4L318.8 797.6ZM433.3 802.6L441.9 803.8L450.6 804.9L449.3 812.6L440.6 811.4L432 810.2ZM511 814L519.6 815.4L528.2 816.8L536.8 818.3L535.1 825.9L526.6 824.4L518 823L509.5 821.6ZM579.4 825.9L587.9 827.5L586.1 835L577.6 833.5ZM434.6 794.9L443.3 796.1L452 797.3L450.6 804.9L441.9 803.8L433.3 802.6ZM521.2 807.8L529.8 809.2L538.4 810.7L547 812.2L545.3 819.8L536.8 818.3L528.2 816.8L519.6 815.4ZM581.2 818.4L589.7 820L587.9 827.5L579.4 825.9ZM522.8 800.2L531.5 801.6L540.1 803.1L548.7 804.6L547 812.2L538.4 810.7L529.8 809.2L521.2 807.8ZM583 810.8L591.6 812.4L600.1 814.1L598.2 821.6L589.7 820L581.2 818.4ZM524.4 792.6L533.1 794L541.8 795.5L550.4 797L559 798.5L557.3 806.1L548.7 804.6L540.1 803.1L531.5 801.6L522.8 800.2ZM576.3 801.6L584.8 803.2L593.4 804.9L602 806.5L600.1 814.1L591.6 812.4L583 810.8L574.5 809.2ZM762.1 842.6L770.4 844.8L768 852.2L759.7 850ZM517.4 783.5L526.1 785L534.8 786.4L543.5 787.9L552.1 789.4L560.8 790.9L569.4 792.5L578.1 794.1L586.7 795.7L595.3 797.3L593.4 804.9L584.8 803.2L576.3 801.6L567.6 800.1L559 798.5L550.4 797L541.8 795.5L533.1 794L524.4 792.6L515.8 791.2ZM764.5 835.3L772.8 837.4L781.1 839.6L778.6 847L770.4 844.8L762.1 842.6ZM527.7 777.3L536.4 778.8L545.2 780.3L553.9 781.8L562.5 783.3L571.2 784.9L579.9 786.5L588.5 788.1L586.7 795.7L578.1 794.1L569.4 792.5L560.8 790.9L552.1 789.4L543.5 787.9L534.8 786.4L526.1 785ZM766.9 827.9L775.2 830L783.5 832.2L781.1 839.6L772.8 837.4L764.5 835.3ZM529.4 769.7L538.1 771.2L546.9 772.7L555.6 774.2L564.3 775.7L573 777.3L581.7 778.9L590.4 780.5L588.5 788.1L579.9 786.5L571.2 784.9L562.5 783.3L553.9 781.8L545.2 780.3L536.4 778.8L527.7 777.3ZM777.7 822.6L786 824.8L794.3 827L791.8 834.4L783.5 832.2L775.2 830ZM531.1 762.1L539.8 763.5L548.6 765L557.4 766.6L566.1 768.1L574.8 769.7L583.6 771.3L581.7 778.9L573 777.3L564.3 775.7L555.6 774.2L546.9 772.7L538.1 771.2L529.4 769.7ZM780.2 815.2L788.5 817.4L796.9 819.7L794.3 827L786 824.8L777.7 822.6ZM532.7 754.4L541.5 755.9L550.3 757.4L559.1 758.9L567.9 760.5L566.1 768.1L557.4 766.6L548.6 765L539.8 763.5L531.1 762.1ZM543.3 748.2L552.1 749.7L560.9 751.3L559.1 758.9L550.3 757.4L541.5 755.9ZM545 740.6L553.9 742.1L562.7 743.6L560.9 751.3L552.1 749.7L543.3 748.2ZM520 728.5L528.9 729.9L537.8 731.4L536.1 739.1L527.2 737.6L518.4 736.2ZM555.6 734.4L564.5 736L562.7 743.6L553.9 742.1ZM521.7 720.8L530.6 722.2L539.6 723.7L537.8 731.4L528.9 729.9L520 728.5ZM557.4 726.8L566.3 728.3L564.5 736L555.6 734.4ZM523.4 713.1L532.3 714.6L541.3 716L539.6 723.7L530.6 722.2L521.7 720.8ZM559.2 719.1L568.2 720.7L577.1 722.3L575.2 729.9L566.3 728.3L557.4 726.8ZM543.1 708.3L552.1 709.9L561.1 711.4L570 713L568.2 720.7L559.2 719.1L550.3 717.6L541.3 716ZM553.9 702.2L562.9 703.7L561.1 711.4L552.1 709.9Z"/>
<path fill="#C01C24" d="M131.9 848.6L140.5 848.9L149.1 849.1L157.7 849.4L157.4 857.1L148.8 856.8L140.2 856.5L131.7 856.3ZM505.7 883.4L514 884.8L522.3 886.1L520.8 893.6L512.5 892.3L504.2 890.9ZM132.1 840.9L140.8 841.2L149.4 841.4L158 841.7L157.7 849.4L149.1 849.1L140.5 848.9L131.9 848.6ZM498.8 874.5L507.2 875.9L515.6 877.2L523.9 878.6L532.2 880.1L530.6 887.6L522.3 886.1L514 884.8L505.7 883.4L497.4 882.1ZM132.4 833.3L141 833.5L149.7 833.7L158.3 834L158 841.7L149.4 841.4L140.8 841.2L132.1 840.9ZM500.3 867L508.7 868.3L517.1 869.7L525.5 871.1L533.8 872.6L542.2 874L540.6 881.5L532.2 880.1L523.9 878.6L515.6 877.2L507.2 875.9L498.8 874.5ZM141.3 825.8L150 826L158.7 826.3L158.3 834L149.7 833.7L141 833.5ZM501.8 859.4L510.2 860.8L518.6 862.2L527 863.6L535.4 865L543.8 866.5L552.2 868L550.5 875.5L542.2 874L533.8 872.6L525.5 871.1L517.1 869.7L508.7 868.3L500.3 867ZM503.3 851.9L511.8 853.3L520.2 854.7L528.6 856.1L537.1 857.5L535.4 865L527 863.6L518.6 862.2L510.2 860.8L501.8 859.4ZM545.5 859L553.8 860.5L552.2 868L543.8 866.5ZM168.1 811.2L176.8 811.6L176.4 819.3L167.7 818.9ZM504.8 844.3L513.3 845.7L521.8 847.1L530.2 848.5L538.7 850L537.1 857.5L528.6 856.1L520.2 854.7L511.8 853.3L503.3 851.9ZM555.5 852.9L563.9 854.5L562.2 862L553.8 860.5ZM523.4 839.5L531.9 841L540.3 842.4L538.7 850L530.2 848.5L521.8 847.1ZM557.2 845.4L565.7 846.9L563.9 854.5L555.5 852.9ZM151.2 795.1L160 795.4L168.8 795.8L168.5 803.5L159.7 803.2L150.9 802.9ZM404.8 814.6L413.4 815.7L422.1 816.8L430.7 817.9L429.4 825.5L420.8 824.4L412.2 823.3L403.6 822.2ZM525 832L533.5 833.4L542 834.9L540.3 842.4L531.9 841L523.4 839.5ZM567.4 839.4L575.9 841L574.1 848.5L565.7 846.9ZM414.6 808L423.3 809.1L432 810.2L430.7 817.9L422.1 816.8L413.4 815.7ZM526.6 824.4L535.1 825.9L543.6 827.3L552.2 828.8L550.5 836.4L542 834.9L533.5 833.4L525 832ZM569.1 831.9L577.6 833.5L575.9 841L567.4 839.4ZM536.8 818.3L545.3 819.8L553.9 821.3L562.4 822.8L560.7 830.3L552.2 828.8L543.6 827.3L535.1 825.9ZM570.9 824.3L579.4 825.9L577.6 833.5L569.1 831.9ZM547 812.2L555.6 813.7L564.1 815.2L572.7 816.8L581.2 818.4L579.4 825.9L570.9 824.3L562.4 822.8L553.9 821.3L545.3 819.8ZM548.7 804.6L557.3 806.1L565.9 807.6L574.5 809.2L583 810.8L581.2 818.4L572.7 816.8L564.1 815.2L555.6 813.7L547 812.2ZM559 798.5L567.6 800.1L576.3 801.6L574.5 809.2L565.9 807.6L557.3 806.1ZM537.8 731.4L546.8 732.9L555.6 734.4L553.9 742.1L545 740.6L536.1 739.1ZM539.6 723.7L548.5 725.2L557.4 726.8L555.6 734.4L546.8 732.9L537.8 731.4ZM541.3 716L550.3 717.6L559.2 719.1L557.4 726.8L548.5 725.2L539.6 723.7Z"/>
<path fill="#A81820" d="M141.6 818.1L150.3 818.3L159 818.6L167.7 818.9L167.4 826.6L158.7 826.3L150 826L141.3 825.8ZM537.1 857.5L545.5 859L543.8 866.5L535.4 865ZM150.6 810.6L159.4 810.9L168.1 811.2L167.7 818.9L159 818.6L150.3 818.3ZM538.7 850L547.1 851.4L555.5 852.9L553.8 860.5L545.5 859L537.1 857.5ZM150.9 802.9L159.7 803.2L168.5 803.5L168.1 811.2L159.4 810.9L150.6 810.6ZM540.3 842.4L548.8 843.9L557.2 845.4L555.5 852.9L547.1 851.4L538.7 850ZM542 834.9L550.5 836.4L558.9 837.9L567.4 839.4L565.7 846.9L557.2 845.4L548.8 843.9L540.3 842.4ZM552.2 828.8L560.7 830.3L569.1 831.9L567.4 839.4L558.9 837.9L550.5 836.4ZM562.4 822.8L570.9 824.3L569.1 831.9L560.7 830.3Z"/>
</g>
<g fill="none" stroke="#000" stroke-width="1.1" stroke-linejoin="round" stroke-linecap="round" clip-path="url(#fc)">
<path d="M233.7 184.7L246.6 194.1L254.8 188.2L272.3 187.0L281.7 190.5L289.9 195.2L302.8 184.7M326.2 184.7L336.8 190.5L346.2 194.1L346.9 197.6L350.9 198.3L352.0 202.3L360.0 204.6L367.0 205.8L368.2 215.2L370.5 223.4L360.0 229.2L356.7 231.6L354.4 231.1L355.5 228.0L350.9 224.5L342.7 221.7L330.9 221.2L319.2 222.2L309.8 226.4L305.2 229.7L298.6 230.4L298.1 228.8L291.1 229.2L289.9 234.4L274.7 235.8L264.1 239.8L257.1 248.0L255.5 254.5L250.1 255.5L239.5 262.5L230.2 264.4L218.4 264.8L207.9 263.2L202.0 266.7L195.0 274.9L183.3 280.8L173.9 284.3L157.5 283.1L143.4 280.3L135.2 275.6L124.7 274.9M520.1 423.0L524.1 420.0L531.1 414.4L545.2 408.5L559.2 403.8L569.8 393.3L575.6 383.9L579.1 380.4L587.3 377.3L592.0 379.2L596.7 384.4L600.0 386.2M391.6 420.0L402.2 408.5L410.4 403.8L422.1 406.9L429.1 406.2L431.0 400.3L432.2 406.2L437.3 409.2L443.2 410.9L438.5 412.0L443.2 414.4L442.5 420.0M709.0 184.7L712.0 190.5L717.2 192.9L731.2 191.7L745.3 192.9L761.7 191.7L766.4 185.9M826.2 184.7L830.9 192.9L828.5 197.6L818.0 202.3L812.1 205.8L813.8 210.5L809.8 212.8L807.4 222.2L803.9 230.4L803.9 236.2L799.2 240.9L794.5 248.0L789.8 252.7L788.7 257.3L780.5 263.2L778.6 272.6L774.6 276.1L772.3 274.9M772.3 274.9L769.9 269.1L761.7 267.2L750.0 267.9L745.8 270.2L746.5 276.1L750.0 278.4L748.8 285.5L752.3 289.0L756.6 292.0L760.5 289.0L766.4 284.3L769.9 279.6L772.3 274.9M745.8 270.2L740.6 267.9L734.8 273.8L726.6 277.3L713.7 282.0L718.4 290.2L720.7 301.9L720.0 318.3L723.0 327.7L721.9 333.5L716.0 339.4L709.0 344.1L697.3 346.9L696.6 349.2L702.0 352.3L703.1 361.6M600.0 386.2L611.7 388.1L623.4 389.3L629.3 383.9L623.4 376.9L624.6 371.0L632.8 369.4L649.2 367.5L659.8 360.5L665.6 357.7L672.7 357.0L676.2 352.3L677.3 346.4L680.9 342.9L687.9 342.9L692.6 347.6L696.6 349.2M840.0 325.3L825.0 332.3L810.9 339.4L799.2 344.1L787.5 347.6L779.3 349.2L775.8 345.9L772.3 346.9L768.8 342.9L761.7 344.1L758.2 341.7L756.6 333.5L754.7 330.0L750.0 334.7L743.0 341.7L731.2 347.6L721.9 353.4L719.5 349.9L710.2 351.1L704.3 349.9L703.1 361.6L697.3 365.2L690.2 369.8L682.0 375.7L675.0 383.9L673.1 390.9L677.3 395.6L674.5 405.0L665.6 408.5L656.2 414.4L650.4 420.0M360.0 435.2L354.4 438.8L350.9 444.6L349.7 450.5L342.7 455.2L335.6 458.7L328.6 462.2L323.9 461.0L319.2 463.4L315.7 459.8L311.0 457.5L305.2 458.7L301.6 462.2L298.1 470.4L297.7 477.4L301.6 484.5L309.8 488.0L319.2 490.3L329.8 489.1L336.8 488.0L339.1 493.8L342.7 498.5L343.8 503.2L340.3 509.1L341.5 516.1L346.2 519.6L354.4 521.2L360.0 522.0M360.0 577.0L354.4 579.4L350.9 584.1L348.5 588.8L347.8 594.6L352.0 597.0L355.5 600.5L360.0 601.6M360.0 435.6L369.4 432.5L378.8 429.4L388.1 426.2L390.5 421.6L391.2 420.0M442.0 420.0L438.1 426.2L430.3 433.3L422.5 436.4L418.6 440.3L420.2 443.4L416.2 445.0L411.6 447.3L413.9 449.7L418.6 450.5L419.4 452.8L428.8 451.2L432.7 452.0L424.1 455.2L422.5 458.3L424.8 461.4L421.7 463.8L413.9 465.3L408.4 466.1L407.3 468.4L409.2 472.3L414.7 470.3L422.5 468.4L427.2 466.9L429.5 463.8L433.4 463.0L438.1 459.1L444.4 453.6L450.6 450.5L456.9 446.6L466.2 443.4L475.6 439.5L483.4 438.4L486.6 435.6L489.7 437.5L497.5 438.0L504.5 436.4L505.3 433.3L510.0 429.4L516.2 425.5L520.0 423.1M504.5 436.4L507.7 435.6L512.3 438.8L516.2 441.9L517.8 445.8L516.2 449.7L520.0 447.3M360.0 521.6L367.0 520.0L369.4 515.3L375.6 511.4L381.9 505.2L389.7 502.0L395.9 500.5L401.4 500.9L406.1 505.2L411.6 507.5L416.2 508.3L419.4 511.4L425.6 512.5L431.9 511.4L438.1 509.1L439.7 511.4L444.4 512.5L450.6 513.4L455.6 513.4L453.8 517.7L453.0 520.8L450.6 523.9L452.2 527.0L447.5 530.2L442.8 531.2L440.5 527.8L440.9 525.0L437.3 527.8L433.4 526.6L428.8 529.4L422.5 531.7L419.4 531.2L413.1 534.8L406.9 536.4L400.6 537.2L397.5 540.3L400.6 541.1L399.8 545.0L395.2 547.3L393.6 551.2L389.7 554.4L385.8 553.6L380.3 556.7L378.8 560.6L374.8 563.0L369.4 566.9L363.1 570.0L360.0 573.9M520.0 440.3L526.2 443.4L534.1 445.8L540.3 446.6L543.4 443.4L546.6 445.0L541.9 447.3L539.5 451.2L540.3 455.9L537.2 460.6L534.8 466.9L536.4 470.8L545.0 473.1L538.8 473.9L533.3 476.2L527.8 480.2L524.7 484.1L526.2 487.2L523.1 489.5L520.0 491.1L527.8 492.7L534.1 494.2L536.4 497.3L541.9 496.6L538.8 499.7L543.4 500.5L547.3 498.1L545.0 495.0L549.7 493.4L553.6 495.0L556.7 498.9L560.6 497.3L563.8 500.5L566.9 498.9L570.0 501.2L573.1 498.1L576.2 500.5L579.4 497.3M579.4 497.3L582.5 494.2L588.8 488.8L596.6 484.8L607.5 484.1L620.0 484.1L627.8 482.5L630.9 477.8L632.5 474.7M649.7 420.0L641.9 423.1L640.3 426.2L632.5 429.4L623.1 430.9L616.9 434.8L609.1 438.0L605.9 441.9L606.7 446.6L607.5 450.5L603.6 452.0L602.8 456.7L607.5 459.1L613.8 460.6L620.0 466.9L627.8 472.3L632.5 474.7L635.6 479.4L640.3 487.2L645.0 495.0L649.7 501.2L655.9 509.1L660.6 515.3L664.5 522.3L666.1 529.4L666.9 537.2L666.1 545.0L665.3 551.2L670.0 555.9L668.4 562.2L667.7 568.4L663.8 574.7L660.6 580.0M579.6 499.5L581.5 502.5L578.6 504.4L575.7 503.4L573.7 505.4L576.6 507.3L579.6 506.4L582.5 508.3L584.0 512.2L583.5 515.2L585.4 517.1L582.5 519.1L584.5 522.0L587.4 523.0L589.3 525.9L587.4 528.8L590.3 528.3L587.4 531.8L585.4 529.8L583.5 526.9L580.5 525.9L577.6 526.9L575.7 524.9L572.7 527.9L574.7 529.8L570.8 530.8L568.8 533.7L565.9 532.7L563.0 535.7L566.9 537.6L569.8 536.6L572.7 538.6L574.7 542.5L575.7 548.4L577.6 552.3L580.5 555.2L584.5 554.2L587.4 553.2L583.5 557.1L579.6 558.1L577.6 561.1L580.5 563.0L583.5 561.1L581.5 565.0L577.6 566.9L574.7 569.8L575.7 572.8L577.6 570.8L574.7 575.7L572.7 580.0M563.9 500.0L566.9 499.0L570.3 500.5L570.8 503.4L567.9 504.9L564.4 503.9L563.9 500.0M712.5 510.6L712.1 511.5L711.1 512.0L709.8 512.0L708.8 511.5L708.4 510.6L708.8 509.8L709.8 509.3L711.1 509.3L712.1 509.8ZM788.8 549.2L788.2 550.9L786.6 551.9L784.7 551.9L783.1 550.9L782.5 549.2L783.1 547.6L784.7 546.5L786.6 546.5L788.2 547.6ZM780.3 555.6L779.4 556.2L778.0 556.2L776.7 555.4L775.9 554.3L775.9 553.2L776.8 552.5L778.2 552.6L779.6 553.3L780.4 554.5ZM762.8 580.0L766.7 574.7L773.8 572.3L780.0 570.0L784.7 570.8L786.2 572.8L792.5 571.9L803.4 572.3L812.8 570.8L820.6 567.7L830.0 566.9L840.0 566.1M360.0 601.1L366.2 603.4L374.1 606.6L380.3 608.9L383.4 614.4L386.6 622.2L389.7 630.0L393.6 637.8L396.7 645.6L399.8 650.3L401.4 655.0L399.8 659.7L403.0 662.8L408.4 665.2L413.9 667.5L417.0 671.4L417.8 676.1L421.7 678.4L426.4 680.8L430.3 684.7L432.7 689.4L431.1 691.2L425.6 690.2L419.4 687.8L413.1 685.5L410.0 686.2L406.9 687.8L410.0 689.4L416.2 691.7L422.5 694.8L428.8 696.4L431.9 698.0L429.5 699.5L425.6 698.0M376.4 682.8L380.3 683.1L385.0 680.0L389.7 678.8L395.9 680.0L399.1 683.9L405.3 687.8L411.6 691.7L417.8 694.8L424.1 698.0L428.8 700.3L431.1 702.7L428.0 701.9L422.5 700.0L416.2 697.2L410.0 694.1L403.8 690.2L397.5 687.0L393.6 682.3L388.1 680.8L383.4 682.3L376.4 683.4M431.1 702.7L429.5 705.0L431.1 709.7L432.7 714.4L428.8 716.7L422.5 718.3L414.7 719.8L406.9 723.8L400.6 727.7L397.5 730.8L391.2 732.3L385.0 731.6L381.9 733.9L383.4 737.8L387.3 740.0M385.0 731.6L391.2 734.7L393.6 737.8L400.6 735.5L406.9 733.9L413.1 734.7L417.8 737.0L420.9 740.0M570.7 580.0L569.3 583.4L567.0 586.9L563.4 590.4L559.9 593.9L562.3 597.4L559.3 600.9L563.4 604.5L569.3 603.3L574.0 607.4L578.7 609.1L582.2 605.6L586.9 607.4L590.4 603.3L592.7 599.8L596.2 600.9L598.6 597.4L602.1 598.6L603.9 595.1L608.0 593.9L610.3 590.4L615.0 591.6L618.5 589.2L622.0 592.7L626.7 590.4L631.4 592.7L634.9 590.4L639.6 593.9L643.1 592.7L644.3 589.2L649.0 586.9L654.8 584.5L660.0 581.0M557.6 595.1L561.1 593.3L564.6 595.1L563.4 598.6L559.9 599.8L557.6 598.0L557.6 595.1M565.2 591.6L569.3 590.4L572.8 592.1L571.6 595.7L567.5 596.2L565.2 594.5L565.2 591.6M556.4 600.9L559.3 602.1L558.8 605.6L555.8 605.0L556.4 600.9M567.0 598.6L571.6 598.0L575.2 600.4L572.8 603.9L568.7 603.3L567.0 600.9L567.0 598.6M575.2 610.3L578.7 609.7L580.4 612.7L578.1 615.0L575.2 613.8L575.2 610.3M579.8 605.6L583.9 603.9L586.9 605.6L585.1 609.1L581.0 609.1L579.8 605.6M591.6 600.9L595.1 599.2L598.0 600.9L596.2 604.5L592.7 604.5L591.6 600.9M605.6 596.2L609.1 595.1L612.1 597.4L610.3 600.4L606.8 599.8L605.6 596.2M615.0 592.7L618.5 592.1L620.9 594.5L618.5 597.4L615.6 596.2L615.0 592.7M629.1 591.6L632.6 591.0L634.3 593.3L632.6 595.7L629.6 595.1L629.1 591.6M568.4 642.5L571.6 638.6L576.2 635.5L582.5 633.1L587.2 633.9L588.8 636.2L586.4 640.2L580.9 642.5L574.7 644.1L570.0 644.4L568.4 642.5M666.9 597.2L667.7 600.3L665.3 605.0L663.0 611.2L660.6 615.2L658.3 615.9L659.1 611.2L661.4 606.6L663.0 601.9L664.5 598.0L666.9 597.2M640.3 662.0L645.0 658.1L649.7 655.0L654.4 650.3L657.5 645.6L655.9 642.5L652.8 647.2L649.7 651.9L645.0 656.6L641.1 659.7L640.3 662.0M680.0 626.9L674.7 630.0L670.0 634.7L666.9 639.4L670.0 642.5L673.9 645.6L671.6 648.8L675.5 651.9L677.8 656.6L676.2 661.2L680.0 662.8M680.0 684.7L676.2 687.8L673.9 691.7L675.5 693.3L678.6 689.4L680.0 687.8M762.8 580.0L755.0 586.2L747.2 592.5L739.4 597.2L733.1 598.8L726.9 603.4L720.6 605.8L713.6 606.6L710.5 608.1L709.7 613.6L711.2 617.5M711.2 617.5L715.9 619.1L720.6 619.8L726.9 617.5L733.1 618.3L739.4 617.5L742.5 620.6L747.2 622.2L751.9 619.1L752.7 613.6L755.0 609.7L758.1 608.1L761.2 609.7L762.8 614.4L767.5 613.6L773.8 612.0L780.0 609.7L783.1 607.3L789.4 605.8L795.6 603.4L800.3 601.9L805.0 600.3L809.7 599.5L812.8 597.2L817.5 595.6L823.8 594.8L830.0 595.6L836.2 598.0L840.0 599.5M758.1 635.5L764.4 630.0L770.6 625.3L773.8 619.1L776.9 616.7L781.6 619.1L786.2 620.6L792.5 619.1L796.4 615.2L795.6 611.2L800.3 608.1L808.1 605.8L814.4 603.4L819.1 601.9L817.5 605.8L820.6 609.7L825.3 611.2L826.9 615.9L826.1 620.6L830.0 624.5L826.9 626.9L820.6 630.0L815.9 634.7L813.6 641.7L808.1 637.8L803.4 634.7L795.6 633.9L789.4 637.0L784.7 640.2L781.6 645.6L778.4 650.3L776.1 653.4L777.7 658.1L770.6 657.3L766.7 655.0L764.4 651.9L760.5 648.8L759.7 644.1L761.2 640.2L758.1 635.5M747.2 639.4L753.4 636.2L761.2 631.6L769.1 626.9L775.3 622.2L780.0 617.5M829.2 611.2L833.9 605.0L840.0 601.1M830.0 612.0L836.2 610.5L840.0 608.1M716.7 717.5L717.5 722.2L715.2 728.4L712.0 732.3L710.5 730.8L712.8 725.3L714.7 719.8L716.7 717.5M704.4 732.3L703.5 734.4L701.4 735.6L698.6 735.6L696.5 734.4L695.6 732.3L696.5 730.3L698.6 729.1L701.4 729.1L703.5 730.3ZM422.5 740.0L427.2 743.1L431.9 741.6L436.6 744.7L441.2 742.3L445.9 740.8L449.1 745.5L445.2 749.4L441.2 752.5L436.6 751.7L433.4 754.8L428.8 755.6L424.1 758.0L418.6 758.8L417.8 761.1L422.5 760.3L428.8 758.8L433.4 759.5L432.7 763.4L428.8 765.8L422.5 767.3L419.4 770.5L421.7 773.6L424.1 777.5L421.7 781.4L417.0 784.5L421.7 786.1L423.3 790.0L424.1 795.5L419.4 794.7L414.7 797.8L411.6 795.5L408.4 794.7L406.1 800.2L402.2 804.8L391.2 803.3L399.8 807.2L396.7 811.1L393.6 816.6L391.2 821.2L388.9 826.7L385.0 830.6L381.9 833.8L377.2 837.7L372.5 840.8L367.8 843.1L363.1 844.7L360.0 846.2M360.0 841.6L364.7 842.3L369.4 840.8L374.1 843.1L376.4 847.0L373.3 850.2L368.6 849.4L364.7 851.7L360.0 850.9M360.0 858.8L364.7 855.6L369.4 856.4L367.0 860.3L363.1 863.4L360.0 865.0M360.0 877.5L363.1 879.1L367.8 880.6L366.2 885.3L362.3 887.7L360.0 888.4M404.5 897.8L410.0 895.5L414.7 893.1L419.4 890.0L422.5 889.7L425.6 892.3L430.3 895.0L434.2 897.8M657.5 797.8L663.8 794.7L670.0 792.3L674.7 790.0L673.9 793.1L670.0 796.2L665.3 800.2L660.6 804.1L657.5 804.8L658.3 800.9L657.5 797.8M653.4 812.7L653.0 815.0L651.9 816.4L650.6 816.4L649.5 815.0L649.1 812.7L649.5 810.4L650.6 808.9L651.9 808.9L653.0 810.4ZM638.0 825.2L643.4 822.8L642.7 825.2L638.8 826.7L638.0 825.2M611.4 865.0L613.8 857.2L616.9 854.1L620.0 849.4L626.2 844.7L630.9 841.6L631.7 843.9L627.8 849.4L623.1 852.5L620.0 856.4L617.7 861.1L613.8 864.2L611.4 865.0M400.0 805.0L391.6 803.4L396.2 807.3L393.9 812.8L392.3 819.1L388.4 825.3L385.3 831.6L379.1 834.7L374.4 840.2L377.5 844.1L372.8 848.8L368.1 851.1L365.0 856.6L360.3 862.8L361.9 869.1L360.3 875.3L363.4 880.0L366.6 884.7L361.9 887.8L355.6 889.4L349.4 886.2L344.7 889.4L347.8 894.1L343.1 897.2L338.4 895.6L340.0 891.7L343.1 889.4M360.3 842.5L365.0 840.9L369.7 842.5L374.4 844.1L372.8 848.0L368.1 848.8L363.4 847.2L360.3 845.6L360.3 842.5M357.2 880.0L361.9 877.7L366.6 879.2L368.9 882.3L365.0 886.2L360.3 884.7L357.2 883.1L357.2 880.0M689.3 631.1L692.8 629.9L696.3 627.0L701.0 622.9L706.9 621.7L711.6 621.7L713.9 625.2L716.2 628.1L719.8 630.5L725.6 631.1L730.3 629.9L735.0 629.3L737.3 632.2L736.8 636.3L732.7 638.7L730.9 641.0L735.0 642.2L739.7 643.9L743.2 646.9L746.7 649.2L746.1 652.7L743.2 656.2L739.7 659.8L736.8 663.9L736.2 668.0L733.8 672.7L731.5 678.5L729.7 684.4L729.1 691.4L726.8 697.3L725.0 700.8L719.8 699.0L716.2 700.8L718.0 703.7L712.7 706.6L709.2 709.6L705.1 711.3L704.5 709.0L707.5 705.5L708.6 702.0L706.9 698.4L705.1 695.5L706.9 693.8L708.6 692.0L706.9 690.2L703.9 690.8L701.6 693.8L700.4 697.3L701.6 700.8L703.9 703.7L702.8 706.6L699.8 706.1L696.3 704.3L692.2 703.7L689.3 701.4L688.1 699.6L691.6 697.9L694.0 694.9L693.4 691.4L691.1 688.5L689.9 684.4L689.3 679.7L687.5 676.2L684.6 673.2L683.4 670.3L685.2 666.8L687.5 665.0L690.5 665.6L692.8 668.0L695.2 670.3L698.7 669.1L700.4 665.6L702.8 662.7L702.2 659.2L700.4 656.2L698.7 652.7L697.5 649.2L696.3 646.3L694.0 643.9L691.6 645.1L689.3 646.9L688.7 650.4L691.1 652.7L689.3 654.5L686.4 655.1L683.4 656.8L680.5 658.6L678.2 662.1L677.6 659.8L679.3 656.2L682.3 654.5L681.7 651.6L679.3 649.8L676.4 651.6L674.1 649.2L671.7 646.3L669.4 643.4L667.0 641.0L665.3 642.8L664.7 639.8L667.0 637.5L669.4 639.3L671.7 639.3L675.2 637.5L678.8 636.3L681.1 634.0L682.3 630.5L685.8 629.3L689.3 631.1M688.1 656.2L691.6 654.5L694.6 655.7L695.2 658.6L692.8 661.5L689.3 661.5L687.5 659.2L688.1 656.2M685.2 665.6L688.1 664.5L689.3 668.0L688.1 671.5L685.2 672.7L683.4 669.7L685.2 665.6M691.6 666.8L696.3 665.6L697.5 668.6L695.2 670.3L691.6 669.7L691.6 666.8M674.1 692.6L676.4 689.1L679.3 686.1L681.1 685.5L680.5 687.3L677.6 690.2L675.2 693.2L674.1 692.6"/>
<g fill="#000" stroke="none"><circle cx="400.9" cy="482.8" r="0.7"/><circle cx="398.3" cy="485.6" r="0.7"/><circle cx="396.2" cy="489.5" r="0.7"/><circle cx="401.9" cy="493.8" r="0.7"/><circle cx="392.0" cy="496.1" r="0.7"/><circle cx="394.7" cy="496.1" r="0.7"/><circle cx="395.6" cy="497.7" r="0.7"/><circle cx="445.6" cy="458.0" r="0.9"/><circle cx="447.5" cy="456.9" r="0.9"/><circle cx="449.8" cy="455.6" r="0.9"/><circle cx="452.2" cy="455.0" r="0.9"/><circle cx="454.5" cy="455.6" r="0.9"/><circle cx="456.9" cy="456.7" r="0.9"/><circle cx="458.8" cy="457.5" r="0.9"/><circle cx="465.9" cy="447.8" r="0.9"/><circle cx="467.8" cy="449.4" r="0.9"/><circle cx="458.1" cy="462.2" r="0.9"/><circle cx="460.8" cy="461.9" r="0.9"/><circle cx="471.2" cy="461.9" r="0.9"/><circle cx="488.9" cy="440.3" r="0.9"/><circle cx="466.2" cy="455.9" r="0.9"/><circle cx="523.9" cy="447.3" r="0.9"/><circle cx="525.5" cy="446.2" r="0.9"/><circle cx="527.0" cy="474.7" r="0.9"/><circle cx="523.1" cy="478.6" r="0.9"/><circle cx="529.3" cy="495.6" r="0.8"/><circle cx="531.7" cy="501.0" r="0.8"/><circle cx="535.6" cy="502.5" r="0.8"/><circle cx="540.0" cy="504.9" r="0.8"/><circle cx="559.1" cy="520.5" r="0.8"/><circle cx="558.1" cy="524.9" r="0.8"/><circle cx="562.0" cy="522.0" r="0.8"/><circle cx="558.6" cy="549.8" r="0.8"/><circle cx="562.0" cy="552.3" r="0.8"/><circle cx="560.5" cy="535.7" r="0.8"/><circle cx="571.8" cy="561.5" r="0.8"/><circle cx="573.7" cy="563.0" r="0.8"/><circle cx="563.5" cy="567.4" r="0.8"/><circle cx="566.9" cy="569.4" r="0.8"/><circle cx="544.4" cy="561.1" r="0.8"/><circle cx="572.7" cy="523.0" r="0.8"/><circle cx="549.3" cy="538.6" r="0.8"/><circle cx="552.2" cy="542.5" r="0.8"/><circle cx="436.6" cy="723.0" r="0.9"/><circle cx="438.1" cy="725.3" r="0.9"/><circle cx="444.4" cy="723.0" r="0.9"/><circle cx="449.1" cy="720.6" r="0.9"/><circle cx="451.4" cy="722.2" r="0.9"/><circle cx="455.3" cy="717.5" r="0.9"/><circle cx="459.2" cy="720.6" r="0.9"/><circle cx="460.8" cy="721.4" r="0.9"/><circle cx="444.4" cy="727.7" r="0.9"/><circle cx="446.7" cy="730.0" r="0.9"/><circle cx="449.1" cy="730.8" r="0.9"/><circle cx="439.7" cy="733.9" r="0.9"/><circle cx="442.8" cy="735.5" r="0.9"/><circle cx="447.5" cy="735.9" r="0.9"/><circle cx="453.8" cy="737.0" r="0.9"/><circle cx="435.0" cy="737.8" r="0.9"/><circle cx="558.8" cy="550.0" r="1.2"/><circle cx="561.7" cy="551.7" r="1.2"/><circle cx="571.6" cy="561.7" r="1.2"/><circle cx="573.4" cy="562.9" r="1.2"/><circle cx="563.4" cy="567.5" r="1.2"/><circle cx="567.0" cy="569.3" r="1.2"/><circle cx="541.2" cy="597.4" r="1.2"/><circle cx="542.3" cy="598.6" r="1.2"/><circle cx="554.6" cy="600.4" r="1.2"/><circle cx="557.6" cy="610.3" r="1.2"/><circle cx="559.3" cy="612.1" r="1.2"/><circle cx="565.2" cy="610.3" r="1.2"/><circle cx="542.9" cy="612.7" r="1.2"/><circle cx="569.3" cy="620.9" r="1.2"/><circle cx="588.0" cy="619.7" r="1.2"/><circle cx="586.9" cy="613.2" r="1.2"/><circle cx="598.0" cy="611.5" r="1.2"/><circle cx="600.4" cy="617.3" r="1.2"/><circle cx="629.6" cy="599.5" r="1.2"/><circle cx="610.9" cy="600.9" r="1.2"/><circle cx="615.0" cy="602.7" r="1.2"/><circle cx="557.6" cy="613.8" r="1.2"/><circle cx="576.3" cy="614.4" r="1.2"/><circle cx="578.7" cy="613.2" r="1.2"/><circle cx="532.5" cy="616.7" r="1.0"/><circle cx="534.8" cy="598.0" r="1.0"/><circle cx="541.1" cy="596.4" r="1.0"/><circle cx="543.4" cy="612.0" r="1.0"/><circle cx="569.2" cy="620.6" r="1.0"/><circle cx="587.2" cy="613.6" r="1.0"/><circle cx="588.0" cy="619.8" r="1.0"/><circle cx="598.1" cy="612.0" r="1.0"/><circle cx="600.5" cy="617.5" r="1.0"/><circle cx="633.3" cy="680.0" r="1.0"/><circle cx="666.1" cy="706.6" r="1.0"/><circle cx="666.1" cy="716.7" r="1.0"/><circle cx="557.5" cy="608.1" r="1.0"/><circle cx="559.8" cy="611.2" r="1.0"/><circle cx="563.0" cy="609.7" r="1.0"/><circle cx="576.2" cy="613.6" r="1.0"/><circle cx="578.6" cy="612.0" r="1.0"/><circle cx="557.5" cy="595.6" r="1.0"/><circle cx="560.6" cy="593.3" r="1.0"/><circle cx="615.3" cy="601.9" r="1.0"/><circle cx="610.6" cy="600.3" r="1.0"/><circle cx="629.4" cy="598.8" r="1.0"/><circle cx="681.6" cy="717.5" r="0.9"/><circle cx="693.3" cy="718.3" r="0.9"/><circle cx="695.6" cy="718.0" r="0.9"/><circle cx="689.4" cy="729.2" r="0.9"/><circle cx="710.5" cy="720.6" r="0.9"/><circle cx="680.8" cy="686.2" r="0.9"/><circle cx="719.1" cy="594.8" r="0.9"/><circle cx="759.7" cy="696.4" r="0.9"/><circle cx="441.2" cy="760.3" r="1.0"/><circle cx="431.1" cy="781.4" r="1.0"/><circle cx="431.9" cy="790.8" r="1.0"/><circle cx="420.2" cy="802.5" r="1.0"/><circle cx="406.9" cy="811.1" r="1.0"/><circle cx="410.0" cy="817.3" r="1.0"/><circle cx="406.1" cy="822.0" r="1.0"/><circle cx="383.4" cy="837.7" r="1.0"/><circle cx="388.1" cy="855.6" r="1.0"/><circle cx="371.7" cy="861.9" r="1.0"/><circle cx="371.7" cy="868.9" r="1.0"/><circle cx="437.3" cy="879.1" r="1.0"/><circle cx="438.1" cy="883.8" r="1.0"/><circle cx="482.7" cy="874.7" r="1.0"/><circle cx="485.0" cy="875.2" r="1.0"/><circle cx="487.3" cy="869.7" r="1.0"/><circle cx="428.8" cy="769.7" r="1.0"/><circle cx="433.4" cy="768.9" r="1.0"/><circle cx="435.0" cy="771.2" r="1.0"/><circle cx="620.0" cy="835.3" r="1.0"/><circle cx="634.8" cy="835.0" r="1.0"/><circle cx="628.9" cy="810.0" r="1.0"/><circle cx="652.5" cy="780.3" r="1.0"/><circle cx="659.1" cy="769.7" r="1.0"/><circle cx="662.5" cy="767.3" r="1.0"/><circle cx="671.2" cy="760.0" r="1.0"/><circle cx="674.7" cy="754.8" r="1.0"/><circle cx="669.7" cy="746.6" r="1.0"/><circle cx="679.1" cy="747.8" r="1.0"/><circle cx="583.8" cy="856.4" r="1.0"/><circle cx="585.6" cy="857.2" r="1.0"/><circle cx="595.0" cy="856.4" r="1.0"/><circle cx="600.5" cy="861.1" r="1.0"/><circle cx="598.1" cy="849.4" r="1.0"/><circle cx="584.8" cy="849.4" r="1.0"/><circle cx="614.5" cy="845.0" r="1.0"/><circle cx="620.0" cy="838.4" r="1.0"/><circle cx="680.8" cy="744.7" r="1.1"/><circle cx="681.2" cy="747.8" r="1.1"/><circle cx="682.3" cy="795.5" r="1.1"/><circle cx="722.2" cy="872.0" r="1.1"/><circle cx="724.1" cy="870.0" r="1.1"/><circle cx="383.8" cy="837.8" r="1.0"/><circle cx="387.7" cy="855.8" r="1.0"/><circle cx="372.8" cy="861.2" r="1.0"/><circle cx="371.2" cy="869.1" r="1.0"/><circle cx="357.2" cy="891.7" r="1.0"/><circle cx="377.5" cy="848.8" r="1.0"/><circle cx="660.0" cy="650.4" r="1.1"/><circle cx="666.4" cy="706.9" r="1.1"/><circle cx="665.9" cy="717.2" r="1.1"/><circle cx="681.7" cy="717.2" r="1.1"/><circle cx="695.2" cy="718.4" r="1.1"/><circle cx="716.2" cy="718.4" r="1.1"/><circle cx="675.2" cy="625.2" r="1.1"/><circle cx="680.5" cy="635.2" r="1.1"/><circle cx="697.5" cy="621.7" r="1.1"/></g>
</g>

<path d="M124.5 184.4v-12.2M124.5 898.6v12.2M186.7 184.4v-12.2M186.7 898.6v12.2M248.8 184.4v-12.2M248.8 898.6v12.2M311.0 184.4v-12.2M311.0 898.6v12.2M373.2 184.4v-24.0M373.2 898.6v24.0M435.3 184.4v-12.2M435.3 898.6v12.2M497.5 184.4v-12.2M497.5 898.6v12.2M559.7 184.4v-12.2M559.7 898.6v12.2M621.8 184.4v-12.2M621.8 898.6v12.2M684.0 184.4v-24.0M684.0 898.6v24.0M746.2 184.4v-12.2M746.2 898.6v12.2M808.3 184.4v-12.2M808.3 898.6v12.2M124.5 867.5h-12.2M839.4 867.5h12.2M124.5 805.4h-12.2M839.4 805.4h12.2M124.5 743.3h-24.0M839.4 743.3h24.0M124.5 681.2h-12.2M839.4 681.2h12.2M124.5 619.1h-12.2M839.4 619.1h12.2M124.5 557.0h-12.2M839.4 557.0h12.2M124.5 494.9h-12.2M839.4 494.9h12.2M124.5 432.8h-24.0M839.4 432.8h24.0M124.5 370.7h-12.2M839.4 370.7h12.2M124.5 308.6h-12.2M839.4 308.6h12.2M124.5 246.5h-12.2M839.4 246.5h12.2M124.5 184.4h-12.2M839.4 184.4h12.2" stroke="#444" stroke-width="0.85" fill="none"/>
<rect x="124.5" y="184.4" width="714.9" height="714.2" fill="none" stroke="#111" stroke-width="1.15"/>
<text class="t" x="18.5" y="444.7" font-size="33.6px">40N</text>
<text class="t" x="18.5" y="755.2" font-size="33.6px">30N</text>
<text class="t" x="373.2" y="970.8" text-anchor="middle" font-size="33.6px">120E</text>
<text class="t" x="684.0" y="970.8" text-anchor="middle" font-size="33.6px">130E</text>
<rect x="125" y="871.2" width="200.8" height="27.4" fill="#fff" stroke="#000" stroke-width="1"/>
<text class="t" x="130.3" y="889.9" font-size="17px">WRF-Chem_NCAR_YSU</text>
<rect x="879.2" y="191.20" width="42.9" height="33.65" fill="#8F141A"/>
<rect x="879.2" y="224.55" width="42.9" height="33.65" fill="#A81820"/>
<rect x="879.2" y="257.90" width="42.9" height="33.65" fill="#C01C24"/>
<rect x="879.2" y="291.24" width="42.9" height="33.65" fill="#D62428"/>
<rect x="879.2" y="324.59" width="42.9" height="33.65" fill="#E04028"/>
<rect x="879.2" y="357.94" width="42.9" height="33.65" fill="#EC5A28"/>
<rect x="879.2" y="391.29" width="42.9" height="33.65" fill="#F67C2E"/>
<rect x="879.2" y="424.63" width="42.9" height="33.65" fill="#F5A640"/>
<rect x="879.2" y="457.98" width="42.9" height="33.65" fill="#FAD050"/>
<rect x="879.2" y="491.33" width="42.9" height="33.65" fill="#DFDF58"/>
<rect x="879.2" y="524.68" width="42.9" height="33.65" fill="#A4CF52"/>
<rect x="879.2" y="558.02" width="42.9" height="33.65" fill="#66BA48"/>
<rect x="879.2" y="591.37" width="42.9" height="33.65" fill="#4AAC66"/>
<rect x="879.2" y="624.72" width="42.9" height="33.65" fill="#4AA08C"/>
<rect x="879.2" y="658.07" width="42.9" height="33.65" fill="#4A92BC"/>
<rect x="879.2" y="691.41" width="42.9" height="33.65" fill="#60A2D6"/>
<rect x="879.2" y="724.76" width="42.9" height="33.65" fill="#7CBAE6"/>
<rect x="879.2" y="758.11" width="42.9" height="33.65" fill="#98D6F4"/>
<rect x="879.2" y="791.46" width="42.9" height="33.65" fill="#BAE6F9"/>
<rect x="879.2" y="824.80" width="42.9" height="33.65" fill="#DFF3FC"/>
<rect x="879.2" y="858.15" width="42.9" height="33.65" fill="#FFFFFF"/>
<path d="M879.2 224.55H922.1M879.2 257.90H922.1M879.2 291.24H922.1M879.2 324.59H922.1M879.2 357.94H922.1M879.2 391.29H922.1M879.2 424.63H922.1M879.2 457.98H922.1M879.2 491.33H922.1M879.2 524.68H922.1M879.2 558.02H922.1M879.2 591.37H922.1M879.2 624.72H922.1M879.2 658.07H922.1M879.2 691.41H922.1M879.2 724.76H922.1M879.2 758.11H922.1M879.2 791.46H922.1M879.2 824.80H922.1M879.2 858.15H922.1" stroke="#111" stroke-width="0.8" fill="none"/>
<rect x="879.2" y="191.2" width="42.9" height="700.3" fill="none" stroke="#777" stroke-width="0.8"/>
<text class="t" x="959.5" y="236.5" text-anchor="middle" font-size="33.6px">100</text>
<text class="t" x="959.5" y="303.2" text-anchor="middle" font-size="33.6px">90</text>
<text class="t" x="959.5" y="369.9" text-anchor="middle" font-size="33.6px">80</text>
<text class="t" x="959.5" y="436.6" text-anchor="middle" font-size="33.6px">70</text>
<text class="t" x="959.5" y="503.3" text-anchor="middle" font-size="33.6px">60</text>
<text class="t" x="959.5" y="570.0" text-anchor="middle" font-size="33.6px">50</text>
<text class="t" x="959.5" y="636.7" text-anchor="middle" font-size="33.6px">40</text>
<text class="t" x="959.5" y="703.4" text-anchor="middle" font-size="33.6px">30</text>
<text class="t" x="959.5" y="770.1" text-anchor="middle" font-size="33.6px">20</text>
<text class="t" x="959.5" y="836.8" text-anchor="middle" font-size="33.6px">10</text>
<g class="city" stroke="none">
<text x="255.0" y="451.1" text-anchor="end" textLength="27.7" lengthAdjust="spacingAndGlyphs">BJ</text>
<text x="279.4" y="467.5" text-anchor="end" textLength="24.9" lengthAdjust="spacingAndGlyphs">TJ</text>
<text x="545.4" y="470.7" text-anchor="end" textLength="29.0" lengthAdjust="spacingAndGlyphs">PY</text>
<text x="585.1" y="517.2" text-anchor="end" textLength="44.2" lengthAdjust="spacingAndGlyphs">SEO</text>
<text x="655.4" y="510.4" textLength="32.1" lengthAdjust="spacingAndGlyphs">GN</text>
<text x="596.5" y="554.0" text-anchor="end" textLength="26.0" lengthAdjust="spacingAndGlyphs">DJ</text>
<text x="634.0" y="569.1" text-anchor="end" textLength="30.7" lengthAdjust="spacingAndGlyphs">DG</text>
<text x="378.7" y="562.9" text-anchor="end" textLength="30.6" lengthAdjust="spacingAndGlyphs">QD</text>
<text x="582.0" y="591.1" text-anchor="end" textLength="28.4" lengthAdjust="spacingAndGlyphs">GJ</text>
<text x="648.9" y="590.8" text-anchor="end" textLength="29.6" lengthAdjust="spacingAndGlyphs">BS</text>
<text x="570.3" y="644.0" text-anchor="end" textLength="23.7" lengthAdjust="spacingAndGlyphs">JJ</text>
<text x="690.1" y="640.0" text-anchor="end" textLength="44.6" lengthAdjust="spacingAndGlyphs">FKO</text>
<text x="328.7" y="687.2" text-anchor="end" textLength="26.8" lengthAdjust="spacingAndGlyphs">NJ</text>
<text x="412.6" y="714.0" text-anchor="end" textLength="30.7" lengthAdjust="spacingAndGlyphs">SH</text>
<text x="372.0" y="743.5" text-anchor="end" textLength="28.7" lengthAdjust="spacingAndGlyphs">HZ</text>
</g>
<g fill="none" stroke="#0000f5" stroke-width="1.7"><circle cx="261.3" cy="443.4" r="5.7"/><path d="M257.4 439.5l7.8 7.8M265.2 439.5l-7.8 7.8"/><circle cx="285.7" cy="459.8" r="5.7"/><path d="M281.8 455.9l7.8 7.8M289.6 455.9l-7.8 7.8"/><circle cx="551.7" cy="463.0" r="5.7"/><path d="M547.8 459.1l7.8 7.8M555.6 459.1l-7.8 7.8"/><circle cx="591.4" cy="509.5" r="5.7"/><path d="M587.5 505.6l7.8 7.8M595.3 505.6l-7.8 7.8"/><circle cx="648.4" cy="502.8" r="5.7"/><path d="M644.5 498.9l7.8 7.8M652.3 498.9l-7.8 7.8"/><circle cx="602.8" cy="546.3" r="5.7"/><path d="M598.9 542.4l7.8 7.8M606.7 542.4l-7.8 7.8"/><circle cx="640.3" cy="561.4" r="5.7"/><path d="M636.4 557.5l7.8 7.8M644.2 557.5l-7.8 7.8"/><circle cx="385.0" cy="555.2" r="5.7"/><path d="M381.1 551.3l7.8 7.8M388.9 551.3l-7.8 7.8"/><circle cx="588.3" cy="583.4" r="5.7"/><path d="M584.4 579.5l7.8 7.8M592.2 579.5l-7.8 7.8"/><circle cx="655.2" cy="583.1" r="5.7"/><path d="M651.3 579.2l7.8 7.8M659.1 579.2l-7.8 7.8"/><circle cx="576.6" cy="636.3" r="5.7"/><path d="M572.7 632.4l7.8 7.8M580.5 632.4l-7.8 7.8"/><circle cx="696.4" cy="632.3" r="5.7"/><path d="M692.5 628.4l7.8 7.8M700.3 628.4l-7.8 7.8"/><circle cx="335.0" cy="679.5" r="5.7"/><path d="M331.1 675.6l7.8 7.8M338.9 675.6l-7.8 7.8"/><circle cx="418.9" cy="706.3" r="5.7"/><path d="M415.0 702.4l7.8 7.8M422.8 702.4l-7.8 7.8"/><circle cx="378.3" cy="735.8" r="5.7"/><path d="M374.4 731.9l7.8 7.8M382.2 731.9l-7.8 7.8"/></g>
</svg></body></html>
